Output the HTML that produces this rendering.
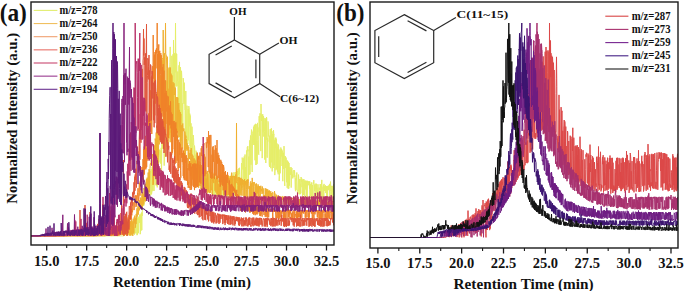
<!DOCTYPE html>
<html><head><meta charset="utf-8"><style>
html,body{margin:0;padding:0;background:#fff;width:685px;height:291px;overflow:hidden}
svg{display:block}
text{font-family:"Liberation Serif",serif;font-weight:bold;fill:#111}
.tk{font-size:14.5px}
.ax{font-size:14.6px}
.yl{font-size:13.7px}
.pl{font-size:22px}
.lg{font-size:10.5px}
.mo{font-size:11px}
</style></head><body>
<svg width="685" height="291" viewBox="0 0 685 291">
<defs><clipPath id="cl"><rect x="31" y="2" width="303" height="243"/></clipPath><clipPath id="cr"><rect x="370" y="2" width="308" height="246"/></clipPath></defs>
<g clip-path="url(#cl)"><polyline points="31.0,235.9 31.2,235.9 31.5,235.9 31.8,235.9 32.0,235.9 32.2,235.9 32.5,235.9 32.8,235.9 33.0,235.9 33.2,235.9 33.5,235.9 33.8,235.9 34.0,235.9 34.2,235.9 34.5,235.9 34.8,235.9 35.0,235.9 35.2,235.9 35.5,235.9 35.8,235.9 36.0,235.9 36.2,235.9 36.5,235.9 36.8,235.9 37.0,235.9 37.2,235.9 37.5,235.9 37.8,235.9 38.0,235.9 38.2,235.9 38.5,235.9 38.8,235.9 39.0,235.9 39.2,235.9 39.5,235.9 39.8,235.9 40.0,235.9 40.2,235.9 40.5,235.9 40.8,235.9 41.0,235.9 41.2,235.9 41.5,235.9 41.8,235.9 42.0,235.9 42.2,235.9 42.5,235.9 42.8,235.9 43.0,235.9 43.2,235.9 43.5,235.9 43.8,235.9 44.0,235.9 44.2,235.9 44.5,235.9 44.8,235.9 45.0,235.9 45.2,235.9 45.5,235.9 45.8,235.9 46.0,235.9 46.2,235.9 46.5,235.9 46.8,235.9 47.0,235.9 47.2,235.9 47.5,235.9 47.8,235.9 48.0,235.9 48.2,235.9 48.5,235.9 48.8,235.9 49.0,235.9 49.2,235.9 49.5,235.9 49.8,235.9 50.0,235.9 50.2,235.9 50.5,235.9 50.8,235.9 51.0,235.9 51.2,235.9 51.5,235.9 51.8,235.9 52.0,235.9 52.2,235.9 52.5,235.9 52.8,235.9 53.0,235.9 53.2,235.9 53.5,235.9 53.8,235.9 54.0,235.9 54.2,235.9 54.5,235.9 54.8,235.9 55.0,235.9 55.2,235.9 55.5,235.9 55.8,235.9 56.0,235.9 56.2,235.9 56.5,235.9 56.8,235.9 57.0,235.9 57.2,235.9 57.5,235.9 57.8,235.9 58.0,235.9 58.2,235.9 58.5,235.9 58.8,235.9 59.0,235.9 59.2,235.9 59.5,235.9 59.8,235.9 60.0,235.9 60.2,235.9 60.5,235.9 60.8,235.9 61.0,235.9 61.2,235.9 61.5,235.9 61.8,235.9 62.0,235.9 62.2,235.9 62.5,235.9 62.8,235.9 63.0,235.9 63.2,235.9 63.5,235.9 63.8,235.9 64.0,235.9 64.2,235.9 64.5,235.9 64.8,235.9 65.0,235.9 65.2,235.9 65.5,235.9 65.8,235.9 66.0,235.9 66.2,235.9 66.5,235.9 66.8,235.9 67.0,235.9 67.2,235.9 67.5,235.9 67.8,235.9 68.0,235.9 68.2,235.9 68.5,235.9 68.8,235.9 69.0,235.9 69.2,235.9 69.5,235.9 69.8,235.9 70.0,235.9 70.2,235.9 70.5,235.9 70.8,235.9 71.0,235.9 71.2,235.9 71.5,235.9 71.8,235.9 72.0,235.9 72.2,235.9 72.5,235.9 72.8,235.9 73.0,235.9 73.2,235.9 73.5,235.9 73.8,235.9 74.0,235.9 74.2,235.9 74.5,235.9 74.8,235.9 75.0,235.9 75.2,235.9 75.5,235.9 75.8,235.9 76.0,235.9 76.2,235.9 76.5,235.9 76.8,235.9 77.0,235.9 77.2,235.9 77.5,235.9 77.8,235.9 78.0,235.9 78.2,235.9 78.5,235.9 78.8,235.9 79.0,235.9 79.2,235.9 79.5,235.9 79.8,235.9 80.0,235.9 80.2,235.9 80.5,235.9 80.8,235.9 81.0,235.9 81.2,235.9 81.5,235.9 81.8,235.9 82.0,235.9 82.2,235.9 82.5,235.9 82.8,235.9 83.0,235.9 83.2,235.9 83.5,235.9 83.8,235.9 84.0,235.9 84.2,235.9 84.5,235.9 84.8,235.9 85.0,235.9 85.2,235.9 85.5,235.9 85.8,235.9 86.0,235.9 86.2,235.9 86.5,235.9 86.8,235.9 87.0,235.9 87.2,235.9 87.5,235.9 87.8,235.9 88.0,235.9 88.2,235.9 88.5,235.9 88.8,235.9 89.0,235.9 89.2,235.9 89.5,235.9 89.8,235.9 90.0,235.9 90.2,235.9 90.5,235.9 90.8,235.9 91.0,235.9 91.2,235.9 91.5,235.9 91.8,235.9 92.0,235.9 92.2,235.9 92.5,235.9 92.8,235.9 93.0,235.9 93.2,235.9 93.5,235.9 93.8,235.9 94.0,235.9 94.2,235.9 94.5,235.9 94.8,235.9 95.0,235.9 95.2,235.9 95.5,235.9 95.8,235.9 96.0,235.9 96.2,235.9 96.5,235.9 96.8,235.9 97.0,235.9 97.2,235.9 97.5,235.9 97.8,235.9 98.0,235.9 98.2,235.9 98.5,235.9 98.8,235.9 99.0,235.9 99.2,235.9 99.5,235.9 99.8,235.9 100.0,235.9 100.2,235.9 100.5,235.9 100.8,235.9 101.0,235.9 101.2,235.9 101.5,235.9 101.8,235.9 102.0,235.9 102.2,235.9 102.5,235.9 102.8,235.9 103.0,235.9 103.2,235.9 103.5,235.9 103.8,235.9 104.0,235.9 104.2,235.9 104.5,235.9 104.8,235.9 105.0,235.9 105.2,235.9 105.5,235.9 105.8,235.9 106.0,235.9 106.2,235.9 106.5,235.9 106.8,235.9 107.0,235.9 107.2,235.9 107.5,235.9 107.8,235.9 108.0,235.9 108.2,235.9 108.5,235.9 108.8,235.9 109.0,235.9 109.2,235.9 109.5,235.9 109.8,235.9 110.0,235.9 110.2,235.9 110.5,235.9 110.8,235.9 111.0,235.9 111.2,235.9 111.5,235.9 111.8,235.9 112.0,235.9 112.2,235.9 112.5,235.9 112.8,235.9 113.0,235.9 113.2,235.9 113.5,235.9 113.8,235.9 114.0,235.9 114.2,235.9 114.5,235.9 114.8,235.9 115.0,235.9 115.2,235.9 115.5,235.9 115.8,235.9 116.0,235.9 116.2,235.9 116.5,235.9 116.8,235.9 117.0,235.9 117.2,235.9 117.5,235.9 117.8,235.9 118.0,235.9 118.2,235.9 118.5,235.9 118.8,235.9 119.0,235.9 119.2,235.9 119.5,235.9 119.8,235.9 120.0,235.9 120.2,235.9 120.5,235.9 120.8,235.9 121.0,235.9 121.2,235.9 121.5,235.9 121.8,235.9 122.0,235.9 122.2,235.9 122.5,235.9 122.8,235.9 123.0,235.9 123.2,235.9 123.5,235.9 123.8,235.9 124.0,235.9 124.2,234.9 124.5,234.0 124.8,233.0 125.0,234.9 125.2,233.1 125.5,230.0 125.8,229.6 126.0,228.1 126.2,230.2 126.5,228.8 126.8,228.6 127.0,235.8 127.2,227.5 127.5,231.2 127.8,227.0 128.0,234.9 128.2,234.8 128.5,226.8 128.8,228.1 129.0,226.1 129.2,227.5 129.5,226.9 129.8,235.5 130.0,225.3 130.2,224.2 130.5,235.3 130.8,234.5 131.0,223.7 131.2,223.3 131.5,224.1 131.8,235.1 132.0,222.9 132.2,235.3 132.5,222.4 132.8,222.0 133.0,221.8 133.2,222.6 133.5,221.5 133.8,232.4 134.0,226.9 134.2,232.5 134.5,234.7 134.8,233.0 135.0,222.9 135.2,220.7 135.5,219.4 135.8,233.3 136.0,218.9 136.2,219.0 136.5,218.7 136.8,225.6 137.0,235.2 137.2,217.7 137.5,234.8 137.8,218.4 138.0,216.6 138.2,232.5 138.5,233.2 138.8,217.5 139.0,218.6 139.2,222.6 139.5,214.9 139.8,222.7 140.0,214.5 140.2,234.2 140.5,232.8 140.8,214.6 141.0,230.7 141.2,213.1 141.5,212.6 141.8,230.1 142.0,212.8 142.2,215.9 142.5,202.4 142.8,200.8 143.0,196.9 143.2,205.7 143.5,205.7 143.8,196.2 144.0,205.4 144.2,188.5 144.5,201.5 144.8,187.9 145.0,192.0 145.2,190.6 145.5,200.1 145.8,200.1 146.0,183.4 146.2,190.4 146.5,196.9 146.8,183.6 147.0,197.7 147.2,186.2 147.5,180.8 147.8,178.9 148.0,182.4 148.2,178.0 148.5,177.6 148.8,195.2 149.0,175.7 149.2,176.5 149.5,180.4 149.8,180.2 150.0,176.7 150.2,195.5 150.5,170.9 150.8,173.0 151.0,173.2 151.2,169.2 151.5,194.4 151.8,192.8 152.0,189.8 152.2,166.8 152.5,190.6 152.8,191.1 153.0,191.0 153.2,164.5 153.5,165.4 153.8,163.9 154.0,190.9 154.2,168.4 154.5,166.3 154.8,165.0 155.0,163.8 155.2,184.9 155.5,161.9 155.8,158.9 156.0,158.1 156.2,186.0 156.5,185.5 156.8,163.3 157.0,181.9 157.2,187.4 157.5,183.9 157.8,165.2 158.0,153.3 158.2,180.3 158.5,154.0 158.8,151.6 159.0,155.3 159.2,150.4 159.5,149.7 159.8,157.0 160.0,162.4 160.2,150.4 160.5,158.4 160.8,163.7 161.0,154.9 161.2,147.8 161.5,179.8 161.8,143.1 162.0,140.6 162.2,145.3 162.5,148.6 162.8,133.3 163.0,131.3 163.2,127.5 163.5,125.1 163.8,124.1 164.0,120.1 164.2,165.6 164.5,129.0 164.8,132.6 165.0,110.2 165.2,109.5 165.5,156.5 165.8,105.9 166.0,100.2 166.2,104.7 166.5,80.7 166.8,105.4 167.0,88.5 167.2,104.7 167.5,104.7 167.8,80.9 168.0,146.0 168.2,142.9 168.5,72.1 168.8,68.3 169.0,130.6 169.2,101.3 169.5,138.3 169.8,64.4 170.0,62.3 170.2,46.9 170.5,131.8 170.8,125.2 171.0,129.6 171.2,127.5 171.5,118.1 171.8,55.8 172.0,79.6 172.2,121.3 172.5,93.2 172.8,80.0 173.0,54.3 173.2,119.3 173.5,40.0 173.8,62.6 174.0,53.7 174.2,53.3 174.5,53.3 174.8,134.4 175.0,54.8 175.2,72.4 175.5,23.0 175.8,55.3 176.0,86.6 176.2,82.8 176.5,53.6 176.8,54.3 177.0,86.2 177.2,81.6 177.5,81.1 177.8,71.5 178.0,93.6 178.2,121.8 178.5,83.1 178.8,80.6 179.0,65.3 179.2,131.3 179.5,61.9 179.8,97.2 180.0,87.3 180.2,140.4 180.5,67.2 180.8,90.2 181.0,140.8 181.2,140.3 181.5,70.8 181.8,76.6 182.0,129.2 182.2,128.0 182.5,103.4 182.8,130.9 183.0,94.3 183.2,78.1 183.5,82.3 183.8,95.0 184.0,103.9 184.2,82.6 184.5,86.8 184.8,110.3 185.0,110.5 185.2,140.7 185.5,138.2 185.8,91.0 186.0,113.1 186.2,113.3 186.5,137.7 186.8,132.7 187.0,105.7 187.2,140.8 187.5,136.9 187.8,144.0 188.0,116.0 188.2,109.1 188.5,140.3 188.8,106.1 189.0,107.6 189.2,109.2 189.5,126.2 189.8,113.7 190.0,146.2 190.2,115.5 190.5,150.4 190.8,135.7 191.0,123.3 191.2,136.7 191.5,138.9 191.8,155.8 192.0,126.7 192.2,133.9 192.5,159.0 192.8,143.4 193.0,144.7 193.2,135.0 193.5,137.6 193.8,143.8 194.0,164.2 194.2,169.2 194.5,145.6 194.8,149.3 195.0,169.5 195.2,154.6 195.5,155.1 195.8,173.6 196.0,150.7 196.2,151.6 196.5,151.9 196.8,174.1 197.0,153.5 197.2,155.3 197.5,178.8 197.8,177.2 198.0,167.9 198.2,160.7 198.5,180.3 198.8,161.0 199.0,178.2 199.2,162.2 199.5,165.2 199.8,164.8 200.0,165.0 200.2,171.0 200.5,166.0 200.8,166.0 201.0,169.8 201.2,167.8 201.5,167.3 201.8,167.0 202.0,177.4 202.2,184.8 202.5,169.2 202.8,170.8 203.0,169.8 203.2,184.5 203.5,188.4 203.8,169.7 204.0,178.1 204.2,170.3 204.5,190.3 204.8,179.2 205.0,174.8 205.2,190.6 205.5,174.3 205.8,178.3 206.0,171.8 206.2,187.9 206.5,188.6 206.8,173.5 207.0,189.8 207.2,188.8 207.5,191.6 207.8,176.9 208.0,174.0 208.2,191.7 208.5,177.3 208.8,192.4 209.0,175.5 209.2,175.9 209.5,191.1 209.8,175.5 210.0,170.3 210.2,192.3 210.5,175.0 210.8,177.3 211.0,177.9 211.2,177.3 211.5,177.0 211.8,181.2 212.0,183.3 212.2,175.4 212.5,192.1 212.8,194.6 213.0,175.7 213.2,176.4 213.5,194.9 213.8,175.9 214.0,177.2 214.2,176.1 214.5,177.2 214.8,196.1 215.0,176.4 215.2,192.4 215.5,178.4 215.8,176.6 216.0,177.7 216.2,194.5 216.5,180.8 216.8,180.3 217.0,196.8 217.2,177.9 217.5,181.7 217.8,193.4 218.0,183.4 218.2,181.0 218.5,186.2 218.8,180.4 219.0,196.3 219.2,178.8 219.5,181.8 219.8,194.5 220.0,178.9 220.2,195.7 220.5,181.9 220.8,178.0 221.0,183.0 221.2,178.2 221.5,172.7 221.8,186.1 222.0,197.9 222.2,197.7 222.5,177.6 222.8,177.3 223.0,193.7 223.2,177.6 223.5,196.7 223.8,181.1 224.0,178.8 224.2,195.5 224.5,193.7 224.8,186.0 225.0,177.2 225.2,182.7 225.5,177.2 225.8,177.0 226.0,194.8 226.2,179.4 226.5,196.5 226.8,184.3 227.0,178.4 227.2,179.0 227.5,196.6 227.8,177.4 228.0,183.0 228.2,198.0 228.5,176.7 228.8,180.9 229.0,176.7 229.2,196.4 229.5,179.2 229.8,177.8 230.0,193.3 230.2,176.6 230.5,181.9 230.8,176.3 231.0,193.4 231.2,176.3 231.5,172.9 231.8,183.6 232.0,176.8 232.2,193.7 232.5,186.6 232.8,179.6 233.0,175.4 233.2,197.3 233.5,174.4 233.8,174.1 234.0,172.2 234.2,194.4 234.5,177.8 234.8,193.8 235.0,195.5 235.2,173.4 235.5,172.1 235.8,192.8 236.0,192.9 236.2,179.1 236.5,171.0 236.8,193.0 237.0,172.2 237.2,192.8 237.5,170.9 237.8,172.6 238.0,189.5 238.2,169.0 238.5,174.9 238.8,170.9 239.0,168.1 239.2,173.9 239.5,167.8 239.8,177.9 240.0,180.4 240.2,187.6 240.5,193.2 240.8,190.9 241.0,189.7 241.2,190.7 241.5,163.1 241.8,185.6 242.0,190.0 242.2,157.6 242.5,160.6 242.8,163.5 243.0,169.5 243.2,164.4 243.5,158.4 243.8,186.7 244.0,182.5 244.2,156.5 244.5,180.7 244.8,181.4 245.0,154.5 245.2,182.0 245.5,167.3 245.8,184.1 246.0,182.5 246.2,178.7 246.5,150.5 246.8,179.2 247.0,160.8 247.2,147.4 247.5,146.4 247.8,151.3 248.0,149.5 248.2,179.9 248.5,179.6 248.8,156.6 249.0,175.0 249.2,146.0 249.5,151.0 249.8,140.3 250.0,174.2 250.2,144.5 250.5,135.5 250.8,137.5 251.0,164.7 251.2,135.8 251.5,129.6 251.8,130.9 252.0,166.7 252.2,172.0 252.5,137.9 252.8,133.5 253.0,131.6 253.2,142.3 253.5,127.0 253.8,145.0 254.0,126.0 254.2,125.5 254.5,145.1 254.8,124.7 255.0,160.3 255.2,125.3 255.5,123.8 255.8,165.0 256.0,164.0 256.2,124.2 256.5,164.4 256.8,141.1 257.0,163.8 257.2,163.9 257.5,122.9 257.8,132.0 258.0,127.5 258.2,139.3 258.5,153.7 258.8,154.7 259.0,118.6 259.2,116.1 259.5,123.6 259.8,135.8 260.0,113.3 260.2,133.0 260.5,129.7 260.8,151.1 261.0,104.0 261.2,114.7 261.5,121.0 261.8,117.9 262.0,114.3 262.2,158.1 262.5,116.7 262.8,114.4 263.0,132.2 263.2,116.0 263.5,116.4 263.8,136.6 264.0,117.8 264.2,118.0 264.5,131.4 264.8,159.6 265.0,137.4 265.2,120.1 265.5,118.7 265.8,163.0 266.0,118.3 266.2,139.8 266.5,117.0 266.8,118.7 267.0,154.6 267.2,157.7 267.5,138.0 267.8,141.6 268.0,121.4 268.2,122.6 268.5,136.6 268.8,136.8 269.0,137.4 269.2,164.2 269.5,166.9 269.8,135.6 270.0,142.8 270.2,129.1 270.5,164.0 270.8,168.2 271.0,138.2 271.2,128.4 271.5,128.4 271.8,162.4 272.0,131.2 272.2,171.4 272.5,134.2 272.8,141.4 273.0,165.4 273.2,168.0 273.5,130.1 273.8,134.5 274.0,134.1 274.2,165.2 274.5,140.5 274.8,175.1 275.0,171.4 275.2,138.4 275.5,148.1 275.8,137.5 276.0,170.2 276.2,138.8 276.5,142.1 276.8,169.0 277.0,145.2 277.2,143.6 277.5,172.2 277.8,148.8 278.0,146.7 278.2,174.3 278.5,144.6 278.8,148.8 279.0,149.6 279.2,180.9 279.5,175.5 279.8,156.8 280.0,149.6 280.2,173.3 280.5,159.3 280.8,147.5 281.0,148.1 281.2,156.4 281.5,149.1 281.8,149.5 282.0,166.0 282.2,150.5 282.5,162.4 282.8,181.2 283.0,153.4 283.2,157.2 283.5,152.8 283.8,169.1 284.0,146.1 284.2,154.8 284.5,182.9 284.8,185.9 285.0,170.9 285.2,156.0 285.5,167.8 285.8,167.2 286.0,157.5 286.2,157.9 286.5,180.8 286.8,182.3 287.0,160.7 287.2,187.8 287.5,160.7 287.8,163.9 288.0,164.7 288.2,188.9 288.5,161.8 288.8,188.5 289.0,163.0 289.2,184.0 289.5,185.5 289.8,167.3 290.0,169.8 290.2,174.9 290.5,172.0 290.8,172.1 291.0,167.0 291.2,187.6 291.5,169.3 291.8,168.7 292.0,168.2 292.2,173.8 292.5,174.9 292.8,178.4 293.0,173.1 293.2,171.4 293.5,170.3 293.8,170.8 294.0,177.1 294.2,175.5 294.5,170.3 294.8,173.7 295.0,179.5 295.2,188.7 295.5,191.2 295.8,178.5 296.0,190.0 296.2,175.3 296.5,180.2 296.8,172.5 297.0,182.0 297.2,190.7 297.5,194.2 297.8,193.9 298.0,189.9 298.2,190.9 298.5,174.6 298.8,177.9 299.0,193.0 299.2,194.3 299.5,179.4 299.8,183.2 300.0,179.0 300.2,194.2 300.5,183.7 300.8,193.3 301.0,177.2 301.2,177.0 301.5,181.7 301.8,178.6 302.0,187.2 302.2,179.8 302.5,197.4 302.8,194.0 303.0,182.9 303.2,179.1 303.5,195.0 303.8,182.5 304.0,179.4 304.2,180.1 304.5,180.4 304.8,198.8 305.0,184.2 305.2,187.8 305.5,180.6 305.8,189.6 306.0,182.4 306.2,181.2 306.5,197.4 306.8,180.7 307.0,197.7 307.2,198.2 307.5,180.9 307.8,182.9 308.0,181.4 308.2,185.3 308.5,183.7 308.8,181.5 309.0,182.6 309.2,181.4 309.5,188.7 309.8,181.6 310.0,198.0 310.2,189.0 310.5,197.2 310.8,183.9 311.0,199.9 311.2,199.3 311.5,182.7 311.8,182.3 312.0,199.6 312.2,199.4 312.5,185.2 312.8,190.7 313.0,200.4 313.2,182.9 313.5,183.4 313.8,180.1 314.0,183.3 314.2,183.5 314.5,190.9 314.8,184.7 315.0,200.6 315.2,190.9 315.5,189.6 315.8,183.6 316.0,185.2 316.2,197.6 316.5,183.9 316.8,184.0 317.0,188.7 317.2,188.2 317.5,192.6 317.8,199.9 318.0,184.3 318.2,192.9 318.5,201.3 318.8,201.3 319.0,187.8 319.2,187.7 319.5,188.2 319.8,190.3 320.0,188.9 320.2,184.0 320.5,199.3 320.8,185.2 321.0,193.4 321.2,200.0 321.5,185.4 321.8,179.9 322.0,188.4 322.2,187.5 322.5,200.4 322.8,200.9 323.0,186.0 323.2,185.3 323.5,185.3 323.8,201.2 324.0,183.9 324.2,185.4 324.5,190.7 324.8,186.5 325.0,189.2 325.2,191.1 325.5,185.4 325.8,193.1 326.0,187.4 326.2,186.0 326.5,186.9 326.8,199.2 327.0,186.0 327.2,188.0 327.5,201.3 327.8,186.7 328.0,185.9 328.2,190.2 328.5,185.8 328.8,189.5 329.0,185.6 329.2,186.7 329.5,183.9 329.8,200.1 330.0,202.6 330.2,191.3 330.5,181.6 330.8,190.9 331.0,189.7 331.2,202.6 331.5,199.8 331.8,185.9 332.0,201.8 332.2,185.9 332.5,191.7 332.8,187.9 333.0,187.0 333.2,200.5 333.5,187.8 333.8,184.4 334.0,185.2" fill="none" stroke="#e6ee68" stroke-width="1.0" stroke-linejoin="miter"/><polyline points="31.0,235.9 31.2,235.9 31.5,235.9 31.8,235.9 32.0,235.9 32.2,235.9 32.5,235.9 32.8,235.9 33.0,235.9 33.2,235.9 33.5,235.9 33.8,235.9 34.0,235.9 34.2,235.9 34.5,235.9 34.8,235.9 35.0,235.9 35.2,235.9 35.5,235.9 35.8,235.9 36.0,235.9 36.2,235.9 36.5,235.9 36.8,235.9 37.0,235.9 37.2,235.9 37.5,235.9 37.8,235.9 38.0,235.9 38.2,235.9 38.5,235.9 38.8,235.9 39.0,235.9 39.2,235.9 39.5,235.9 39.8,235.9 40.0,235.9 40.2,235.9 40.5,235.9 40.8,235.9 41.0,235.9 41.2,235.9 41.5,235.9 41.8,235.9 42.0,235.9 42.2,235.9 42.5,235.9 42.8,235.9 43.0,235.9 43.2,235.9 43.5,235.9 43.8,235.9 44.0,235.9 44.2,235.9 44.5,235.9 44.8,235.9 45.0,235.9 45.2,235.9 45.5,235.9 45.8,235.9 46.0,235.9 46.2,235.9 46.5,235.9 46.8,235.9 47.0,235.9 47.2,235.9 47.5,235.9 47.8,235.9 48.0,235.9 48.2,235.9 48.5,235.9 48.8,235.9 49.0,235.9 49.2,235.9 49.5,235.9 49.8,235.9 50.0,235.9 50.2,235.9 50.5,235.9 50.8,235.9 51.0,235.9 51.2,235.9 51.5,235.9 51.8,235.9 52.0,235.9 52.2,235.9 52.5,235.9 52.8,235.9 53.0,235.9 53.2,235.9 53.5,235.9 53.8,235.9 54.0,235.9 54.2,235.9 54.5,235.9 54.8,235.9 55.0,235.9 55.2,235.9 55.5,235.9 55.8,235.9 56.0,235.9 56.2,235.9 56.5,235.9 56.8,235.9 57.0,235.9 57.2,235.9 57.5,235.9 57.8,235.9 58.0,235.9 58.2,235.9 58.5,235.9 58.8,235.9 59.0,235.9 59.2,235.9 59.5,235.9 59.8,235.9 60.0,235.9 60.2,235.9 60.5,235.9 60.8,235.9 61.0,235.9 61.2,235.9 61.5,235.9 61.8,235.9 62.0,235.9 62.2,235.9 62.5,235.9 62.8,235.9 63.0,235.9 63.2,235.9 63.5,235.9 63.8,235.9 64.0,235.9 64.2,235.9 64.5,235.9 64.8,235.9 65.0,235.9 65.2,235.9 65.5,235.9 65.8,235.9 66.0,235.9 66.2,235.9 66.5,235.9 66.8,235.9 67.0,235.9 67.2,235.9 67.5,235.9 67.8,235.9 68.0,235.9 68.2,235.9 68.5,235.9 68.8,235.9 69.0,235.9 69.2,235.9 69.5,235.9 69.8,235.9 70.0,235.9 70.2,235.9 70.5,235.9 70.8,235.9 71.0,235.9 71.2,235.9 71.5,235.9 71.8,235.9 72.0,235.9 72.2,235.9 72.5,235.9 72.8,235.9 73.0,235.9 73.2,235.9 73.5,235.9 73.8,235.9 74.0,235.9 74.2,235.9 74.5,235.9 74.8,235.9 75.0,235.9 75.2,235.9 75.5,235.9 75.8,235.9 76.0,235.9 76.2,235.9 76.5,235.9 76.8,235.9 77.0,235.9 77.2,235.9 77.5,235.9 77.8,235.9 78.0,235.9 78.2,235.9 78.5,235.9 78.8,235.9 79.0,235.9 79.2,235.9 79.5,235.9 79.8,235.9 80.0,235.9 80.2,235.9 80.5,235.9 80.8,235.9 81.0,235.9 81.2,235.9 81.5,235.9 81.8,235.9 82.0,235.9 82.2,235.9 82.5,235.9 82.8,235.9 83.0,235.9 83.2,235.9 83.5,235.9 83.8,235.9 84.0,235.9 84.2,235.9 84.5,235.9 84.8,235.9 85.0,235.9 85.2,235.9 85.5,235.9 85.8,235.9 86.0,235.9 86.2,235.9 86.5,235.9 86.8,235.9 87.0,235.9 87.2,235.9 87.5,235.9 87.8,235.9 88.0,235.9 88.2,235.9 88.5,235.9 88.8,235.9 89.0,235.9 89.2,235.9 89.5,235.9 89.8,235.9 90.0,235.9 90.2,235.9 90.5,235.9 90.8,235.9 91.0,235.9 91.2,235.9 91.5,235.9 91.8,235.9 92.0,235.9 92.2,235.9 92.5,235.9 92.8,235.9 93.0,235.9 93.2,235.9 93.5,235.9 93.8,235.9 94.0,235.9 94.2,235.9 94.5,235.9 94.8,235.9 95.0,235.9 95.2,235.9 95.5,235.9 95.8,235.9 96.0,235.9 96.2,235.9 96.5,235.9 96.8,235.9 97.0,235.9 97.2,235.9 97.5,235.9 97.8,235.9 98.0,235.9 98.2,235.9 98.5,235.9 98.8,235.9 99.0,235.9 99.2,235.9 99.5,235.9 99.8,235.9 100.0,235.9 100.2,235.9 100.5,235.9 100.8,235.9 101.0,235.9 101.2,235.9 101.5,235.9 101.8,235.9 102.0,235.9 102.2,235.9 102.5,235.9 102.8,235.9 103.0,235.9 103.2,235.9 103.5,235.9 103.8,235.9 104.0,235.9 104.2,235.9 104.5,235.9 104.8,235.9 105.0,235.9 105.2,235.9 105.5,235.9 105.8,235.6 106.0,235.9 106.2,235.5 106.5,235.3 106.8,235.3 107.0,235.6 107.2,235.1 107.5,235.4 107.8,234.9 108.0,234.8 108.2,235.9 108.5,234.6 108.8,234.7 109.0,234.3 109.2,234.3 109.5,234.3 109.8,234.1 110.0,234.0 110.2,235.8 110.5,234.1 110.8,234.2 111.0,234.4 111.2,233.5 111.5,234.1 111.8,235.7 112.0,235.6 112.2,233.2 112.5,233.1 112.8,234.0 113.0,233.3 113.2,233.1 113.5,233.5 113.8,235.1 114.0,233.6 114.2,233.0 114.5,233.3 114.8,233.8 115.0,235.7 115.2,232.7 115.5,235.7 115.8,232.2 116.0,233.0 116.2,231.6 116.5,234.9 116.8,231.1 117.0,232.8 117.2,235.4 117.5,230.5 117.8,235.6 118.0,235.0 118.2,231.5 118.5,229.9 118.8,235.3 119.0,235.0 119.2,229.9 119.5,229.4 119.8,231.8 120.0,234.4 120.2,228.9 120.5,229.3 120.8,234.3 121.0,230.1 121.2,234.6 121.5,229.8 121.8,228.5 122.0,229.3 122.2,229.8 122.5,230.0 122.8,229.3 123.0,227.3 123.2,234.3 123.5,235.4 123.8,230.9 124.0,235.6 124.2,235.9 124.5,230.8 124.8,226.7 125.0,227.0 125.2,225.8 125.5,226.0 125.8,225.4 126.0,225.6 126.2,225.1 126.5,235.8 126.8,233.9 127.0,234.4 127.2,224.9 127.5,233.8 127.8,233.9 128.0,223.7 128.2,234.1 128.5,228.4 128.8,227.2 129.0,226.7 129.2,235.5 129.5,222.0 129.8,227.2 130.0,226.6 130.2,221.4 130.5,227.2 130.8,235.6 131.0,220.8 131.2,225.8 131.5,220.2 131.8,234.3 132.0,220.7 132.2,221.5 132.5,225.6 132.8,235.9 133.0,232.7 133.2,218.7 133.5,226.2 133.8,233.5 134.0,231.8 134.2,217.3 134.5,223.3 134.8,215.6 135.0,221.9 135.2,227.8 135.5,227.3 135.8,217.8 136.0,224.0 136.2,213.9 136.5,220.1 136.8,211.6 137.0,208.3 137.2,216.6 137.5,214.4 137.8,209.3 138.0,206.2 138.2,214.7 138.5,212.8 138.8,206.7 139.0,206.9 139.2,201.4 139.5,210.3 139.8,200.3 140.0,204.4 140.2,204.4 140.5,200.3 140.8,197.5 141.0,209.1 141.2,198.7 141.5,208.0 141.8,208.4 142.0,193.6 142.2,207.7 142.5,192.4 142.8,192.0 143.0,205.2 143.2,194.1 143.5,194.2 143.8,203.7 144.0,188.0 144.2,189.8 144.5,189.3 144.8,200.8 145.0,190.3 145.2,184.3 145.5,201.4 145.8,184.2 146.0,185.8 146.2,180.4 146.5,179.0 146.8,196.2 147.0,177.9 147.2,177.6 147.5,180.9 147.8,196.2 148.0,179.5 148.2,172.5 148.5,190.7 148.8,191.5 149.0,169.2 149.2,171.1 149.5,192.3 149.8,170.3 150.0,168.2 150.2,164.6 150.5,163.1 150.8,164.8 151.0,163.4 151.2,159.8 151.5,160.0 151.8,157.2 152.0,156.1 152.2,155.1 152.5,154.2 152.8,158.6 153.0,185.0 153.2,160.3 153.5,184.1 153.8,155.1 154.0,145.2 154.2,146.3 154.5,145.9 154.8,158.5 155.0,176.8 155.2,138.6 155.5,141.4 155.8,172.0 156.0,139.2 156.2,132.5 156.5,164.4 156.8,127.9 157.0,127.7 157.2,169.1 157.5,139.4 157.8,117.6 158.0,166.7 158.2,157.3 158.5,155.3 158.8,123.4 159.0,109.3 159.2,144.4 159.5,136.8 159.8,138.8 160.0,79.6 160.2,75.0 160.5,78.3 160.8,136.1 161.0,76.3 161.2,88.3 161.5,83.1 161.8,138.9 162.0,60.2 162.2,71.6 162.5,65.0 162.8,58.0 163.0,59.3 163.2,30.0 163.5,64.5 163.8,56.3 164.0,89.3 164.2,85.2 164.5,53.3 164.8,120.0 165.0,118.7 165.2,54.9 165.5,23.0 165.8,54.0 166.0,54.4 166.2,54.8 166.5,57.8 166.8,68.1 167.0,123.9 167.2,56.6 167.5,57.0 167.8,134.2 168.0,88.7 168.2,98.3 168.5,126.9 168.8,135.2 169.0,133.6 169.2,67.4 169.5,129.3 169.8,80.5 170.0,80.8 170.2,142.2 170.5,67.6 170.8,132.6 171.0,73.6 171.2,74.3 171.5,138.2 171.8,75.3 172.0,75.7 172.2,129.7 172.5,85.8 172.8,104.6 173.0,82.1 173.2,127.9 173.5,101.3 173.8,136.9 174.0,83.3 174.2,94.7 174.5,95.0 174.8,91.3 175.0,87.9 175.2,87.5 175.5,88.2 175.8,131.7 176.0,98.2 176.2,97.1 176.5,140.6 176.8,132.3 177.0,116.9 177.2,97.1 177.5,132.0 177.8,97.7 178.0,137.6 178.2,136.2 178.5,104.7 178.8,103.1 179.0,104.5 179.2,137.1 179.5,109.9 179.8,116.9 180.0,127.4 180.2,112.0 180.5,146.3 180.8,113.9 181.0,150.0 181.2,133.1 181.5,125.4 181.8,127.1 182.0,134.1 182.2,148.6 182.5,124.8 182.8,123.5 183.0,127.6 183.2,129.8 183.5,131.2 183.8,128.5 184.0,128.5 184.2,155.5 184.5,155.2 184.8,131.5 185.0,132.6 185.2,133.5 185.5,162.2 185.8,135.6 186.0,137.2 186.2,149.3 186.5,139.1 186.8,143.9 187.0,150.9 187.2,143.5 187.5,149.4 187.8,149.7 188.0,145.2 188.2,169.8 188.5,151.3 188.8,146.8 189.0,156.8 189.2,155.9 189.5,159.1 189.8,153.0 190.0,156.1 190.2,149.9 190.5,160.5 190.8,173.1 191.0,175.8 191.2,148.1 191.5,156.7 191.8,173.8 192.0,165.6 192.2,154.5 192.5,179.5 192.8,162.3 193.0,155.7 193.2,165.2 193.5,159.4 193.8,182.4 194.0,158.2 194.2,160.9 194.5,182.7 194.8,159.5 195.0,160.1 195.2,183.4 195.5,160.9 195.8,186.0 196.0,163.3 196.2,166.4 196.5,182.3 196.8,184.4 197.0,181.4 197.2,166.3 197.5,163.4 197.8,162.8 198.0,170.3 198.2,164.1 198.5,187.7 198.8,187.8 199.0,167.0 199.2,185.7 199.5,183.3 199.8,165.0 200.0,170.6 200.2,185.9 200.5,176.9 200.8,165.8 201.0,189.4 201.2,184.8 201.5,165.2 201.8,171.5 202.0,189.7 202.2,167.6 202.5,176.2 202.8,167.8 203.0,168.0 203.2,168.7 203.5,173.5 203.8,162.5 204.0,192.6 204.2,169.3 204.5,193.0 204.8,162.0 205.0,170.0 205.2,170.1 205.5,188.3 205.8,192.3 206.0,178.4 206.2,188.6 206.5,189.7 206.8,191.7 207.0,174.8 207.2,193.5 207.5,171.1 207.8,171.2 208.0,171.0 208.2,173.0 208.5,191.1 208.8,191.8 209.0,190.6 209.2,193.1 209.5,192.4 209.8,193.0 210.0,181.8 210.2,169.8 210.5,192.6 210.8,172.2 211.0,179.3 211.2,172.1 211.5,190.6 211.8,191.2 212.0,193.6 212.2,194.8 212.5,191.9 212.8,172.8 213.0,182.2 213.2,177.3 213.5,180.9 213.8,183.1 214.0,174.0 214.2,174.3 214.5,176.3 214.8,173.3 215.0,190.7 215.2,181.7 215.5,179.5 215.8,191.8 216.0,192.5 216.2,178.6 216.5,182.0 216.8,178.1 217.0,194.6 217.2,175.7 217.5,179.6 217.8,196.4 218.0,195.8 218.2,184.1 218.5,193.4 218.8,196.4 219.0,194.5 219.2,183.1 219.5,196.9 219.8,174.9 220.0,176.7 220.2,184.0 220.5,195.4 220.8,175.4 221.0,196.6 221.2,177.7 221.5,175.9 221.8,175.2 222.0,175.6 222.2,182.6 222.5,178.4 222.8,176.5 223.0,175.3 223.2,176.5 223.5,194.7 223.8,192.9 224.0,180.0 224.2,175.9 224.5,176.9 224.8,194.8 225.0,176.1 225.2,193.6 225.5,194.0 225.8,183.3 226.0,185.7 226.2,195.0 226.5,194.8 226.8,180.0 227.0,177.2 227.2,195.5 227.5,185.4 227.8,175.5 228.0,184.4 228.2,177.0 228.5,175.7 228.8,175.9 229.0,176.0 229.2,177.7 229.5,197.8 229.8,180.0 230.0,178.0 230.2,183.6 230.5,177.6 230.8,175.9 231.0,176.5 231.2,195.9 231.5,181.7 231.8,172.6 232.0,197.8 232.2,176.0 232.5,193.1 232.8,193.7 233.0,176.5 233.2,177.2 233.5,176.2 233.8,175.9 234.0,176.2 234.2,193.0 234.5,176.0 234.8,176.7 235.0,177.3 235.2,195.8 235.5,174.6 235.8,176.7 236.0,179.2 236.2,183.1 236.5,123.0 236.8,177.7 237.0,178.3 237.2,177.5 237.5,181.4 237.8,185.4 238.0,196.3 238.2,198.1 238.5,195.5 238.8,177.0 239.0,199.1 239.2,196.1 239.5,177.6 239.8,188.5 240.0,195.3 240.2,179.9 240.5,178.3 240.8,185.3 241.0,177.8 241.2,195.6 241.5,179.9 241.8,187.7 242.0,178.9 242.2,184.6 242.5,179.5 242.8,182.3 243.0,195.8 243.2,186.1 243.5,182.6 243.8,180.0 244.0,186.6 244.2,198.7 244.5,179.2 244.8,185.1 245.0,197.0 245.2,189.1 245.5,181.0 245.8,184.6 246.0,181.7 246.2,199.0 246.5,189.4 246.8,180.0 247.0,186.2 247.2,179.3 247.5,179.6 247.8,200.9 248.0,180.0 248.2,179.5 248.5,181.4 248.8,183.1 249.0,188.9 249.2,186.1 249.5,188.4 249.8,199.7 250.0,187.0 250.2,198.5 250.5,185.0 250.8,181.3 251.0,184.4 251.2,199.5 251.5,183.4 251.8,200.3 252.0,184.4 252.2,177.9 252.5,181.4 252.8,187.4 253.0,198.6 253.2,183.3 253.5,202.1 253.8,182.1 254.0,183.3 254.2,182.3 254.5,182.4 254.8,186.2 255.0,203.4 255.2,199.7 255.5,190.6 255.8,184.1 256.0,199.6 256.2,183.3 256.5,183.8 256.8,201.7 257.0,186.2 257.2,186.5 257.5,193.4 257.8,190.7 258.0,184.3 258.2,200.5 258.5,185.7 258.8,190.9 259.0,204.3 259.2,193.3 259.5,186.2 259.8,189.0 260.0,188.9 260.2,203.6 260.5,186.1 260.8,185.8 261.0,185.9 261.2,191.3 261.5,188.9 261.8,189.9 262.0,194.0 262.2,186.5 262.5,186.7 262.8,192.0 263.0,193.3 263.2,188.4 263.5,203.3 263.8,204.7 264.0,195.0 264.2,204.3 264.5,195.1 264.8,204.0 265.0,204.5 265.2,188.3 265.5,201.6 265.8,191.2 266.0,188.6 266.2,196.9 266.5,189.0 266.8,194.0 267.0,189.1 267.2,189.2 267.5,205.4 267.8,197.5 268.0,189.7 268.2,203.5 268.5,191.3 268.8,197.0 269.0,193.2 269.2,191.1 269.5,190.5 269.8,202.1 270.0,204.7 270.2,202.4 270.5,193.0 270.8,191.2 271.0,195.5 271.2,205.0 271.5,196.4 271.8,193.0 272.0,203.3 272.2,193.0 272.5,192.3 272.8,192.3 273.0,192.3 273.2,202.8 273.5,205.2 273.8,198.9 274.0,203.4 274.2,205.4 274.5,191.1 274.8,193.6 275.0,193.4 275.2,193.9 275.5,203.6 275.8,196.9 276.0,206.1 276.2,194.6 276.5,195.3 276.8,205.6 277.0,205.6 277.2,198.1 277.5,205.8 277.8,200.3 278.0,200.3 278.2,195.1 278.5,204.2 278.8,206.1 279.0,204.4 279.2,196.1 279.5,205.2 279.8,205.4 280.0,200.7 280.2,196.9 280.5,196.5 280.8,198.6 281.0,200.3 281.2,198.3 281.5,200.3 281.8,204.3 282.0,196.4 282.2,196.3 282.5,199.9 282.8,196.7 283.0,198.0 283.2,197.3 283.5,197.6 283.8,197.0 284.0,196.6 284.2,205.8 284.5,196.7 284.8,204.3 285.0,196.8 285.2,197.1 285.5,197.2 285.8,204.6 286.0,200.6 286.2,198.4 286.5,198.0 286.8,200.1 287.0,201.1 287.2,199.9 287.5,199.8 287.8,198.0 288.0,203.5 288.2,197.6 288.5,197.6 288.8,203.5 289.0,198.7 289.2,197.5 289.5,204.8 289.8,197.8 290.0,198.7 290.2,197.5 290.5,203.4 290.8,204.1 291.0,198.0 291.2,199.5 291.5,198.1 291.8,200.2 292.0,198.0 292.2,199.0 292.5,198.0 292.8,198.0 293.0,199.1 293.2,199.3 293.5,200.5 293.8,198.1 294.0,205.4 294.2,200.2 294.5,198.2 294.8,205.3 295.0,204.8 295.2,198.3 295.5,205.3 295.8,205.8 296.0,205.8 296.2,202.2 296.5,204.1 296.8,198.7 297.0,198.8 297.2,199.2 297.5,205.2 297.8,199.8 298.0,205.3 298.2,200.5 298.5,198.9 298.8,204.8 299.0,200.5 299.2,199.3 299.5,199.4 299.8,204.6 300.0,199.0 300.2,199.3 300.5,204.6 300.8,199.0 301.0,200.8 301.2,200.5 301.5,204.7 301.8,199.2 302.0,205.0 302.2,199.2 302.5,201.1 302.8,205.8 303.0,205.0 303.2,199.9 303.5,205.9 303.8,199.2 304.0,199.7 304.2,206.0 304.5,199.7 304.8,201.0 305.0,199.3 305.2,206.5 305.5,200.8 305.8,199.4 306.0,204.9 306.2,206.1 306.5,200.5 306.8,200.7 307.0,199.6 307.2,200.2 307.5,206.4 307.8,199.5 308.0,199.5 308.2,203.0 308.5,199.5 308.8,201.7 309.0,199.2 309.2,199.8 309.5,205.0 309.8,199.9 310.0,206.7 310.2,200.1 310.5,199.7 310.8,200.1 311.0,205.3 311.2,199.7 311.5,199.8 311.8,199.7 312.0,199.7 312.2,202.2 312.5,200.7 312.8,203.2 313.0,201.6 313.2,206.8 313.5,199.9 313.8,201.2 314.0,200.2 314.2,205.8 314.5,200.2 314.8,200.0 315.0,206.0 315.2,205.4 315.5,199.9 315.8,206.5 316.0,206.0 316.2,202.2 316.5,206.7 316.8,201.0 317.0,205.6 317.2,200.0 317.5,200.0 317.8,202.0 318.0,201.0 318.2,206.8 318.5,200.4 318.8,205.9 319.0,207.3 319.2,200.1 319.5,201.0 319.8,206.9 320.0,200.2 320.2,197.9 320.5,203.4 320.8,201.2 321.0,201.2 321.2,200.5 321.5,200.5 321.8,198.9 322.0,203.1 322.2,201.4 322.5,201.5 322.8,201.3 323.0,200.7 323.2,200.4 323.5,200.8 323.8,200.7 324.0,201.6 324.2,206.7 324.5,206.9 324.8,200.5 325.0,199.2 325.2,201.2 325.5,207.5 325.8,206.5 326.0,206.4 326.2,201.7 326.5,201.0 326.8,206.9 327.0,203.1 327.2,203.7 327.5,202.2 327.8,207.7 328.0,201.8 328.2,206.2 328.5,202.9 328.8,203.7 329.0,201.2 329.2,207.4 329.5,201.7 329.8,206.5 330.0,200.8 330.2,206.6 330.5,201.1 330.8,203.3 331.0,201.2 331.2,201.3 331.5,206.5 331.8,201.7 332.0,207.1 332.2,200.9 332.5,206.3 332.8,207.1 333.0,200.9 333.2,201.3 333.5,201.6 333.8,201.1 334.0,207.2" fill="none" stroke="#f0b030" stroke-width="1.0" stroke-linejoin="miter"/><polyline points="31.0,235.9 31.2,235.9 31.5,235.9 31.8,235.9 32.0,235.9 32.2,235.9 32.5,235.9 32.8,235.9 33.0,235.9 33.2,235.9 33.5,235.9 33.8,235.9 34.0,235.9 34.2,235.9 34.5,235.9 34.8,235.9 35.0,235.9 35.2,235.9 35.5,235.9 35.8,235.9 36.0,235.9 36.2,235.9 36.5,235.9 36.8,235.9 37.0,235.9 37.2,235.9 37.5,235.9 37.8,235.9 38.0,235.9 38.2,235.9 38.5,235.9 38.8,235.9 39.0,235.9 39.2,235.9 39.5,235.9 39.8,235.9 40.0,235.9 40.2,235.9 40.5,235.9 40.8,235.9 41.0,235.9 41.2,235.9 41.5,235.9 41.8,235.9 42.0,235.9 42.2,235.9 42.5,235.9 42.8,235.9 43.0,235.9 43.2,235.9 43.5,235.9 43.8,235.9 44.0,235.9 44.2,235.9 44.5,235.9 44.8,235.9 45.0,235.9 45.2,235.9 45.5,235.9 45.8,235.9 46.0,235.9 46.2,235.9 46.5,235.9 46.8,235.9 47.0,235.9 47.2,235.9 47.5,235.9 47.8,235.9 48.0,235.9 48.2,235.9 48.5,235.9 48.8,235.9 49.0,235.9 49.2,235.9 49.5,235.9 49.8,235.9 50.0,235.9 50.2,235.9 50.5,235.9 50.8,235.9 51.0,235.9 51.2,235.9 51.5,235.9 51.8,235.9 52.0,235.9 52.2,235.9 52.5,235.9 52.8,235.9 53.0,235.9 53.2,235.9 53.5,235.9 53.8,235.9 54.0,235.9 54.2,235.9 54.5,235.9 54.8,235.9 55.0,235.9 55.2,235.9 55.5,235.9 55.8,235.9 56.0,235.9 56.2,235.9 56.5,235.9 56.8,235.9 57.0,235.9 57.2,235.9 57.5,235.9 57.8,235.9 58.0,235.9 58.2,235.9 58.5,235.9 58.8,235.9 59.0,235.9 59.2,235.9 59.5,235.9 59.8,235.9 60.0,235.9 60.2,235.9 60.5,235.9 60.8,235.9 61.0,235.9 61.2,235.9 61.5,235.9 61.8,235.9 62.0,235.9 62.2,235.9 62.5,235.9 62.8,235.9 63.0,235.9 63.2,235.9 63.5,235.9 63.8,235.9 64.0,235.9 64.2,235.9 64.5,235.9 64.8,235.9 65.0,235.9 65.2,235.9 65.5,235.9 65.8,235.9 66.0,235.9 66.2,235.9 66.5,235.9 66.8,235.9 67.0,235.9 67.2,235.9 67.5,235.9 67.8,235.9 68.0,235.9 68.2,235.9 68.5,235.9 68.8,235.9 69.0,235.9 69.2,235.9 69.5,235.9 69.8,235.9 70.0,235.9 70.2,235.9 70.5,235.9 70.8,235.9 71.0,235.9 71.2,235.9 71.5,235.9 71.8,235.9 72.0,235.9 72.2,235.9 72.5,235.9 72.8,235.9 73.0,235.9 73.2,235.9 73.5,235.9 73.8,235.9 74.0,235.9 74.2,235.9 74.5,235.9 74.8,235.9 75.0,235.9 75.2,235.9 75.5,235.9 75.8,235.9 76.0,235.9 76.2,235.9 76.5,235.9 76.8,235.9 77.0,235.9 77.2,235.9 77.5,235.9 77.8,235.9 78.0,235.9 78.2,235.9 78.5,235.9 78.8,235.9 79.0,235.9 79.2,235.9 79.5,235.9 79.8,235.9 80.0,235.9 80.2,235.9 80.5,235.9 80.8,235.9 81.0,235.9 81.2,235.9 81.5,235.9 81.8,235.9 82.0,235.9 82.2,235.9 82.5,235.9 82.8,235.9 83.0,235.9 83.2,235.9 83.5,235.9 83.8,235.9 84.0,235.9 84.2,235.9 84.5,235.9 84.8,235.9 85.0,235.9 85.2,235.9 85.5,235.9 85.8,235.9 86.0,235.9 86.2,235.9 86.5,235.9 86.8,235.9 87.0,235.9 87.2,235.9 87.5,235.9 87.8,235.9 88.0,235.9 88.2,235.9 88.5,235.9 88.8,235.9 89.0,235.9 89.2,235.9 89.5,235.9 89.8,235.9 90.0,235.9 90.2,235.9 90.5,235.9 90.8,235.9 91.0,235.9 91.2,235.9 91.5,235.9 91.8,235.9 92.0,235.9 92.2,235.9 92.5,235.9 92.8,235.9 93.0,235.9 93.2,235.9 93.5,235.9 93.8,235.9 94.0,235.9 94.2,235.9 94.5,235.9 94.8,235.9 95.0,235.9 95.2,235.9 95.5,235.9 95.8,235.6 96.0,235.5 96.2,235.9 96.5,235.9 96.8,235.9 97.0,235.2 97.2,235.2 97.5,235.2 97.8,235.8 98.0,234.9 98.2,234.8 98.5,234.8 98.8,234.4 99.0,234.4 99.2,234.5 99.5,234.2 99.8,234.2 100.0,235.9 100.2,234.1 100.5,234.4 100.8,234.2 101.0,235.6 101.2,233.9 101.5,233.3 101.8,235.6 102.0,235.7 102.2,233.8 102.5,234.4 102.8,232.9 103.0,233.1 103.2,233.2 103.5,233.5 103.8,233.7 104.0,235.7 104.2,235.7 104.5,232.2 104.8,233.0 105.0,232.0 105.2,231.9 105.5,233.1 105.8,233.6 106.0,231.9 106.2,235.0 106.5,234.8 106.8,231.4 107.0,235.4 107.2,231.1 107.5,231.4 107.8,235.0 108.0,235.9 108.2,232.6 108.5,230.6 108.8,230.8 109.0,230.4 109.2,230.3 109.5,234.8 109.8,230.1 110.0,235.0 110.2,231.2 110.5,229.8 110.8,230.0 111.0,235.9 111.2,231.2 111.5,229.5 111.8,229.2 112.0,229.2 112.2,235.6 112.5,229.2 112.8,228.8 113.0,234.7 113.2,228.6 113.5,228.8 113.8,234.1 114.0,235.8 114.2,228.2 114.5,234.2 114.8,234.7 115.0,234.3 115.2,235.2 115.5,227.8 115.8,227.5 116.0,227.0 116.2,227.6 116.5,234.0 116.8,226.7 117.0,235.9 117.2,235.9 117.5,226.3 117.8,226.2 118.0,235.4 118.2,226.7 118.5,225.9 118.8,228.9 119.0,235.5 119.2,235.4 119.5,229.3 119.8,225.4 120.0,225.0 120.2,228.6 120.5,229.7 120.8,235.1 121.0,225.0 121.2,224.4 121.5,226.3 121.8,227.7 122.0,233.1 122.2,226.4 122.5,235.0 122.8,223.1 123.0,222.9 123.2,222.5 123.5,222.2 123.8,233.0 124.0,221.4 124.2,233.4 124.5,235.2 124.8,221.3 125.0,234.7 125.2,234.7 125.5,232.8 125.8,222.4 126.0,233.7 126.2,234.3 126.5,222.1 126.8,220.7 127.0,221.4 127.2,232.6 127.5,221.1 127.8,223.1 128.0,217.5 128.2,221.8 128.5,220.0 128.8,215.3 129.0,216.7 129.2,229.6 129.5,227.5 129.8,213.4 130.0,212.6 130.2,215.8 130.5,211.0 130.8,220.1 131.0,211.5 131.2,219.7 131.5,209.1 131.8,215.4 132.0,206.0 132.2,212.4 132.5,211.9 132.8,207.6 133.0,205.6 133.2,202.3 133.5,203.5 133.8,203.7 134.0,210.1 134.2,209.0 134.5,199.6 134.8,198.4 135.0,197.3 135.2,196.1 135.5,195.5 135.8,197.6 136.0,207.1 136.2,195.3 136.5,203.2 136.8,205.7 137.0,202.0 137.2,202.0 137.5,192.4 137.8,191.9 138.0,188.2 138.2,192.3 138.5,201.1 138.8,201.3 139.0,197.7 139.2,183.5 139.5,182.7 139.8,185.2 140.0,195.7 140.2,180.8 140.5,182.2 140.8,178.8 141.0,180.4 141.2,179.4 141.5,177.6 141.8,169.8 142.0,167.0 142.2,171.3 142.5,170.8 142.8,179.8 143.0,159.1 143.2,182.1 143.5,159.6 143.8,149.0 144.0,158.7 144.2,146.5 144.5,174.5 144.8,140.3 145.0,152.0 145.2,168.4 145.5,135.9 145.8,169.4 146.0,167.1 146.2,147.5 146.5,167.4 146.8,166.6 147.0,128.1 147.2,135.5 147.5,136.8 147.8,160.6 148.0,159.8 148.2,126.3 148.5,113.5 148.8,147.3 149.0,151.5 149.2,151.2 149.5,119.4 149.8,146.5 150.0,93.8 150.2,90.2 150.5,100.8 150.8,131.7 151.0,98.5 151.2,76.4 151.5,77.6 151.8,134.0 152.0,89.1 152.2,73.1 152.5,66.3 152.8,67.8 153.0,77.3 153.2,35.0 153.5,78.5 153.8,72.4 154.0,113.3 154.2,120.3 154.5,54.7 154.8,115.4 155.0,52.0 155.2,103.7 155.5,54.0 155.8,50.2 156.0,68.4 156.2,48.9 156.5,48.3 156.8,53.3 157.0,51.5 157.2,23.0 157.5,115.5 157.8,53.9 158.0,106.8 158.2,102.7 158.5,50.3 158.8,44.4 159.0,72.8 159.2,116.3 159.5,53.0 159.8,50.8 160.0,74.4 160.2,71.7 160.5,64.2 160.8,53.1 161.0,119.7 161.2,55.2 161.5,110.8 161.8,111.5 162.0,81.9 162.2,110.9 162.5,67.3 162.8,75.7 163.0,116.6 163.2,64.2 163.5,129.3 163.8,127.4 164.0,70.7 164.2,118.7 164.5,131.7 164.8,93.1 165.0,125.5 165.2,80.3 165.5,132.4 165.8,137.6 166.0,92.5 166.2,90.9 166.5,92.5 166.8,111.5 167.0,95.7 167.2,137.2 167.5,107.5 167.8,147.4 168.0,141.5 168.2,96.5 168.5,138.0 168.8,105.5 169.0,106.5 169.2,105.7 169.5,125.2 169.8,107.7 170.0,114.4 170.2,124.6 170.5,101.4 170.8,114.2 171.0,128.4 171.2,112.5 171.5,120.9 171.8,154.6 172.0,114.1 172.2,114.2 172.5,152.6 172.8,148.6 173.0,148.9 173.2,121.1 173.5,136.7 173.8,135.7 174.0,124.0 174.2,120.9 174.5,161.0 174.8,123.3 175.0,123.7 175.2,127.6 175.5,163.5 175.8,122.3 176.0,163.0 176.2,128.8 176.5,128.9 176.8,133.0 177.0,131.1 177.2,160.7 177.5,135.7 177.8,166.8 178.0,168.9 178.2,171.0 178.5,163.7 178.8,139.7 179.0,165.0 179.2,167.9 179.5,142.4 179.8,154.9 180.0,144.3 180.2,143.9 180.5,170.7 180.8,177.8 181.0,151.3 181.2,148.5 181.5,148.9 181.8,157.8 182.0,147.5 182.2,162.1 182.5,153.1 182.8,156.6 183.0,165.5 183.2,176.0 183.5,150.6 183.8,178.1 184.0,160.3 184.2,179.7 184.5,153.3 184.8,176.9 185.0,180.4 185.2,158.7 185.5,162.9 185.8,155.8 186.0,180.4 186.2,155.1 186.5,180.4 186.8,180.8 187.0,157.9 187.2,167.7 187.5,185.0 187.8,168.3 188.0,168.1 188.2,187.9 188.5,182.4 188.8,183.3 189.0,163.8 189.2,170.7 189.5,161.1 189.8,188.0 190.0,186.4 190.2,190.0 190.5,166.0 190.8,163.2 191.0,185.8 191.2,166.6 191.5,189.6 191.8,185.8 192.0,173.5 192.2,168.2 192.5,164.2 192.8,164.5 193.0,185.7 193.2,164.4 193.5,186.8 193.8,171.2 194.0,163.4 194.2,186.1 194.5,190.1 194.8,165.8 195.0,163.4 195.2,188.0 195.5,164.7 195.8,170.8 196.0,164.0 196.2,187.5 196.5,184.0 196.8,168.3 197.0,182.7 197.2,152.6 197.5,187.1 197.8,157.8 198.0,186.2 198.2,157.6 198.5,156.4 198.8,159.5 199.0,155.7 199.2,162.0 199.5,182.3 199.8,180.7 200.0,152.5 200.2,161.8 200.5,163.3 200.8,183.6 201.0,176.6 201.2,148.3 201.5,155.9 201.8,147.3 202.0,146.0 202.2,156.1 202.5,155.3 202.8,173.0 203.0,174.0 203.2,144.0 203.5,146.0 203.8,144.7 204.0,143.2 204.2,159.7 204.5,154.4 204.8,176.2 205.0,156.7 205.2,157.7 205.5,172.0 205.8,170.5 206.0,174.4 206.2,142.3 206.5,148.1 206.8,146.2 207.0,137.0 207.2,137.4 207.5,143.2 207.8,139.0 208.0,148.7 208.2,167.1 208.5,131.0 208.8,144.5 209.0,171.9 209.2,136.9 209.5,144.3 209.8,135.0 210.0,173.3 210.2,170.7 210.5,177.8 210.8,134.9 211.0,143.0 211.2,175.8 211.5,175.4 211.8,178.7 212.0,154.7 212.2,173.2 212.5,147.4 212.8,178.2 213.0,148.8 213.2,146.1 213.5,161.7 213.8,157.0 214.0,149.8 214.2,153.1 214.5,179.1 214.8,160.8 215.0,153.2 215.2,145.3 215.5,147.7 215.8,175.7 216.0,148.1 216.2,148.6 216.5,158.0 216.8,179.2 217.0,140.0 217.2,161.2 217.5,163.6 217.8,153.9 218.0,152.8 218.2,178.1 218.5,155.9 218.8,155.1 219.0,155.3 219.2,182.3 219.5,158.4 219.8,162.6 220.0,166.2 220.2,186.6 220.5,185.0 220.8,159.8 221.0,182.2 221.2,161.5 221.5,162.5 221.8,162.0 222.0,184.7 222.2,167.5 222.5,164.0 222.8,185.8 223.0,165.2 223.2,190.3 223.5,165.0 223.8,167.1 224.0,167.7 224.2,175.6 224.5,189.9 224.8,172.0 225.0,190.4 225.2,191.5 225.5,171.1 225.8,192.4 226.0,174.7 226.2,195.5 226.5,176.6 226.8,175.0 227.0,175.8 227.2,182.9 227.5,172.3 227.8,178.0 228.0,178.0 228.2,178.4 228.5,178.9 228.8,179.7 229.0,194.9 229.2,182.1 229.5,180.5 229.8,195.5 230.0,195.8 230.2,198.2 230.5,191.3 230.8,184.6 231.0,199.8 231.2,184.1 231.5,184.0 231.8,187.4 232.0,184.7 232.2,200.6 232.5,201.5 232.8,186.0 233.0,190.2 233.2,187.0 233.5,190.8 233.8,187.8 234.0,189.2 234.2,189.2 234.5,188.8 234.8,191.8 235.0,189.7 235.2,192.6 235.5,191.8 235.8,196.0 236.0,192.4 236.2,204.2 236.5,192.7 236.8,189.8 237.0,193.0 237.2,193.5 237.5,193.9 237.8,198.3 238.0,194.9 238.2,206.0 238.5,197.9 238.8,196.2 239.0,198.2 239.2,200.3 239.5,199.3 239.8,201.6 240.0,198.2 240.2,201.2 240.5,210.9 240.8,210.9 241.0,210.7 241.2,210.8 241.5,211.4 241.8,198.9 242.0,210.6 242.2,199.0 242.5,199.9 242.8,199.7 243.0,209.1 243.2,209.2 243.5,201.3 243.8,210.6 244.0,200.7 244.2,200.1 244.5,211.5 244.8,204.1 245.0,205.4 245.2,203.4 245.5,212.5 245.8,204.0 246.0,201.1 246.2,200.6 246.5,210.4 246.8,200.7 247.0,200.8 247.2,210.8 247.5,206.2 247.8,206.7 248.0,203.5 248.2,201.6 248.5,201.4 248.8,211.0 249.0,201.6 249.2,204.7 249.5,212.5 249.8,201.9 250.0,204.8 250.2,203.2 250.5,212.4 250.8,205.7 251.0,202.6 251.2,204.4 251.5,211.6 251.8,207.4 252.0,205.4 252.2,197.3 252.5,203.0 252.8,213.5 253.0,204.1 253.2,213.8 253.5,208.8 253.8,214.8 254.0,204.3 254.2,213.5 254.5,204.7 254.8,204.5 255.0,200.2 255.2,215.2 255.5,207.7 255.8,208.4 256.0,199.5 256.2,209.9 256.5,214.0 256.8,205.0 257.0,214.6 257.2,207.1 257.5,207.8 257.8,213.6 258.0,213.3 258.2,205.4 258.5,206.8 258.8,205.8 259.0,207.0 259.2,208.9 259.5,205.7 259.8,215.8 260.0,209.5 260.2,209.1 260.5,216.1 260.8,204.9 261.0,206.8 261.2,207.8 261.5,214.6 261.8,214.7 262.0,216.5 262.2,216.6 262.5,206.7 262.8,207.4 263.0,210.9 263.2,208.3 263.5,209.3 263.8,209.8 264.0,215.0 264.2,207.1 264.5,207.2 264.8,206.8 265.0,207.6 265.2,216.8 265.5,209.0 265.8,210.1 266.0,210.2 266.2,216.9 266.5,208.3 266.8,208.0 267.0,212.3 267.2,216.1 267.5,211.0 267.8,217.7 268.0,208.1 268.2,215.5 268.5,216.7 268.8,217.1 269.0,208.4 269.2,209.5 269.5,210.5 269.8,211.5 270.0,209.6 270.2,210.4 270.5,209.3 270.8,211.9 271.0,208.9 271.2,209.1 271.5,209.3 271.8,210.5 272.0,209.5 272.2,209.3 272.5,212.6 272.8,218.3 273.0,209.6 273.2,207.9 273.5,211.8 273.8,211.1 274.0,211.7 274.2,210.0 274.5,211.7 274.8,210.3 275.0,210.4 275.2,211.4 275.5,210.7 275.8,217.7 276.0,218.5 276.2,216.9 276.5,217.8 276.8,210.0 277.0,209.7 277.2,212.3 277.5,210.0 277.8,218.2 278.0,211.9 278.2,210.4 278.5,218.6 278.8,210.1 279.0,212.1 279.2,218.8 279.5,211.5 279.8,213.5 280.0,217.3 280.2,212.0 280.5,210.4 280.8,211.6 281.0,217.6 281.2,213.0 281.5,210.8 281.8,213.8 282.0,213.5 282.2,210.5 282.5,211.0 282.8,207.2 283.0,210.1 283.2,213.7 283.5,218.6 283.8,210.1 284.0,210.1 284.2,212.7 284.5,217.6 284.8,210.3 285.0,218.2 285.2,217.5 285.5,217.6 285.8,210.3 286.0,210.3 286.2,210.1 286.5,210.3 286.8,212.0 287.0,218.5 287.2,211.4 287.5,211.8 287.8,205.1 288.0,210.6 288.2,210.9 288.5,217.0 288.8,209.5 289.0,218.0 289.2,218.8 289.5,210.3 289.8,210.2 290.0,214.4 290.2,210.2 290.5,212.6 290.8,211.3 291.0,214.6 291.2,218.7 291.5,213.4 291.8,217.7 292.0,217.9 292.2,219.1 292.5,217.8 292.8,211.5 293.0,219.1 293.2,210.9 293.5,210.2 293.8,210.2 294.0,210.4 294.2,218.5 294.5,218.7 294.8,211.1 295.0,213.3 295.2,214.5 295.5,214.0 295.8,217.0 296.0,217.4 296.2,218.1 296.5,218.4 296.8,210.9 297.0,217.8 297.2,211.7 297.5,218.4 297.8,212.3 298.0,210.9 298.2,210.5 298.5,217.4 298.8,213.8 299.0,213.2 299.2,217.1 299.5,210.4 299.8,210.3 300.0,212.0 300.2,218.5 300.5,214.4 300.8,210.3 301.0,214.4 301.2,214.1 301.5,210.2 301.8,217.8 302.0,212.5 302.2,211.3 302.5,210.3 302.8,213.1 303.0,212.7 303.2,211.1 303.5,210.7 303.8,213.7 304.0,210.5 304.2,211.7 304.5,211.5 304.8,210.3 305.0,205.5 305.2,217.6 305.5,210.7 305.8,217.9 306.0,210.4 306.2,212.2 306.5,210.3 306.8,211.5 307.0,217.3 307.2,212.6 307.5,210.5 307.8,210.3 308.0,211.5 308.2,210.3 308.5,213.9 308.8,218.7 309.0,213.0 309.2,217.5 309.5,210.8 309.8,210.6 310.0,210.3 310.2,211.7 310.5,211.1 310.8,211.3 311.0,207.8 311.2,213.3 311.5,210.8 311.8,213.6 312.0,210.3 312.2,219.1 312.5,219.1 312.8,210.3 313.0,211.3 313.2,210.4 313.5,214.5 313.8,218.1 314.0,219.2 314.2,212.1 314.5,213.1 314.8,211.8 315.0,214.4 315.2,210.3 315.5,211.5 315.8,210.3 316.0,210.7 316.2,211.7 316.5,212.0 316.8,210.4 317.0,211.9 317.2,217.4 317.5,217.3 317.8,210.3 318.0,211.1 318.2,213.2 318.5,210.7 318.8,218.8 319.0,218.9 319.2,217.5 319.5,219.0 319.8,210.5 320.0,217.3 320.2,211.7 320.5,213.3 320.8,219.2 321.0,210.4 321.2,219.2 321.5,211.0 321.8,218.9 322.0,219.1 322.2,210.9 322.5,210.4 322.8,217.2 323.0,217.8 323.2,213.4 323.5,208.5 323.8,210.7 324.0,212.4 324.2,211.7 324.5,211.3 324.8,210.5 325.0,219.1 325.2,214.1 325.5,217.2 325.8,214.3 326.0,210.5 326.2,218.8 326.5,218.0 326.8,213.1 327.0,210.5 327.2,212.6 327.5,210.5 327.8,218.8 328.0,210.5 328.2,217.7 328.5,214.5 328.8,210.8 329.0,211.5 329.2,217.5 329.5,218.9 329.8,212.0 330.0,210.7 330.2,210.5 330.5,211.7 330.8,213.7 331.0,219.0 331.2,218.9 331.5,218.0 331.8,210.6 332.0,213.6 332.2,207.6 332.5,210.7 332.8,210.5 333.0,219.1 333.2,212.9 333.5,210.7 333.8,218.2 334.0,210.8" fill="none" stroke="#f08228" stroke-width="1.0" stroke-linejoin="miter"/><polyline points="31.0,235.9 31.2,235.9 31.5,235.9 31.8,235.9 32.0,235.9 32.2,235.9 32.5,235.9 32.8,235.9 33.0,235.9 33.2,235.9 33.5,235.9 33.8,235.9 34.0,235.9 34.2,235.9 34.5,235.9 34.8,235.9 35.0,235.9 35.2,235.9 35.5,235.9 35.8,235.9 36.0,235.9 36.2,235.9 36.5,235.9 36.8,235.9 37.0,235.9 37.2,235.9 37.5,235.9 37.8,235.9 38.0,235.9 38.2,235.9 38.5,235.9 38.8,235.9 39.0,235.9 39.2,235.9 39.5,235.9 39.8,235.9 40.0,235.9 40.2,235.9 40.5,235.9 40.8,235.9 41.0,235.9 41.2,235.9 41.5,235.9 41.8,235.9 42.0,235.9 42.2,235.9 42.5,235.9 42.8,235.9 43.0,235.9 43.2,235.9 43.5,235.9 43.8,235.9 44.0,235.9 44.2,235.9 44.5,235.9 44.8,235.9 45.0,235.9 45.2,235.9 45.5,235.9 45.8,235.9 46.0,235.9 46.2,235.9 46.5,235.9 46.8,235.9 47.0,235.9 47.2,235.9 47.5,235.9 47.8,235.9 48.0,235.9 48.2,235.9 48.5,235.9 48.8,235.9 49.0,235.9 49.2,235.9 49.5,235.9 49.8,235.9 50.0,235.9 50.2,235.9 50.5,235.9 50.8,235.9 51.0,235.9 51.2,235.9 51.5,235.9 51.8,235.9 52.0,235.9 52.2,235.9 52.5,235.9 52.8,235.9 53.0,235.9 53.2,235.9 53.5,235.9 53.8,235.9 54.0,235.9 54.2,235.9 54.5,235.9 54.8,235.9 55.0,235.9 55.2,235.9 55.5,235.9 55.8,235.9 56.0,235.9 56.2,235.9 56.5,235.9 56.8,235.9 57.0,235.9 57.2,235.9 57.5,235.9 57.8,235.9 58.0,235.9 58.2,235.9 58.5,235.9 58.8,235.9 59.0,235.9 59.2,235.9 59.5,235.9 59.8,235.9 60.0,235.9 60.2,235.9 60.5,235.9 60.8,235.9 61.0,235.9 61.2,235.9 61.5,235.9 61.8,235.9 62.0,235.9 62.2,235.9 62.5,235.9 62.8,235.9 63.0,235.9 63.2,235.9 63.5,235.9 63.8,235.9 64.0,235.9 64.2,235.9 64.5,235.9 64.8,235.9 65.0,235.9 65.2,235.9 65.5,235.5 65.8,235.9 66.0,235.9 66.2,235.9 66.5,235.9 66.8,235.6 67.0,235.5 67.2,235.7 67.5,235.9 67.8,235.5 68.0,235.5 68.2,235.3 68.5,235.2 68.8,235.5 69.0,235.1 69.2,235.5 69.5,235.1 69.8,235.9 70.0,235.0 70.2,234.9 70.5,234.9 70.8,234.8 71.0,234.9 71.2,234.7 71.5,234.6 71.8,234.9 72.0,235.1 72.2,235.0 72.5,235.6 72.8,234.4 73.0,234.4 73.2,234.8 73.5,234.4 73.8,234.4 74.0,234.3 74.2,234.1 74.5,235.9 74.8,229.4 75.0,235.8 75.2,233.9 75.5,233.9 75.8,233.8 76.0,233.8 76.2,235.5 76.5,233.8 76.8,235.5 77.0,234.3 77.2,235.7 77.5,233.5 77.8,235.4 78.0,235.7 78.2,234.3 78.5,234.4 78.8,235.5 79.0,233.3 79.2,235.5 79.5,233.1 79.8,235.5 80.0,210.0 80.2,228.6 80.5,234.3 80.8,233.2 81.0,233.5 81.2,233.2 81.5,232.9 81.8,235.8 82.0,232.7 82.2,233.4 82.5,230.3 82.8,234.0 83.0,232.9 83.2,227.7 83.5,235.3 83.8,233.8 84.0,235.4 84.2,233.8 84.5,235.4 84.8,232.4 85.0,205.0 85.2,232.2 85.5,235.0 85.8,233.7 86.0,233.4 86.2,232.2 86.5,222.9 86.8,232.8 87.0,233.7 87.2,233.0 87.5,232.4 87.8,233.6 88.0,235.9 88.2,231.8 88.5,233.2 88.8,233.2 89.0,235.5 89.2,235.3 89.5,235.7 89.8,231.9 90.0,212.0 90.2,231.5 90.5,234.9 90.8,232.3 91.0,235.8 91.2,231.3 91.5,233.3 91.8,235.5 92.0,234.8 92.2,231.2 92.5,235.5 92.8,235.4 93.0,231.2 93.2,229.4 93.5,232.0 93.8,231.3 94.0,231.1 94.2,231.1 94.5,235.1 94.8,231.0 95.0,230.8 95.2,229.2 95.5,230.7 95.8,235.4 96.0,235.2 96.2,235.1 96.5,231.4 96.8,230.6 97.0,231.1 97.2,230.5 97.5,223.9 97.8,230.4 98.0,234.8 98.2,231.3 98.5,228.6 98.8,231.1 99.0,219.1 99.2,230.2 99.5,222.6 99.8,231.8 100.0,230.7 100.2,230.4 100.5,229.9 100.8,230.0 101.0,231.3 101.2,232.5 101.5,234.6 101.8,234.4 102.0,229.7 102.2,235.5 102.5,229.5 102.8,204.1 103.0,229.4 103.2,225.4 103.5,229.5 103.8,229.2 104.0,229.1 104.2,230.1 104.5,229.3 104.8,220.1 105.0,230.2 105.2,229.7 105.5,235.0 105.8,234.5 106.0,232.2 106.2,229.4 106.5,228.6 106.8,235.1 107.0,228.6 107.2,228.7 107.5,229.3 107.8,227.3 108.0,229.9 108.2,231.7 108.5,230.6 108.8,228.5 109.0,229.6 109.2,235.8 109.5,227.7 109.8,234.3 110.0,228.0 110.2,210.6 110.5,230.9 110.8,228.4 111.0,234.2 111.2,227.2 111.5,227.2 111.8,228.4 112.0,227.3 112.2,230.3 112.5,208.9 112.8,230.3 113.0,228.0 113.2,226.7 113.5,224.8 113.8,226.8 114.0,226.6 114.2,235.3 114.5,228.6 114.8,234.2 115.0,226.3 115.2,230.9 115.5,235.1 115.8,233.6 116.0,225.5 116.2,226.9 116.5,225.9 116.8,222.0 117.0,235.6 117.2,234.5 117.5,235.9 117.8,226.6 118.0,234.9 118.2,225.4 118.5,233.7 118.8,228.0 119.0,227.5 119.2,225.2 119.5,225.4 119.8,233.8 120.0,225.1 120.2,227.0 120.5,224.1 120.8,223.7 121.0,213.0 121.2,226.0 121.5,205.2 121.8,222.2 122.0,224.0 122.2,220.6 122.5,232.2 122.8,233.8 123.0,219.7 123.2,226.8 123.5,160.0 123.8,235.5 124.0,232.5 124.2,216.5 124.5,233.4 124.8,215.5 125.0,233.9 125.2,232.1 125.5,214.0 125.8,234.0 126.0,213.6 126.2,231.2 126.5,212.2 126.8,211.8 127.0,218.1 127.2,235.8 127.5,222.3 127.8,231.4 128.0,233.0 128.2,219.4 128.5,229.0 128.8,229.4 129.0,227.0 129.2,206.5 129.5,206.1 129.8,207.1 130.0,210.4 130.2,219.0 130.5,202.5 130.8,202.5 131.0,215.0 131.2,198.8 131.5,197.6 131.8,202.7 132.0,197.8 132.2,205.9 132.5,192.5 132.8,192.6 133.0,194.5 133.2,192.2 133.5,190.9 133.8,197.8 134.0,182.3 134.2,194.2 134.5,180.1 134.8,176.6 135.0,190.8 135.2,174.5 135.5,179.9 135.8,168.7 136.0,170.9 136.2,184.3 136.5,187.5 136.8,160.9 137.0,161.3 137.2,162.3 137.5,146.5 137.8,158.1 138.0,151.4 138.2,155.7 138.5,172.5 138.8,171.1 139.0,150.1 139.2,139.7 139.5,129.4 139.8,159.8 140.0,152.9 140.2,114.2 140.5,127.2 140.8,140.6 141.0,142.7 141.2,90.2 141.5,87.7 141.8,78.5 142.0,127.7 142.2,68.9 142.5,111.8 142.8,125.4 143.0,60.2 143.2,59.0 143.5,29.0 143.8,55.4 144.0,38.5 144.2,64.9 144.5,57.5 144.8,59.0 145.0,110.7 145.2,57.9 145.5,53.4 145.8,83.6 146.0,111.5 146.2,55.7 146.5,24.0 146.8,114.5 147.0,113.0 147.2,82.8 147.5,75.8 147.8,58.1 148.0,59.7 148.2,59.3 148.5,66.4 148.8,79.4 149.0,55.0 149.2,121.9 149.5,70.5 149.8,121.0 150.0,90.0 150.2,76.8 150.5,64.5 150.8,65.4 151.0,65.6 151.2,74.3 151.5,120.3 151.8,80.8 152.0,89.1 152.2,71.0 152.5,76.8 152.8,98.5 153.0,86.6 153.2,82.7 153.5,120.1 153.8,100.9 154.0,126.9 154.2,127.3 154.5,81.4 154.8,123.1 155.0,100.9 155.2,89.9 155.5,79.9 155.8,87.7 156.0,92.5 156.2,92.1 156.5,93.3 156.8,127.8 157.0,125.5 157.2,133.3 157.5,96.6 157.8,99.1 158.0,132.2 158.2,132.9 158.5,108.3 158.8,135.2 159.0,131.0 159.2,104.8 159.5,135.4 159.8,110.1 160.0,108.1 160.2,140.2 160.5,111.7 160.8,142.2 161.0,113.1 161.2,113.9 161.5,143.6 161.8,121.9 162.0,129.9 162.2,119.1 162.5,143.5 162.8,120.9 163.0,123.4 163.2,130.0 163.5,148.6 163.8,126.9 164.0,153.0 164.2,150.6 164.5,131.0 164.8,129.3 165.0,130.4 165.2,131.9 165.5,134.9 165.8,134.5 166.0,156.7 166.2,147.9 166.5,137.5 166.8,139.1 167.0,141.4 167.2,140.2 167.5,162.3 167.8,142.2 168.0,142.9 168.2,144.7 168.5,149.5 168.8,145.9 169.0,169.5 169.2,170.0 169.5,165.7 169.8,171.8 170.0,153.6 170.2,151.9 170.5,157.0 170.8,173.8 171.0,152.6 171.2,156.0 171.5,154.3 171.8,159.2 172.0,159.2 172.2,177.3 172.5,177.7 172.8,158.2 173.0,163.0 173.2,160.1 173.5,179.4 173.8,166.0 174.0,181.2 174.2,162.7 174.5,156.3 174.8,183.4 175.0,166.5 175.2,182.5 175.5,172.2 175.8,169.6 176.0,173.4 176.2,168.3 176.5,183.6 176.8,173.9 177.0,172.4 177.2,186.8 177.5,188.0 177.8,170.1 178.0,174.8 178.2,189.8 178.5,174.0 178.8,190.2 179.0,180.8 179.2,191.4 179.5,177.3 179.8,180.2 180.0,177.9 180.2,180.7 180.5,184.7 180.8,184.6 181.0,195.4 181.2,181.1 181.5,195.3 181.8,182.6 182.0,183.9 182.2,183.5 182.5,184.3 182.8,198.3 183.0,197.0 183.2,197.8 183.5,199.5 183.8,192.8 184.0,188.8 184.2,186.9 184.5,191.9 184.8,193.8 185.0,187.7 185.2,202.9 185.5,195.4 185.8,202.0 186.0,190.0 186.2,190.0 186.5,190.5 186.8,191.9 187.0,191.1 187.2,205.6 187.5,207.8 187.8,195.5 188.0,197.1 188.2,198.9 188.5,208.2 188.8,207.8 189.0,195.3 189.2,207.0 189.5,195.3 189.8,195.8 190.0,197.6 190.2,211.2 190.5,196.2 190.8,204.1 191.0,193.4 191.2,210.5 191.5,203.5 191.8,197.7 192.0,197.6 192.2,197.0 192.5,199.3 192.8,201.7 193.0,199.4 193.2,213.0 193.5,198.4 193.8,212.9 194.0,198.2 194.2,200.8 194.5,210.7 194.8,213.7 195.0,198.2 195.2,198.3 195.5,202.1 195.8,205.3 196.0,204.1 196.2,198.8 196.5,200.2 196.8,199.5 197.0,214.1 197.2,205.9 197.5,215.1 197.8,196.8 198.0,205.2 198.2,215.0 198.5,204.9 198.8,213.3 199.0,205.7 199.2,217.4 199.5,200.7 199.8,202.0 200.0,217.0 200.2,208.6 200.5,201.8 200.8,206.7 201.0,208.4 201.2,205.9 201.5,215.8 201.8,210.9 202.0,203.6 202.2,218.9 202.5,204.1 202.8,220.0 203.0,220.3 203.2,207.4 203.5,203.8 203.8,208.2 204.0,205.9 204.2,206.2 204.5,207.4 204.8,219.8 205.0,210.9 205.2,208.1 205.5,219.9 205.8,220.2 206.0,207.3 206.2,209.8 206.5,213.9 206.8,208.4 207.0,215.0 207.2,213.0 207.5,213.1 207.8,219.5 208.0,211.8 208.2,209.4 208.5,221.4 208.8,221.0 209.0,209.4 209.2,209.6 209.5,210.7 209.8,210.5 210.0,216.1 210.2,214.1 210.5,210.5 210.8,214.7 211.0,221.4 211.2,210.8 211.5,222.5 211.8,221.0 212.0,211.5 212.2,211.7 212.5,212.1 212.8,222.5 213.0,211.8 213.2,221.0 213.5,213.8 213.8,223.5 214.0,212.4 214.2,222.0 214.5,218.5 214.8,216.4 215.0,213.6 215.2,213.1 215.5,213.1 215.8,217.0 216.0,223.5 216.2,215.4 216.5,216.3 216.8,223.1 217.0,223.0 217.2,215.4 217.5,213.5 217.8,214.4 218.0,214.1 218.2,222.1 218.5,222.1 218.8,213.7 219.0,224.0 219.2,214.2 219.5,216.3 219.8,216.2 220.0,222.8 220.2,215.7 220.5,214.5 220.8,218.9 221.0,217.4 221.2,214.8 221.5,215.1 221.8,214.7 222.0,217.1 222.2,219.1 222.5,214.6 222.8,224.1 223.0,214.9 223.2,215.8 223.5,214.7 223.8,214.6 224.0,218.7 224.2,222.9 224.5,214.7 224.8,219.2 225.0,225.1 225.2,223.8 225.5,214.9 225.8,222.9 226.0,215.6 226.2,220.1 226.5,215.1 226.8,219.8 227.0,215.8 227.2,215.3 227.5,224.0 227.8,218.1 228.0,220.2 228.2,215.5 228.5,216.0 228.8,224.5 229.0,215.5 229.2,216.7 229.5,217.9 229.8,219.2 230.0,224.7 230.2,224.9 230.5,215.8 230.8,224.4 231.0,215.9 231.2,217.0 231.5,218.8 231.8,217.9 232.0,224.2 232.2,216.9 232.5,220.5 232.8,216.2 233.0,225.4 233.2,216.3 233.5,216.9 233.8,220.2 234.0,216.4 234.2,216.5 234.5,217.8 234.8,225.7 235.0,220.0 235.2,224.0 235.5,221.2 235.8,218.3 236.0,216.8 236.2,219.2 236.5,221.1 236.8,216.9 237.0,219.3 237.2,220.4 237.5,218.1 237.8,217.2 238.0,221.6 238.2,217.7 238.5,225.3 238.8,217.5 239.0,218.6 239.2,217.7 239.5,226.0 239.8,217.5 240.0,224.5 240.2,220.1 240.5,219.5 240.8,220.9 241.0,220.3 241.2,219.7 241.5,217.5 241.8,226.3 242.0,221.0 242.2,218.1 242.5,218.9 242.8,222.1 243.0,226.3 243.2,218.9 243.5,219.7 243.8,217.6 244.0,226.2 244.2,220.1 244.5,224.9 244.8,220.8 245.0,221.6 245.2,224.8 245.5,217.6 245.8,217.6 246.0,226.1 246.2,224.7 246.5,217.6 246.8,221.4 247.0,218.8 247.2,220.0 247.5,226.2 247.8,226.0 248.0,226.4 248.2,225.8 248.5,217.9 248.8,225.2 249.0,217.6 249.2,225.0 249.5,217.6 249.8,219.1 250.0,217.7 250.2,219.1 250.5,226.3 250.8,225.4 251.0,226.3 251.2,226.6 251.5,224.6 251.8,218.1 252.0,218.2 252.2,220.4 252.5,225.4 252.8,217.7 253.0,217.7 253.2,226.3 253.5,217.7 253.8,218.0 254.0,217.8 254.2,218.3 254.5,225.4 254.8,220.8 255.0,225.0 255.2,220.7 255.5,219.5 255.8,225.1 256.0,217.8 256.2,225.8 256.5,220.8 256.8,217.7 257.0,224.8 257.2,226.1 257.5,218.1 257.8,218.4 258.0,225.2 258.2,221.0 258.5,225.5 258.8,218.2 259.0,226.6 259.2,226.0 259.5,217.9 259.8,218.2 260.0,224.7 260.2,217.8 260.5,218.3 260.8,218.0 261.0,218.8 261.2,224.7 261.5,218.0 261.8,219.6 262.0,226.4 262.2,226.4 262.5,225.4 262.8,220.6 263.0,219.9 263.2,219.3 263.5,218.4 263.8,218.8 264.0,220.5 264.2,226.4 264.5,222.0 264.8,218.7 265.0,226.4 265.2,218.5 265.5,218.6 265.8,226.5 266.0,217.9 266.2,217.9 266.5,219.3 266.8,224.7 267.0,218.3 267.2,226.8 267.5,225.3 267.8,217.9 268.0,220.1 268.2,219.5 268.5,220.1 268.8,218.4 269.0,218.4 269.2,221.1 269.5,220.5 269.8,224.8 270.0,219.5 270.2,221.2 270.5,221.8 270.8,226.1 271.0,218.2 271.2,219.8 271.5,218.1 271.8,225.2 272.0,221.2 272.2,226.5 272.5,218.7 272.8,217.7 273.0,218.1 273.2,226.5 273.5,218.0 273.8,218.0 274.0,226.0 274.2,218.0 274.5,218.7 274.8,219.4 275.0,226.6 275.2,225.1 275.5,218.7 275.8,220.0 276.0,225.6 276.2,218.0 276.5,225.3 276.8,220.0 277.0,221.6 277.2,219.9 277.5,221.7 277.8,225.7 278.0,225.6 278.2,218.4 278.5,218.9 278.8,221.7 279.0,219.8 279.2,224.8 279.5,224.8 279.8,219.9 280.0,219.7 280.2,220.6 280.5,221.1 280.8,219.0 281.0,218.2 281.2,225.8 281.5,218.0 281.8,214.7 282.0,218.2 282.2,220.7 282.5,218.0 282.8,221.6 283.0,218.0 283.2,218.4 283.5,225.9 283.8,218.1 284.0,226.5 284.2,218.0 284.5,226.8 284.8,218.8 285.0,226.2 285.2,218.2 285.5,218.0 285.8,226.3 286.0,219.0 286.2,221.0 286.5,226.8 286.8,218.3 287.0,218.1 287.2,224.9 287.5,224.9 287.8,225.8 288.0,222.1 288.2,218.2 288.5,225.8 288.8,225.9 289.0,225.4 289.2,220.9 289.5,225.3 289.8,219.3 290.0,218.5 290.2,218.0 290.5,217.4 290.8,219.7 291.0,220.0 291.2,219.6 291.5,220.3 291.8,218.1 292.0,222.1 292.2,218.3 292.5,218.7 292.8,218.0 293.0,222.0 293.2,225.4 293.5,218.5 293.8,225.1 294.0,221.4 294.2,226.7 294.5,218.2 294.8,218.7 295.0,219.1 295.2,222.4 295.5,218.7 295.8,218.2 296.0,220.9 296.2,218.3 296.5,226.5 296.8,224.8 297.0,219.1 297.2,226.1 297.5,225.2 297.8,218.0 298.0,219.4 298.2,218.1 298.5,226.1 298.8,218.6 299.0,218.4 299.2,218.1 299.5,218.1 299.8,226.4 300.0,221.9 300.2,226.6 300.5,214.7 300.8,219.4 301.0,218.3 301.2,219.4 301.5,221.2 301.8,219.7 302.0,226.3 302.2,221.5 302.5,219.3 302.8,218.0 303.0,225.6 303.2,221.1 303.5,220.2 303.8,225.7 304.0,218.0 304.2,218.2 304.5,219.1 304.8,225.5 305.0,220.5 305.2,221.4 305.5,221.6 305.8,218.0 306.0,218.5 306.2,218.1 306.5,218.2 306.8,225.8 307.0,218.0 307.2,220.3 307.5,219.2 307.8,218.1 308.0,218.1 308.2,219.6 308.5,218.1 308.8,220.8 309.0,226.8 309.2,218.0 309.5,226.1 309.8,224.8 310.0,221.3 310.2,218.2 310.5,224.8 310.8,225.9 311.0,218.0 311.2,218.1 311.5,219.4 311.8,226.1 312.0,226.8 312.2,218.3 312.5,218.4 312.8,225.2 313.0,221.3 313.2,221.4 313.5,225.8 313.8,219.2 314.0,224.8 314.2,218.3 314.5,226.6 314.8,225.2 315.0,226.6 315.2,226.5 315.5,220.2 315.8,218.9 316.0,218.3 316.2,221.2 316.5,219.0 316.8,218.7 317.0,219.9 317.2,218.0 317.5,224.8 317.8,220.2 318.0,222.2 318.2,220.4 318.5,225.1 318.8,221.9 319.0,219.0 319.2,226.0 319.5,222.2 319.8,218.2 320.0,225.0 320.2,225.4 320.5,220.0 320.8,226.7 321.0,225.6 321.2,218.0 321.5,225.6 321.8,221.1 322.0,226.3 322.2,226.7 322.5,218.7 322.8,218.0 323.0,219.6 323.2,226.6 323.5,226.0 323.8,218.0 324.0,218.0 324.2,226.4 324.5,219.5 324.8,218.3 325.0,220.4 325.2,218.4 325.5,220.8 325.8,218.5 326.0,218.6 326.2,226.0 326.5,218.1 326.8,218.3 327.0,219.1 327.2,226.4 327.5,225.7 327.8,218.2 328.0,220.6 328.2,225.9 328.5,219.9 328.8,225.6 329.0,221.1 329.2,224.8 329.5,224.7 329.8,221.6 330.0,225.3 330.2,224.7 330.5,218.0 330.8,219.8 331.0,218.1 331.2,218.5 331.5,219.0 331.8,218.7 332.0,218.0 332.2,218.4 332.5,222.4 332.8,222.4 333.0,218.5 333.2,213.7 333.5,225.2 333.8,224.8 334.0,224.9" fill="none" stroke="#e0553a" stroke-width="1.0" stroke-linejoin="miter"/><polyline points="31.0,235.9 31.2,235.9 31.5,235.9 31.8,235.9 32.0,235.9 32.2,235.9 32.5,235.9 32.8,235.9 33.0,235.9 33.2,235.9 33.5,235.9 33.8,235.9 34.0,235.9 34.2,235.9 34.5,235.9 34.8,235.9 35.0,235.9 35.2,235.9 35.5,235.9 35.8,235.9 36.0,235.9 36.2,235.9 36.5,235.9 36.8,235.9 37.0,235.9 37.2,235.9 37.5,235.9 37.8,235.9 38.0,235.9 38.2,235.9 38.5,235.9 38.8,235.9 39.0,235.9 39.2,235.9 39.5,235.9 39.8,235.9 40.0,235.9 40.2,235.9 40.5,235.9 40.8,235.9 41.0,235.9 41.2,235.9 41.5,235.9 41.8,235.9 42.0,235.9 42.2,235.9 42.5,235.9 42.8,235.9 43.0,235.9 43.2,235.9 43.5,235.9 43.8,235.9 44.0,235.9 44.2,235.9 44.5,235.9 44.8,235.9 45.0,235.9 45.2,235.9 45.5,235.9 45.8,235.9 46.0,235.9 46.2,235.9 46.5,235.9 46.8,235.9 47.0,235.9 47.2,235.9 47.5,235.9 47.8,235.9 48.0,235.9 48.2,235.9 48.5,235.9 48.8,235.9 49.0,235.9 49.2,235.9 49.5,235.9 49.8,235.9 50.0,235.9 50.2,235.9 50.5,235.9 50.8,235.9 51.0,235.9 51.2,235.9 51.5,235.9 51.8,235.9 52.0,235.9 52.2,235.9 52.5,235.9 52.8,235.9 53.0,235.9 53.2,235.9 53.5,235.9 53.8,235.9 54.0,235.9 54.2,235.9 54.5,235.9 54.8,235.9 55.0,235.9 55.2,235.9 55.5,235.9 55.8,235.9 56.0,235.9 56.2,235.9 56.5,235.9 56.8,235.6 57.0,235.9 57.2,235.5 57.5,234.0 57.8,235.9 58.0,235.3 58.2,235.9 58.5,235.2 58.8,235.9 59.0,235.9 59.2,235.9 59.5,235.0 59.8,235.2 60.0,235.3 60.2,234.9 60.5,235.0 60.8,234.8 61.0,234.7 61.2,234.7 61.5,235.0 61.8,234.6 62.0,234.7 62.2,234.5 62.5,234.7 62.8,233.3 63.0,234.6 63.2,235.6 63.5,235.7 63.8,235.6 64.0,235.8 64.2,235.7 64.5,235.5 64.8,235.7 65.0,234.4 65.2,234.1 65.5,234.4 65.8,234.1 66.0,233.8 66.2,233.7 66.5,233.7 66.8,234.6 67.0,232.0 67.2,233.6 67.5,233.6 67.8,233.7 68.0,235.8 68.2,233.5 68.5,233.3 68.8,234.5 69.0,233.3 69.2,235.5 69.5,233.3 69.8,235.5 70.0,235.9 70.2,233.5 70.5,233.3 70.8,233.5 71.0,235.4 71.2,233.2 71.5,232.8 71.8,231.5 72.0,234.0 72.2,232.8 72.5,234.1 72.8,232.8 73.0,232.6 73.2,235.6 73.5,232.7 73.8,232.7 74.0,235.4 74.2,233.4 74.5,232.5 74.8,220.0 75.0,235.1 75.2,232.4 75.5,235.4 75.8,221.4 76.0,235.0 76.2,235.6 76.5,232.4 76.8,235.3 77.0,232.3 77.2,235.5 77.5,235.3 77.8,235.7 78.0,234.0 78.2,232.0 78.5,232.0 78.8,232.1 79.0,235.4 79.2,232.6 79.5,231.9 79.8,235.4 80.0,232.3 80.2,235.6 80.5,235.9 80.8,231.7 81.0,218.9 81.2,231.8 81.5,232.5 81.8,234.9 82.0,235.6 82.2,235.5 82.5,235.7 82.8,231.5 83.0,231.5 83.2,232.9 83.5,233.2 83.8,235.3 84.0,231.3 84.2,231.3 84.5,235.8 84.8,231.3 85.0,231.6 85.2,232.0 85.5,232.9 85.8,231.7 86.0,231.1 86.2,234.7 86.5,232.9 86.8,231.2 87.0,231.0 87.2,214.7 87.5,231.3 87.8,231.0 88.0,231.0 88.2,231.4 88.5,233.1 88.8,231.5 89.0,235.3 89.2,235.5 89.5,234.6 89.8,235.4 90.0,232.2 90.2,230.7 90.5,235.5 90.8,235.6 91.0,231.1 91.2,235.0 91.5,231.2 91.8,233.1 92.0,235.5 92.2,230.4 92.5,231.6 92.8,234.6 93.0,228.8 93.2,232.8 93.5,230.6 93.8,235.7 94.0,231.1 94.2,234.5 94.5,230.6 94.8,230.3 95.0,235.6 95.2,230.3 95.5,235.0 95.8,230.4 96.0,229.8 96.2,229.7 96.5,235.0 96.8,229.6 97.0,229.9 97.2,230.1 97.5,229.4 97.8,232.4 98.0,230.7 98.2,231.7 98.5,234.5 98.8,232.3 99.0,229.2 99.2,229.2 99.5,229.0 99.8,230.0 100.0,230.4 100.2,220.8 100.5,235.3 100.8,228.5 101.0,229.0 101.2,228.5 101.5,229.0 101.8,234.4 102.0,229.0 102.2,228.2 102.5,230.4 102.8,230.8 103.0,196.9 103.2,225.6 103.5,234.4 103.8,230.3 104.0,228.5 104.2,230.2 104.5,231.7 104.8,234.5 105.0,227.6 105.2,227.4 105.5,229.9 105.8,235.4 106.0,228.5 106.2,234.3 106.5,227.9 106.8,235.5 107.0,235.8 107.2,222.5 107.5,217.5 107.8,227.7 108.0,235.5 108.2,227.4 108.5,234.5 108.8,235.6 109.0,221.4 109.2,226.4 109.5,193.0 109.8,235.6 110.0,230.8 110.2,233.6 110.5,233.7 110.8,226.6 111.0,206.4 111.2,225.9 111.5,226.8 111.8,228.0 112.0,226.4 112.2,234.5 112.5,225.4 112.8,185.6 113.0,184.0 113.2,233.6 113.5,225.9 113.8,211.3 114.0,229.6 114.2,199.8 114.5,235.5 114.8,235.9 115.0,225.8 115.2,235.4 115.5,225.7 115.8,233.0 116.0,235.7 116.2,227.1 116.5,225.0 116.8,235.9 117.0,219.3 117.2,223.1 117.5,219.5 117.8,221.3 118.0,219.2 118.2,224.6 118.5,215.0 118.8,231.4 119.0,221.6 119.2,214.6 119.5,220.3 119.8,223.6 120.0,233.6 120.2,234.5 120.5,221.1 120.8,227.5 121.0,230.6 121.2,229.0 121.5,226.8 121.8,208.4 122.0,224.1 122.2,224.3 122.5,221.2 122.8,224.1 123.0,205.9 123.2,205.8 123.5,204.0 123.8,205.2 124.0,215.2 124.2,206.5 124.5,199.5 124.8,202.5 125.0,200.4 125.2,199.0 125.5,192.6 125.8,192.1 126.0,206.5 126.2,189.0 126.5,184.5 126.8,203.3 127.0,198.1 127.2,171.4 127.5,180.4 127.8,163.8 128.0,189.1 128.2,189.5 128.5,169.1 128.8,148.8 129.0,150.4 129.2,149.6 129.5,140.7 129.8,175.6 130.0,134.1 130.2,152.6 130.5,132.5 130.8,164.3 131.0,170.8 131.2,122.4 131.5,123.9 131.8,122.0 132.0,159.7 132.2,111.2 132.5,106.4 132.8,157.8 133.0,114.9 133.2,157.9 133.5,153.4 133.8,107.2 134.0,87.5 134.2,142.9 134.5,88.2 134.8,91.0 135.0,125.1 135.2,23.0 135.5,69.0 135.8,132.9 136.0,72.0 136.2,64.9 136.5,61.5 136.8,61.5 137.0,61.1 137.2,72.6 137.5,97.4 137.8,130.1 138.0,130.7 138.2,58.6 138.5,128.7 138.8,59.5 139.0,61.3 139.2,70.9 139.5,64.4 139.8,33.0 140.0,139.3 140.2,129.8 140.5,63.2 140.8,126.6 141.0,130.1 141.2,64.9 141.5,83.6 141.8,84.7 142.0,139.8 142.2,81.0 142.5,77.5 142.8,138.8 143.0,100.8 143.2,115.9 143.5,115.6 143.8,97.7 144.0,110.7 144.2,149.4 144.5,98.1 144.8,99.7 145.0,101.4 145.2,121.6 145.5,125.6 145.8,123.2 146.0,143.9 146.2,146.3 146.5,122.4 146.8,113.8 147.0,134.0 147.2,115.3 147.5,157.0 147.8,128.7 148.0,129.1 148.2,159.0 148.5,132.2 148.8,125.9 149.0,155.3 149.2,160.5 149.5,157.6 149.8,123.1 150.0,131.0 150.2,155.4 150.5,133.3 150.8,159.1 151.0,144.1 151.2,145.0 151.5,165.6 151.8,142.5 152.0,143.5 152.2,143.6 152.5,145.0 152.8,145.1 153.0,145.8 153.2,146.4 153.5,144.3 153.8,175.8 154.0,153.1 154.2,170.9 154.5,150.6 154.8,151.4 155.0,175.8 155.2,163.7 155.5,154.7 155.8,154.8 156.0,179.1 156.2,156.4 156.5,158.0 156.8,157.9 157.0,158.7 157.2,184.6 157.5,160.4 157.8,162.7 158.0,183.9 158.2,164.3 158.5,185.0 158.8,184.0 159.0,166.2 159.2,168.6 159.5,175.8 159.8,171.3 160.0,168.3 160.2,189.9 160.5,173.0 160.8,174.7 161.0,170.0 161.2,175.0 161.5,186.5 161.8,171.5 162.0,176.3 162.2,187.8 162.5,172.7 162.8,170.9 163.0,175.2 163.2,192.5 163.5,172.4 163.8,189.7 164.0,176.2 164.2,175.8 164.5,174.8 164.8,176.1 165.0,195.3 165.2,175.3 165.5,179.1 165.8,179.6 166.0,194.9 166.2,194.2 166.5,184.1 166.8,178.9 167.0,183.2 167.2,194.1 167.5,175.4 167.8,182.8 168.0,180.7 168.2,178.0 168.5,195.4 168.8,178.2 169.0,181.5 169.2,179.2 169.5,179.4 169.8,179.0 170.0,187.0 170.2,196.0 170.5,179.7 170.8,181.4 171.0,181.7 171.2,195.2 171.5,179.7 171.8,180.8 172.0,181.2 172.2,181.6 172.5,194.7 172.8,182.9 173.0,183.4 173.2,198.0 173.5,182.5 173.8,183.3 174.0,183.0 174.2,186.5 174.5,198.4 174.8,198.5 175.0,185.4 175.2,199.7 175.5,195.9 175.8,189.6 176.0,191.2 176.2,199.5 176.5,184.7 176.8,199.3 177.0,200.5 177.2,198.3 177.5,185.8 177.8,189.9 178.0,197.7 178.2,186.3 178.5,186.7 178.8,186.6 179.0,193.1 179.2,200.6 179.5,187.0 179.8,188.6 180.0,187.6 180.2,201.2 180.5,200.5 180.8,187.9 181.0,190.9 181.2,188.3 181.5,189.7 181.8,191.2 182.0,185.4 182.2,199.2 182.5,190.2 182.8,189.2 183.0,201.7 183.2,189.9 183.5,190.2 183.8,190.2 184.0,200.2 184.2,191.6 184.5,202.6 184.8,202.1 185.0,194.2 185.2,203.2 185.5,197.1 185.8,193.4 186.0,202.9 186.2,191.5 186.5,193.7 186.8,192.7 187.0,192.0 187.2,197.9 187.5,192.6 187.8,194.6 188.0,202.3 188.2,194.0 188.5,203.6 188.8,198.8 189.0,203.5 189.2,202.8 189.5,205.2 189.8,199.0 190.0,203.5 190.2,194.1 190.5,205.8 190.8,197.3 191.0,195.4 191.2,194.6 191.5,194.5 191.8,194.5 192.0,195.7 192.2,194.7 192.5,204.2 192.8,204.6 193.0,203.5 193.2,195.0 193.5,196.5 193.8,195.5 194.0,205.0 194.2,204.9 194.5,195.5 194.8,200.4 195.0,200.0 195.2,200.0 195.5,204.6 195.8,200.0 196.0,197.0 196.2,195.6 196.5,195.7 196.8,195.8 197.0,195.8 197.2,196.3 197.5,205.8 197.8,205.1 198.0,205.3 198.2,206.2 198.5,206.3 198.8,196.8 199.0,193.8 199.2,194.0 199.5,194.7 199.8,189.4 200.0,194.8 200.2,191.6 200.5,191.5 200.8,190.0 201.0,199.7 201.2,199.5 201.5,199.6 201.8,188.6 202.0,192.0 202.2,200.4 202.5,188.9 202.8,197.8 203.0,185.2 203.2,137.0 203.5,186.2 203.8,189.7 204.0,197.6 204.2,187.8 204.5,199.3 204.8,199.9 205.0,189.5 205.2,191.8 205.5,192.5 205.8,192.0 206.0,189.0 206.2,201.8 206.5,192.9 206.8,194.1 207.0,194.2 207.2,194.0 207.5,203.4 207.8,203.1 208.0,194.1 208.2,205.4 208.5,204.0 208.8,194.5 209.0,194.3 209.2,195.5 209.5,196.8 209.8,203.8 210.0,195.6 210.2,204.0 210.5,194.4 210.8,197.7 211.0,204.9 211.2,204.8 211.5,204.9 211.8,195.4 212.0,195.7 212.2,195.9 212.5,194.6 212.8,194.6 213.0,198.7 213.2,197.8 213.5,205.1 213.8,197.1 214.0,204.2 214.2,194.8 214.5,199.8 214.8,195.2 215.0,194.9 215.2,198.8 215.5,194.9 215.8,195.0 216.0,195.8 216.2,196.1 216.5,196.0 216.8,195.6 217.0,204.2 217.2,197.3 217.5,204.8 217.8,206.0 218.0,195.2 218.2,195.2 218.5,195.3 218.8,196.9 219.0,194.8 219.2,205.1 219.5,195.8 219.8,195.6 220.0,204.3 220.2,196.5 220.5,195.7 220.8,204.5 221.0,199.2 221.2,195.5 221.5,198.0 221.8,195.6 222.0,195.9 222.2,199.3 222.5,198.7 222.8,195.7 223.0,198.2 223.2,205.7 223.5,196.8 223.8,205.5 224.0,205.7 224.2,195.9 224.5,205.4 224.8,197.9 225.0,197.3 225.2,190.5 225.5,196.4 225.8,197.2 226.0,198.1 226.2,200.3 226.5,205.4 226.8,196.2 227.0,196.2 227.2,205.2 227.5,199.2 227.8,197.7 228.0,206.5 228.2,198.5 228.5,207.1 228.8,196.5 229.0,196.5 229.2,197.6 229.5,200.3 229.8,199.9 230.0,199.5 230.2,206.7 230.5,197.8 230.8,207.1 231.0,197.7 231.2,196.5 231.5,201.5 231.8,207.2 232.0,198.9 232.2,196.5 232.5,197.4 232.8,200.3 233.0,205.5 233.2,192.9 233.5,196.5 233.8,205.4 234.0,201.3 234.2,197.7 234.5,196.6 234.8,199.4 235.0,205.9 235.2,197.6 235.5,197.6 235.8,197.2 236.0,205.8 236.2,196.8 236.5,197.1 236.8,196.6 237.0,196.5 237.2,198.9 237.5,206.8 237.8,201.4 238.0,205.6 238.2,206.4 238.5,196.5 238.8,205.1 239.0,205.4 239.2,196.7 239.5,205.8 239.8,200.1 240.0,205.2 240.2,207.4 240.5,197.3 240.8,196.7 241.0,200.4 241.2,196.9 241.5,199.3 241.8,205.2 242.0,206.9 242.2,197.1 242.5,199.8 242.8,205.7 243.0,199.2 243.2,199.2 243.5,206.6 243.8,197.7 244.0,196.5 244.2,207.4 244.5,196.6 244.8,206.2 245.0,196.9 245.2,196.5 245.5,196.5 245.8,205.3 246.0,196.9 246.2,205.0 246.5,200.5 246.8,205.0 247.0,200.4 247.2,198.9 247.5,199.3 247.8,196.5 248.0,197.5 248.2,205.2 248.5,205.6 248.8,198.7 249.0,197.8 249.2,206.4 249.5,196.7 249.8,196.9 250.0,207.2 250.2,199.8 250.5,201.2 250.8,196.6 251.0,197.9 251.2,196.5 251.5,206.9 251.8,196.9 252.0,199.4 252.2,196.8 252.5,206.7 252.8,196.5 253.0,206.2 253.2,207.0 253.5,196.5 253.8,197.8 254.0,199.9 254.2,191.9 254.5,196.5 254.8,196.5 255.0,193.2 255.2,206.9 255.5,200.1 255.8,196.5 256.0,196.9 256.2,197.0 256.5,196.5 256.8,205.4 257.0,196.5 257.2,200.0 257.5,199.3 257.8,206.1 258.0,196.6 258.2,205.0 258.5,207.5 258.8,197.1 259.0,200.8 259.2,205.7 259.5,205.9 259.8,196.5 260.0,196.5 260.2,197.4 260.5,198.5 260.8,199.9 261.0,197.4 261.2,207.4 261.5,199.1 261.8,196.5 262.0,197.7 262.2,196.7 262.5,201.0 262.8,197.3 263.0,207.0 263.2,197.6 263.5,197.2 263.8,196.5 264.0,198.8 264.2,196.5 264.5,204.9 264.8,197.0 265.0,197.2 265.2,196.6 265.5,198.8 265.8,206.6 266.0,196.6 266.2,196.7 266.5,206.8 266.8,206.0 267.0,207.0 267.2,198.5 267.5,201.2 267.8,198.5 268.0,200.5 268.2,196.5 268.5,204.9 268.8,196.5 269.0,206.7 269.2,204.8 269.5,197.0 269.8,200.8 270.0,198.4 270.2,197.1 270.5,207.0 270.8,205.9 271.0,201.0 271.2,198.0 271.5,196.9 271.8,198.5 272.0,200.5 272.2,207.5 272.5,196.5 272.8,196.5 273.0,205.8 273.2,196.6 273.5,197.4 273.8,199.2 274.0,206.8 274.2,207.3 274.5,205.0 274.8,198.1 275.0,196.7 275.2,205.6 275.5,201.6 275.8,198.5 276.0,206.2 276.2,205.4 276.5,200.4 276.8,205.0 277.0,206.9 277.2,201.9 277.5,197.6 277.8,196.7 278.0,197.6 278.2,196.8 278.5,207.1 278.8,196.5 279.0,196.6 279.2,196.9 279.5,200.2 279.8,196.5 280.0,206.2 280.2,206.9 280.5,197.6 280.8,200.3 281.0,197.0 281.2,207.4 281.5,198.6 281.8,206.0 282.0,205.0 282.2,207.3 282.5,205.8 282.8,206.3 283.0,206.2 283.2,200.2 283.5,197.8 283.8,201.5 284.0,197.6 284.2,206.8 284.5,205.1 284.8,205.4 285.0,196.5 285.2,200.0 285.5,196.6 285.8,205.8 286.0,207.3 286.2,196.6 286.5,201.3 286.8,206.2 287.0,196.7 287.2,199.0 287.5,198.1 287.8,199.4 288.0,196.5 288.2,205.7 288.5,205.2 288.8,196.6 289.0,205.5 289.2,196.6 289.5,199.4 289.8,196.5 290.0,196.5 290.2,196.6 290.5,199.8 290.8,205.2 291.0,201.2 291.2,197.3 291.5,200.5 291.8,206.1 292.0,205.8 292.2,204.8 292.5,200.5 292.8,200.1 293.0,206.2 293.2,198.7 293.5,196.5 293.8,206.1 294.0,198.3 294.2,197.4 294.5,207.3 294.8,198.8 295.0,196.5 295.2,199.4 295.5,205.3 295.8,195.5 296.0,197.0 296.2,196.6 296.5,205.0 296.8,204.8 297.0,206.7 297.2,200.0 297.5,192.6 297.8,207.2 298.0,196.8 298.2,198.8 298.5,205.9 298.8,205.5 299.0,206.7 299.2,204.9 299.5,207.2 299.8,206.9 300.0,205.4 300.2,205.0 300.5,196.8 300.8,198.3 301.0,196.5 301.2,201.5 301.5,206.0 301.8,197.7 302.0,206.1 302.2,205.5 302.5,197.0 302.8,196.5 303.0,201.7 303.2,207.5 303.5,196.5 303.8,201.4 304.0,207.0 304.2,200.6 304.5,197.5 304.8,199.6 305.0,196.5 305.2,196.5 305.5,196.5 305.8,197.9 306.0,207.2 306.2,206.4 306.5,196.9 306.8,199.4 307.0,198.4 307.2,197.9 307.5,205.3 307.8,198.1 308.0,196.5 308.2,200.8 308.5,206.2 308.8,207.2 309.0,197.6 309.2,198.9 309.5,196.5 309.8,207.4 310.0,205.2 310.2,206.9 310.5,199.8 310.8,205.4 311.0,206.2 311.2,196.9 311.5,198.9 311.8,196.6 312.0,205.2 312.2,196.7 312.5,198.6 312.8,206.9 313.0,201.2 313.2,205.9 313.5,196.5 313.8,204.9 314.0,197.6 314.2,196.5 314.5,206.1 314.8,197.0 315.0,196.5 315.2,193.0 315.5,196.5 315.8,205.8 316.0,197.8 316.2,198.6 316.5,196.5 316.8,196.5 317.0,197.3 317.2,196.5 317.5,205.4 317.8,192.5 318.0,199.1 318.2,197.2 318.5,197.3 318.8,197.4 319.0,197.7 319.2,197.2 319.5,201.7 319.8,191.4 320.0,198.7 320.2,196.5 320.5,196.7 320.8,196.9 321.0,206.2 321.2,197.4 321.5,196.6 321.8,205.5 322.0,205.8 322.2,205.8 322.5,199.8 322.8,205.3 323.0,198.0 323.2,196.5 323.5,197.2 323.8,204.9 324.0,197.9 324.2,206.2 324.5,196.8 324.8,196.5 325.0,207.4 325.2,196.6 325.5,196.6 325.8,205.5 326.0,196.6 326.2,207.1 326.5,196.5 326.8,200.3 327.0,199.6 327.2,196.5 327.5,197.3 327.8,196.6 328.0,205.4 328.2,204.8 328.5,200.7 328.8,196.9 329.0,197.1 329.2,196.9 329.5,201.5 329.8,196.5 330.0,205.2 330.2,197.1 330.5,200.7 330.8,198.5 331.0,197.8 331.2,195.1 331.5,207.2 331.8,196.5 332.0,205.0 332.2,207.4 332.5,207.5 332.8,207.0 333.0,201.2 333.2,201.8 333.5,196.6 333.8,199.7 334.0,196.5" fill="none" stroke="#b83068" stroke-width="1.0" stroke-linejoin="miter"/><polyline points="31.0,235.9 31.2,235.9 31.5,235.9 31.8,235.9 32.0,235.9 32.2,235.9 32.5,235.9 32.8,235.9 33.0,235.9 33.2,235.9 33.5,235.9 33.8,235.9 34.0,235.9 34.2,235.9 34.5,235.9 34.8,235.9 35.0,235.9 35.2,235.9 35.5,235.9 35.8,235.9 36.0,235.9 36.2,235.9 36.5,235.9 36.8,235.9 37.0,235.9 37.2,235.9 37.5,235.9 37.8,235.9 38.0,235.9 38.2,235.9 38.5,235.9 38.8,235.9 39.0,235.9 39.2,235.9 39.5,235.9 39.8,235.9 40.0,235.9 40.2,235.9 40.5,235.8 40.8,235.9 41.0,235.9 41.2,235.7 41.5,235.9 41.8,235.4 42.0,235.7 42.2,235.5 42.5,234.8 42.8,235.9 43.0,235.3 43.2,235.1 43.5,235.8 43.8,235.4 44.0,234.9 44.2,234.9 44.5,235.9 44.8,235.7 45.0,234.6 45.2,235.9 45.5,235.8 45.8,234.6 46.0,228.5 46.2,234.3 46.5,234.3 46.8,234.2 47.0,234.3 47.2,234.3 47.5,235.6 47.8,232.8 48.0,234.8 48.2,234.1 48.5,233.7 48.8,234.1 49.0,233.6 49.2,234.7 49.5,233.4 49.8,233.6 50.0,235.8 50.2,234.3 50.5,235.7 50.8,233.1 51.0,233.1 51.2,233.4 51.5,233.9 51.8,235.5 52.0,227.8 52.2,233.8 52.5,232.7 52.8,233.4 53.0,231.8 53.2,232.5 53.5,235.2 53.8,233.6 54.0,232.4 54.2,235.0 54.5,232.2 54.8,235.7 55.0,235.0 55.2,232.0 55.5,233.2 55.8,235.5 56.0,232.5 56.2,231.9 56.5,235.3 56.8,235.2 57.0,235.0 57.2,231.8 57.5,235.7 57.8,232.9 58.0,232.3 58.2,235.5 58.5,231.7 58.8,231.6 59.0,235.6 59.2,232.9 59.5,235.9 59.8,232.5 60.0,235.8 60.2,232.8 60.5,232.5 60.8,231.4 61.0,231.3 61.2,233.4 61.5,235.9 61.8,232.9 62.0,231.6 62.2,231.4 62.5,231.2 62.8,214.8 63.0,235.3 63.2,231.0 63.5,235.3 63.8,231.1 64.0,231.1 64.2,231.4 64.5,232.5 64.8,235.7 65.0,230.8 65.2,232.2 65.5,231.9 65.8,230.7 66.0,231.5 66.2,235.6 66.5,231.6 66.8,230.6 67.0,231.4 67.2,231.9 67.5,223.4 67.8,232.6 68.0,234.9 68.2,231.0 68.5,227.4 68.8,230.4 69.0,234.6 69.2,234.5 69.5,234.5 69.8,230.8 70.0,235.5 70.2,235.5 70.5,231.9 70.8,230.1 71.0,230.1 71.2,230.8 71.5,231.8 71.8,230.1 72.0,232.2 72.2,229.9 72.5,229.9 72.8,235.6 73.0,230.7 73.2,231.2 73.5,230.0 73.8,229.8 74.0,234.5 74.2,230.5 74.5,214.5 74.8,230.3 75.0,232.0 75.2,234.6 75.5,229.9 75.8,234.6 76.0,235.1 76.2,234.4 76.5,235.3 76.8,230.2 77.0,229.4 77.2,235.3 77.5,235.6 77.8,226.7 78.0,234.3 78.2,229.2 78.5,234.9 78.8,230.3 79.0,231.5 79.2,235.7 79.5,230.6 79.8,232.1 80.0,234.5 80.2,231.4 80.5,232.0 80.8,228.9 81.0,229.3 81.2,228.8 81.5,229.9 81.8,234.3 82.0,229.7 82.2,225.8 82.5,228.5 82.8,235.7 83.0,230.7 83.2,235.5 83.5,234.5 83.8,230.7 84.0,228.2 84.2,228.2 84.5,228.1 84.8,231.1 85.0,228.8 85.2,228.8 85.5,235.5 85.8,228.6 86.0,228.3 86.2,231.0 86.5,228.5 86.8,234.4 87.0,234.1 87.2,235.3 87.5,221.6 87.8,230.3 88.0,227.6 88.2,230.6 88.5,227.3 88.8,230.2 89.0,229.1 89.2,216.8 89.5,227.1 89.8,230.6 90.0,234.7 90.2,234.9 90.5,235.6 90.8,234.8 91.0,213.6 91.2,230.6 91.5,226.7 91.8,233.8 92.0,229.3 92.2,228.8 92.5,226.7 92.8,227.3 93.0,233.7 93.2,228.8 93.5,227.9 93.8,234.0 94.0,217.2 94.2,226.3 94.5,235.6 94.8,235.3 95.0,228.9 95.2,226.0 95.5,235.4 95.8,226.0 96.0,225.8 96.2,229.0 96.5,233.7 96.8,234.4 97.0,225.8 97.2,225.7 97.5,226.4 97.8,230.2 98.0,230.5 98.2,226.7 98.5,227.1 98.8,233.5 99.0,234.2 99.2,225.2 99.5,227.3 99.8,225.4 100.0,133.0 100.2,225.0 100.5,228.0 100.8,234.9 101.0,217.4 101.2,234.4 101.5,235.5 101.8,222.0 102.0,223.1 102.2,235.0 102.5,221.1 102.8,225.5 103.0,234.0 103.2,219.2 103.5,214.3 103.8,231.5 104.0,219.3 104.2,218.6 104.5,217.2 104.8,223.3 105.0,223.6 105.2,215.4 105.5,231.6 105.8,232.6 106.0,234.5 106.2,230.4 106.5,212.9 106.8,212.2 107.0,210.8 107.2,221.1 107.5,190.0 107.8,209.5 108.0,232.1 108.2,235.8 108.5,214.6 108.8,206.3 109.0,211.9 109.2,235.8 109.5,204.8 109.8,230.0 110.0,228.6 110.2,185.9 110.5,201.4 110.8,201.4 111.0,204.1 111.2,208.7 111.5,224.4 111.8,206.9 112.0,196.5 112.2,208.1 112.5,221.6 112.8,226.0 113.0,194.4 113.2,196.8 113.5,224.2 113.8,191.2 114.0,190.4 114.2,190.3 114.5,214.3 114.8,215.3 115.0,217.3 115.2,187.2 115.5,181.0 115.8,182.3 116.0,183.8 116.2,176.6 116.5,204.6 116.8,181.0 117.0,177.3 117.2,199.9 117.5,206.8 117.8,178.9 118.0,197.6 118.2,163.0 118.5,157.1 118.8,153.3 119.0,167.5 119.2,150.3 119.5,154.1 119.8,147.5 120.0,136.4 120.2,132.0 120.5,128.3 120.8,125.2 121.0,130.8 121.2,173.6 121.5,183.0 121.8,102.5 122.0,98.9 122.2,152.9 122.5,124.6 122.8,115.6 123.0,96.0 123.2,153.3 123.5,75.4 123.8,105.3 124.0,23.0 124.2,146.0 124.5,162.2 124.8,73.7 125.0,84.4 125.2,73.1 125.5,104.7 125.8,78.6 126.0,68.7 126.2,108.9 126.5,142.8 126.8,143.2 127.0,155.3 127.2,76.6 127.5,77.3 127.8,152.0 128.0,143.9 128.2,95.0 128.5,78.0 128.8,103.9 129.0,104.7 129.2,78.2 129.5,47.0 129.8,160.5 130.0,80.6 130.2,83.7 130.5,83.3 130.8,94.5 131.0,97.8 131.2,90.2 131.5,89.1 131.8,125.7 132.0,157.5 132.2,120.1 132.5,97.6 132.8,169.8 133.0,103.0 133.2,114.3 133.5,118.7 133.8,172.5 134.0,117.6 134.2,167.8 134.5,126.8 134.8,172.9 135.0,126.1 135.2,147.7 135.5,137.6 135.8,134.1 136.0,126.5 136.2,156.0 136.5,140.0 136.8,155.9 137.0,147.1 137.2,164.2 137.5,160.6 137.8,156.6 138.0,184.1 138.2,154.0 138.5,163.4 138.8,155.9 139.0,170.4 139.2,164.1 139.5,160.6 139.8,170.9 140.0,175.8 140.2,166.0 140.5,172.2 140.8,186.5 141.0,170.0 141.2,190.3 141.5,172.2 141.8,192.7 142.0,193.3 142.2,174.9 142.5,176.3 142.8,169.9 143.0,176.6 143.2,177.3 143.5,184.4 143.8,181.9 144.0,179.8 144.2,182.1 144.5,181.7 144.8,182.6 145.0,188.0 145.2,197.0 145.5,186.8 145.8,189.3 146.0,186.8 146.2,188.6 146.5,187.2 146.8,200.9 147.0,188.3 147.2,198.9 147.5,189.7 147.8,190.7 148.0,192.3 148.2,194.4 148.5,201.7 148.8,198.4 149.0,195.7 149.2,194.2 149.5,194.7 149.8,195.8 150.0,196.1 150.2,203.8 150.5,205.7 150.8,196.9 151.0,197.7 151.2,197.5 151.5,197.9 151.8,197.3 152.0,197.4 152.2,204.4 152.5,200.4 152.8,198.0 153.0,198.2 153.2,206.4 153.5,205.4 153.8,198.6 154.0,202.5 154.2,199.2 154.5,205.7 154.8,200.2 155.0,201.6 155.2,207.5 155.5,200.8 155.8,201.9 156.0,207.9 156.2,201.5 156.5,201.8 156.8,200.8 157.0,201.6 157.2,207.4 157.5,201.8 157.8,202.4 158.0,203.2 158.2,203.7 158.5,203.4 158.8,202.2 159.0,202.3 159.2,208.2 159.5,204.1 159.8,203.3 160.0,203.5 160.2,204.8 160.5,205.4 160.8,203.9 161.0,206.8 161.2,210.4 161.5,202.9 161.8,203.9 162.0,209.9 162.2,209.4 162.5,210.7 162.8,204.4 163.0,205.0 163.2,204.9 163.5,207.4 163.8,205.0 164.0,206.3 164.2,205.3 164.5,210.9 164.8,206.7 165.0,211.5 165.2,205.7 165.5,207.7 165.8,210.9 166.0,211.0 166.2,207.2 166.5,207.9 166.8,209.1 167.0,211.4 167.2,206.7 167.5,207.7 167.8,212.4 168.0,213.0 168.2,207.4 168.5,210.4 168.8,207.4 169.0,207.6 169.2,212.5 169.5,213.5 169.8,207.9 170.0,208.0 170.2,209.3 170.5,213.1 170.8,208.4 171.0,209.9 171.2,208.3 171.5,208.8 171.8,208.4 172.0,214.3 172.2,210.2 172.5,209.3 172.8,214.4 173.0,214.0 173.2,214.0 173.5,213.2 173.8,213.7 174.0,209.3 174.2,209.1 174.5,214.6 174.8,209.6 175.0,214.5 175.2,213.6 175.5,209.4 175.8,213.9 176.0,209.3 176.2,215.0 176.5,210.3 176.8,209.5 177.0,209.6 177.2,209.8 177.5,211.9 177.8,211.5 178.0,214.2 178.2,210.5 178.5,211.0 178.8,214.5 179.0,214.4 179.2,211.6 179.5,212.7 179.8,214.7 180.0,215.2 180.2,212.0 180.5,215.0 180.8,212.8 181.0,210.5 181.2,215.8 181.5,210.4 181.8,210.8 182.0,215.8 182.2,211.8 182.5,210.7 182.8,212.3 183.0,215.1 183.2,211.3 183.5,215.9 183.8,211.0 184.0,210.4 184.2,210.9 184.5,210.3 184.8,214.6 185.0,211.1 185.2,211.1 185.5,210.3 185.8,210.3 186.0,210.3 186.2,210.2 186.5,210.3 186.8,211.4 187.0,210.7 187.2,215.6 187.5,210.2 187.8,210.8 188.0,210.4 188.2,210.7 188.5,215.6 188.8,210.4 189.0,210.4 189.2,212.4 189.5,210.3 189.8,210.0 190.0,210.1 190.2,212.2 190.5,215.0 190.8,209.8 191.0,214.1 191.2,209.0 191.5,208.8 191.8,208.7 192.0,209.9 192.2,214.1 192.5,208.5 192.8,212.6 193.0,207.5 193.2,212.9 193.5,208.7 193.8,212.5 194.0,206.7 194.2,207.1 194.5,211.4 194.8,206.2 195.0,206.2 195.2,208.4 195.5,211.6 195.8,205.3 196.0,210.5 196.2,204.8 196.5,211.0 196.8,204.2 197.0,207.2 197.2,205.4 197.5,206.4 197.8,209.9 198.0,203.5 198.2,209.1 198.5,208.4 198.8,208.1 199.0,202.0 199.2,207.8 199.5,201.5 199.8,207.5 200.0,207.7 200.2,201.8 200.5,201.1 200.8,204.6 201.0,201.3 201.2,201.6 201.5,201.5 201.8,204.1 202.0,208.0 202.2,208.6 202.5,202.6 202.8,202.3 203.0,205.0 203.2,202.5 203.5,208.3 203.8,203.1 204.0,209.2 204.2,204.6 204.5,203.2 204.8,203.5 205.0,203.5 205.2,204.3 205.5,210.3 205.8,210.7 206.0,209.6 206.2,204.9 206.5,205.6 206.8,204.0 207.0,210.7 207.2,209.4 207.5,211.1 207.8,204.3 208.0,206.0 208.2,207.2 208.5,210.4 208.8,204.6 209.0,205.4 209.2,205.1 209.5,204.9 209.8,205.1 210.0,211.1 210.2,211.2 210.5,211.2 210.8,206.5 211.0,207.4 211.2,211.4 211.5,205.3 211.8,207.7 212.0,211.1 212.2,208.4 212.5,205.5 212.8,205.3 213.0,205.8 213.2,205.0 213.5,205.0 213.8,205.1 214.0,207.7 214.2,205.0 214.5,206.5 214.8,207.4 215.0,205.0 215.2,205.3 215.5,210.6 215.8,210.9 216.0,205.8 216.2,206.4 216.5,210.5 216.8,206.2 217.0,205.1 217.2,206.2 217.5,206.6 217.8,205.6 218.0,207.5 218.2,210.9 218.5,210.3 218.8,211.3 219.0,205.1 219.2,210.2 219.5,210.5 219.8,206.9 220.0,207.8 220.2,201.1 220.5,205.1 220.8,205.6 221.0,205.4 221.2,211.1 221.5,211.7 221.8,210.8 222.0,211.5 222.2,205.0 222.5,207.4 222.8,210.5 223.0,206.0 223.2,210.1 223.5,207.0 223.8,205.0 224.0,210.5 224.2,206.3 224.5,211.0 224.8,210.1 225.0,205.8 225.2,211.3 225.5,205.2 225.8,211.2 226.0,205.6 226.2,205.0 226.5,205.0 226.8,205.0 227.0,205.1 227.2,211.6 227.5,205.1 227.8,208.3 228.0,206.3 228.2,205.2 228.5,205.0 228.8,207.8 229.0,205.8 229.2,206.9 229.5,208.3 229.8,205.1 230.0,210.3 230.2,205.0 230.5,211.6 230.8,205.1 231.0,205.2 231.2,211.2 231.5,205.4 231.8,208.3 232.0,206.5 232.2,210.3 232.5,205.0 232.8,207.3 233.0,205.2 233.2,205.7 233.5,206.4 233.8,210.2 234.0,205.2 234.2,210.9 234.5,205.6 234.8,210.9 235.0,205.0 235.2,210.3 235.5,210.6 235.8,207.1 236.0,211.2 236.2,205.7 236.5,207.5 236.8,205.0 237.0,205.0 237.2,206.2 237.5,205.6 237.8,207.4 238.0,205.2 238.2,210.3 238.5,210.9 238.8,211.2 239.0,211.3 239.2,205.4 239.5,205.4 239.8,206.5 240.0,206.1 240.2,207.9 240.5,206.0 240.8,206.0 241.0,205.3 241.2,210.7 241.5,207.3 241.8,211.2 242.0,205.5 242.2,211.8 242.5,205.0 242.8,205.0 243.0,210.5 243.2,210.4 243.5,206.0 243.8,205.7 244.0,207.0 244.2,204.5 244.5,211.5 244.8,205.6 245.0,211.1 245.2,210.9 245.5,206.8 245.8,205.9 246.0,211.5 246.2,205.8 246.5,205.1 246.8,207.1 247.0,205.8 247.2,206.1 247.5,205.0 247.8,211.7 248.0,205.6 248.2,205.1 248.5,205.5 248.8,205.1 249.0,206.0 249.2,207.1 249.5,205.9 249.8,205.8 250.0,206.7 250.2,205.1 250.5,211.2 250.8,210.9 251.0,205.0 251.2,205.2 251.5,207.3 251.8,211.5 252.0,205.1 252.2,210.4 252.5,205.2 252.8,210.4 253.0,206.6 253.2,211.5 253.5,205.0 253.8,205.1 254.0,207.5 254.2,210.9 254.5,205.9 254.8,205.0 255.0,205.6 255.2,207.2 255.5,205.6 255.8,210.7 256.0,205.9 256.2,205.0 256.5,206.4 256.8,206.1 257.0,205.7 257.2,205.4 257.5,205.6 257.8,205.0 258.0,205.0 258.2,211.5 258.5,205.1 258.8,206.8 259.0,211.8 259.2,210.9 259.5,206.1 259.8,206.0 260.0,205.1 260.2,205.7 260.5,208.1 260.8,210.9 261.0,205.0 261.2,206.3 261.5,205.0 261.8,211.3 262.0,206.3 262.2,211.1 262.5,210.9 262.8,205.2 263.0,205.7 263.2,206.5 263.5,211.5 263.8,206.1 264.0,205.6 264.2,205.9 264.5,205.0 264.8,210.7 265.0,202.1 265.2,205.1 265.5,205.0 265.8,205.3 266.0,210.6 266.2,211.8 266.5,205.0 266.8,207.1 267.0,205.0 267.2,208.3 267.5,205.5 267.8,206.3 268.0,205.0 268.2,207.1 268.5,210.6 268.8,210.6 269.0,211.4 269.2,205.0 269.5,207.9 269.8,207.4 270.0,205.0 270.2,205.2 270.5,205.0 270.8,205.4 271.0,211.7 271.2,211.5 271.5,205.1 271.8,205.2 272.0,206.4 272.2,206.1 272.5,211.6 272.8,205.0 273.0,205.3 273.2,206.0 273.5,205.4 273.8,205.0 274.0,207.3 274.2,210.2 274.5,207.3 274.8,211.3 275.0,205.2 275.2,205.0 275.5,206.1 275.8,207.3 276.0,206.2 276.2,211.3 276.5,205.0 276.8,210.4 277.0,206.8 277.2,211.2 277.5,205.0 277.8,211.7 278.0,206.4 278.2,211.0 278.5,206.8 278.8,208.3 279.0,211.0 279.2,206.5 279.5,211.7 279.8,206.7 280.0,205.1 280.2,205.3 280.5,205.1 280.8,205.0 281.0,205.8 281.2,205.1 281.5,207.4 281.8,206.3 282.0,205.1 282.2,205.0 282.5,207.6 282.8,211.7 283.0,206.1 283.2,210.8 283.5,205.5 283.8,207.4 284.0,208.4 284.2,206.0 284.5,205.2 284.8,207.5 285.0,210.4 285.2,211.6 285.5,208.2 285.8,205.5 286.0,210.5 286.2,210.8 286.5,210.2 286.8,205.3 287.0,205.0 287.2,205.4 287.5,205.0 287.8,205.1 288.0,210.4 288.2,210.6 288.5,205.9 288.8,205.6 289.0,205.6 289.2,205.3 289.5,205.0 289.8,206.4 290.0,206.3 290.2,208.0 290.5,205.9 290.8,210.9 291.0,206.3 291.2,205.1 291.5,211.0 291.8,205.8 292.0,210.3 292.2,205.0 292.5,206.2 292.8,208.1 293.0,205.7 293.2,203.2 293.5,205.2 293.8,207.7 294.0,205.7 294.2,210.8 294.5,210.2 294.8,206.6 295.0,205.8 295.2,207.0 295.5,210.5 295.8,205.0 296.0,206.2 296.2,210.4 296.5,205.3 296.8,205.0 297.0,205.2 297.2,205.1 297.5,205.9 297.8,211.5 298.0,207.2 298.2,206.8 298.5,206.0 298.8,207.8 299.0,211.6 299.2,205.6 299.5,205.8 299.8,211.3 300.0,211.1 300.2,205.2 300.5,205.3 300.8,205.5 301.0,205.6 301.2,205.5 301.5,205.2 301.8,206.5 302.0,205.0 302.2,211.4 302.5,208.0 302.8,206.6 303.0,204.0 303.2,205.1 303.5,205.0 303.8,207.9 304.0,206.0 304.2,211.3 304.5,211.5 304.8,205.0 305.0,210.7 305.2,207.6 305.5,205.1 305.8,205.1 306.0,207.2 306.2,206.2 306.5,206.1 306.8,205.0 307.0,206.1 307.2,208.0 307.5,206.1 307.8,206.3 308.0,205.2 308.2,205.0 308.5,206.2 308.8,211.6 309.0,206.2 309.2,205.2 309.5,205.4 309.8,205.0 310.0,205.2 310.2,205.3 310.5,211.8 310.8,205.0 311.0,205.0 311.2,210.6 311.5,210.2 311.8,207.1 312.0,206.1 312.2,206.4 312.5,207.1 312.8,211.6 313.0,206.0 313.2,205.7 313.5,211.6 313.8,211.1 314.0,205.1 314.2,210.5 314.5,210.4 314.8,205.5 315.0,211.6 315.2,205.1 315.5,205.8 315.8,211.0 316.0,205.1 316.2,210.8 316.5,205.0 316.8,204.9 317.0,205.2 317.2,205.4 317.5,205.0 317.8,206.0 318.0,205.0 318.2,205.2 318.5,205.8 318.8,205.1 319.0,205.0 319.2,211.0 319.5,205.0 319.8,206.5 320.0,205.0 320.2,207.6 320.5,205.3 320.8,205.0 321.0,205.0 321.2,211.3 321.5,206.1 321.8,205.1 322.0,205.1 322.2,207.7 322.5,207.3 322.8,206.9 323.0,206.4 323.2,207.8 323.5,206.9 323.8,210.1 324.0,206.2 324.2,205.4 324.5,211.1 324.8,208.3 325.0,206.3 325.2,205.8 325.5,211.8 325.8,205.0 326.0,205.1 326.2,205.6 326.5,205.0 326.8,206.4 327.0,205.3 327.2,206.8 327.5,205.0 327.8,210.7 328.0,206.3 328.2,211.4 328.5,205.1 328.8,210.3 329.0,205.1 329.2,207.7 329.5,205.2 329.8,205.0 330.0,210.5 330.2,205.0 330.5,207.3 330.8,205.6 331.0,206.0 331.2,205.4 331.5,205.6 331.8,206.2 332.0,211.7 332.2,205.1 332.5,211.4 332.8,205.0 333.0,206.1 333.2,205.9 333.5,210.6 333.8,211.4 334.0,205.9" fill="none" stroke="#86207a" stroke-width="1.0" stroke-linejoin="miter"/><polyline points="31.0,235.9 31.2,235.9 31.5,235.9 31.8,235.9 32.0,235.9 32.2,235.9 32.5,235.9 32.8,235.9 33.0,235.9 33.2,235.9 33.5,235.9 33.8,235.9 34.0,235.9 34.2,235.9 34.5,235.9 34.8,235.9 35.0,235.9 35.2,235.9 35.5,235.9 35.8,235.9 36.0,235.9 36.2,235.9 36.5,235.9 36.8,235.9 37.0,235.9 37.2,235.9 37.5,235.9 37.8,235.9 38.0,235.9 38.2,235.6 38.5,235.9 38.8,235.9 39.0,235.9 39.2,235.9 39.5,235.4 39.8,235.9 40.0,235.9 40.2,235.9 40.5,234.9 40.8,235.9 41.0,235.9 41.2,234.6 41.5,235.6 41.8,234.7 42.0,234.4 42.2,234.3 42.5,235.9 42.8,234.3 43.0,234.3 43.2,234.0 43.5,235.9 43.8,234.0 44.0,235.9 44.2,234.2 44.5,235.9 44.8,235.8 45.0,233.5 45.2,235.6 45.5,234.5 45.8,233.8 46.0,234.4 46.2,233.9 46.5,233.7 46.8,235.6 47.0,233.3 47.2,235.6 47.5,233.2 47.8,235.7 48.0,226.9 48.2,235.6 48.5,233.2 48.8,235.3 49.0,233.4 49.2,233.8 49.5,235.4 49.8,233.4 50.0,225.7 50.2,232.9 50.5,232.9 50.8,235.4 51.0,235.1 51.2,232.7 51.5,232.6 51.8,235.4 52.0,233.7 52.2,233.0 52.5,233.5 52.8,230.6 53.0,233.8 53.2,235.7 53.5,235.5 53.8,232.3 54.0,223.4 54.2,233.1 54.5,235.2 54.8,233.0 55.0,235.3 55.2,235.6 55.5,235.3 55.8,235.8 56.0,233.0 56.2,232.0 56.5,232.0 56.8,232.8 57.0,233.6 57.2,235.2 57.5,233.5 57.8,231.8 58.0,235.5 58.2,233.2 58.5,232.4 58.8,231.9 59.0,234.9 59.2,231.7 59.5,235.8 59.8,232.4 60.0,232.0 60.2,235.1 60.5,231.5 60.8,231.5 61.0,235.4 61.2,223.0 61.5,231.4 61.8,231.4 62.0,231.7 62.2,235.5 62.5,235.1 62.8,235.5 63.0,235.2 63.2,235.4 63.5,231.5 63.8,231.1 64.0,235.3 64.2,235.6 64.5,231.8 64.8,231.1 65.0,232.5 65.2,231.0 65.5,231.2 65.8,231.0 66.0,232.6 66.2,231.6 66.5,231.6 66.8,231.0 67.0,230.8 67.2,232.5 67.5,235.7 67.8,231.9 68.0,233.3 68.2,231.3 68.5,234.6 68.8,222.2 69.0,223.6 69.2,231.1 69.5,230.9 69.8,231.2 70.0,235.5 70.2,232.1 70.5,234.9 70.8,235.7 71.0,235.5 71.2,231.8 71.5,231.0 71.8,235.0 72.0,230.8 72.2,230.3 72.5,230.4 72.8,231.2 73.0,235.6 73.2,230.5 73.5,230.4 73.8,230.2 74.0,230.1 74.2,235.3 74.5,235.9 74.8,230.2 75.0,230.4 75.2,232.5 75.5,230.9 75.8,234.9 76.0,231.4 76.2,232.6 76.5,229.9 76.8,230.1 77.0,232.5 77.2,235.6 77.5,235.8 77.8,235.2 78.0,235.5 78.2,234.7 78.5,234.6 78.8,230.2 79.0,234.6 79.2,229.6 79.5,235.6 79.8,229.8 80.0,234.7 80.2,234.7 80.5,230.1 80.8,229.9 81.0,231.8 81.2,229.4 81.5,229.4 81.8,235.3 82.0,230.2 82.2,235.6 82.5,229.8 82.8,230.2 83.0,230.3 83.2,234.5 83.5,234.7 83.8,234.7 84.0,208.4 84.2,232.1 84.5,229.6 84.8,225.3 85.0,229.0 85.2,208.7 85.5,235.8 85.8,229.4 86.0,229.4 86.2,235.0 86.5,229.4 86.8,228.8 87.0,227.2 87.2,235.0 87.5,228.8 87.8,230.4 88.0,229.3 88.2,230.2 88.5,235.3 88.8,228.9 89.0,229.3 89.2,231.5 89.5,234.1 89.8,234.3 90.0,228.5 90.2,214.5 90.5,228.7 90.8,206.4 91.0,235.7 91.2,226.9 91.5,229.4 91.8,228.4 92.0,234.9 92.2,228.4 92.5,234.5 92.8,231.7 93.0,228.8 93.2,235.6 93.5,235.8 93.8,231.9 94.0,235.2 94.2,211.4 94.5,235.7 94.8,224.5 95.0,235.0 95.2,230.7 95.5,231.4 95.8,235.4 96.0,234.2 96.2,228.2 96.5,234.7 96.8,234.8 97.0,234.3 97.2,233.5 97.5,226.0 97.8,235.7 98.0,234.6 98.2,227.6 98.5,225.2 98.8,224.5 99.0,215.3 99.2,226.7 99.5,233.8 99.8,203.6 100.0,133.0 100.2,188.6 100.5,225.3 100.8,221.0 101.0,220.2 101.2,234.1 101.5,218.0 101.8,218.9 102.0,216.3 102.2,233.4 102.5,232.2 102.8,217.1 103.0,213.6 103.2,205.1 103.5,234.7 103.8,233.6 104.0,207.0 104.2,214.6 104.5,208.2 104.8,216.5 105.0,204.6 105.2,209.8 105.5,196.2 105.8,197.7 106.0,200.3 106.2,227.0 106.5,182.5 106.8,183.0 107.0,172.0 107.2,184.7 107.5,223.6 107.8,188.3 108.0,221.8 108.2,158.9 108.5,179.0 108.8,142.0 109.0,155.0 109.2,118.5 109.5,103.8 109.8,95.5 110.0,87.3 110.2,87.2 110.5,189.1 110.8,114.0 111.0,134.9 111.2,203.6 111.5,64.1 111.8,60.0 112.0,120.1 112.2,187.4 112.5,204.5 112.8,48.2 113.0,23.0 113.2,197.9 113.5,67.3 113.8,32.0 114.0,92.3 114.2,189.6 114.5,34.3 114.8,204.4 115.0,62.1 115.2,170.7 115.5,39.4 115.8,187.2 116.0,194.8 116.2,183.3 116.5,56.1 116.8,93.0 117.0,172.0 117.2,61.4 117.5,64.2 117.8,88.7 118.0,199.2 118.2,98.8 118.5,180.4 118.8,183.3 119.0,183.1 119.2,90.9 119.5,188.4 119.8,201.9 120.0,120.1 120.2,113.7 120.5,204.6 120.8,143.4 121.0,194.4 121.2,166.2 121.5,205.1 121.8,149.5 122.0,152.0 122.2,155.1 122.5,163.5 122.8,171.9 123.0,162.1 123.2,193.2 123.5,196.3 123.8,195.3 124.0,173.7 124.2,181.0 124.5,195.9 124.8,186.5 125.0,196.0 125.2,180.8 125.5,182.6 125.8,186.1 126.0,197.8 126.2,195.9 126.5,189.2 126.8,197.0 127.0,197.3 127.2,191.8 127.5,192.9 127.8,193.9 128.0,195.0 128.2,195.6 128.5,195.6 128.8,196.3 129.0,196.3 129.2,197.5 129.5,199.2 129.8,199.3 130.0,196.5 130.2,199.5 130.5,197.6 130.8,197.0 131.0,199.6 131.2,197.7 131.5,200.1 131.8,197.9 132.0,200.1 132.2,197.9 132.5,198.5 132.8,199.4 133.0,200.4 133.2,198.6 133.5,198.8 133.8,199.2 134.0,199.3 134.2,199.4 134.5,200.1 134.8,198.7 135.0,200.1 135.2,202.2 135.5,200.5 135.8,202.4 136.0,201.5 136.2,201.7 136.5,203.2 136.8,201.8 137.0,203.1 137.2,201.5 137.5,202.2 137.8,201.9 138.0,202.5 138.2,202.5 138.5,202.9 138.8,205.5 139.0,203.5 139.2,204.0 139.5,204.2 139.8,206.8 140.0,204.9 140.2,205.3 140.5,206.2 140.8,208.3 141.0,206.2 141.2,208.6 141.5,209.2 141.8,207.2 142.0,209.7 142.2,208.0 142.5,208.0 142.8,208.0 143.0,208.5 143.2,208.7 143.5,208.5 143.8,208.7 144.0,208.9 144.2,209.9 144.5,209.2 144.8,209.4 145.0,209.5 145.2,210.2 145.5,210.6 145.8,210.0 146.0,211.0 146.2,210.8 146.5,210.5 146.8,212.9 147.0,210.9 147.2,211.7 147.5,211.2 147.8,211.5 148.0,211.7 148.2,212.6 148.5,214.3 148.8,212.3 149.0,212.2 149.2,212.5 149.5,212.6 149.8,213.9 150.0,213.3 150.2,213.1 150.5,213.3 150.8,215.7 151.0,215.4 151.2,216.0 151.5,214.2 151.8,214.0 152.0,216.1 152.2,214.2 152.5,216.2 152.8,214.5 153.0,214.5 153.2,214.6 153.5,216.7 153.8,217.2 154.0,215.0 154.2,215.3 154.5,216.4 154.8,217.8 155.0,216.5 155.2,217.8 155.5,216.1 155.8,217.9 156.0,216.4 156.2,216.3 156.5,216.3 156.8,216.4 157.0,216.5 157.2,216.7 157.5,219.1 157.8,217.2 158.0,219.3 158.2,219.1 158.5,217.3 158.8,218.4 159.0,219.7 159.2,217.9 159.5,217.9 159.8,218.6 160.0,220.2 160.2,218.1 160.5,220.1 160.8,218.4 161.0,220.7 161.2,218.9 161.5,221.0 161.8,220.1 162.0,219.5 162.2,219.1 162.5,221.6 162.8,219.6 163.0,221.6 163.2,222.0 163.5,221.7 163.8,222.1 164.0,221.2 164.2,220.3 164.5,220.3 164.8,222.8 165.0,222.8 165.2,222.5 165.5,220.9 165.8,220.8 166.0,221.4 166.2,221.2 166.5,221.8 166.8,221.2 167.0,222.2 167.2,223.3 167.5,224.0 167.8,221.8 168.0,221.7 168.2,224.3 168.5,221.9 168.8,222.9 169.0,224.0 169.2,224.3 169.5,224.6 169.8,224.4 170.0,222.5 170.2,224.8 170.5,224.5 170.8,224.5 171.0,222.7 171.2,224.9 171.5,222.8 171.8,224.6 172.0,225.0 172.2,223.3 172.5,224.7 172.8,223.0 173.0,222.9 173.2,222.8 173.5,223.1 173.8,224.8 174.0,223.1 174.2,224.1 174.5,223.0 174.8,225.3 175.0,223.5 175.2,224.0 175.5,224.1 175.8,225.0 176.0,224.1 176.2,223.3 176.5,225.1 176.8,225.6 177.0,225.1 177.2,223.5 177.5,223.3 177.8,223.6 178.0,223.3 178.2,223.4 178.5,223.5 178.8,224.5 179.0,223.8 179.2,224.0 179.5,225.8 179.8,223.1 180.0,225.4 180.2,223.5 180.5,224.7 180.8,223.7 181.0,223.7 181.2,223.9 181.5,225.5 181.8,226.0 182.0,225.8 182.2,225.6 182.5,226.1 182.8,223.5 183.0,224.0 183.2,225.9 183.5,224.0 183.8,224.1 184.0,224.6 184.2,223.9 184.5,225.8 184.8,224.6 185.0,226.2 185.2,226.4 185.5,224.6 185.8,224.1 186.0,226.2 186.2,226.1 186.5,224.4 186.8,226.1 187.0,225.4 187.2,226.5 187.5,224.5 187.8,226.2 188.0,224.5 188.2,226.6 188.5,224.4 188.8,224.7 189.0,226.7 189.2,226.4 189.5,224.5 189.8,225.7 190.0,226.4 190.2,224.6 190.5,224.8 190.8,224.7 191.0,226.9 191.2,225.2 191.5,225.1 191.8,225.8 192.0,227.1 192.2,225.7 192.5,225.5 192.8,224.8 193.0,226.7 193.2,225.2 193.5,224.9 193.8,226.9 194.0,225.7 194.2,227.0 194.5,225.2 194.8,225.1 195.0,226.0 195.2,227.0 195.5,227.1 195.8,227.0 196.0,227.4 196.2,227.1 196.5,227.1 196.8,227.5 197.0,225.8 197.2,227.5 197.5,225.5 197.8,225.3 198.0,227.6 198.2,226.3 198.5,225.4 198.8,227.6 199.0,227.5 199.2,226.5 199.5,225.5 199.8,225.5 200.0,227.7 200.2,226.5 200.5,225.7 200.8,226.1 201.0,227.6 201.2,225.8 201.5,227.9 201.8,225.9 202.0,228.2 202.2,227.7 202.5,225.8 202.8,226.2 203.0,225.9 203.2,226.0 203.5,228.1 203.8,227.9 204.0,226.0 204.2,228.2 204.5,228.1 204.8,226.1 205.0,226.3 205.2,226.6 205.5,226.3 205.8,228.4 206.0,227.0 206.2,226.6 206.5,227.4 206.8,226.4 207.0,226.5 207.2,228.9 207.5,226.7 207.8,226.5 208.0,228.6 208.2,227.2 208.5,227.0 208.8,228.7 209.0,226.7 209.2,226.9 209.5,226.8 209.8,226.8 210.0,229.2 210.2,227.0 210.5,226.9 210.8,227.8 211.0,226.9 211.2,227.9 211.5,227.4 211.8,229.0 212.0,229.4 212.2,229.2 212.5,227.2 212.8,227.2 213.0,229.2 213.2,229.2 213.5,229.5 213.8,227.9 214.0,227.4 214.2,229.8 214.5,229.5 214.8,227.5 215.0,227.5 215.2,228.4 215.5,227.6 215.8,229.5 216.0,229.6 216.2,227.6 216.5,228.8 216.8,229.5 217.0,228.4 217.2,229.5 217.5,227.6 217.8,229.8 218.0,228.3 218.2,229.9 218.5,227.6 218.8,227.6 219.0,227.6 219.2,229.8 219.5,230.0 219.8,229.8 220.0,229.6 220.2,229.7 220.5,229.5 220.8,227.6 221.0,229.7 221.2,228.7 221.5,229.8 221.8,229.6 222.0,229.9 222.2,228.8 222.5,229.5 222.8,228.1 223.0,227.7 223.2,227.8 223.5,227.7 223.8,228.4 224.0,230.1 224.2,227.9 224.5,230.0 224.8,230.0 225.0,228.2 225.2,227.7 225.5,227.7 225.8,229.8 226.0,228.7 226.2,228.4 226.5,230.0 226.8,228.5 227.0,228.4 227.2,230.1 227.5,228.4 227.8,230.1 228.0,229.9 228.2,229.6 228.5,228.9 228.8,229.9 229.0,227.7 229.2,228.4 229.5,229.9 229.8,227.7 230.0,228.1 230.2,227.9 230.5,228.1 230.8,228.7 231.0,228.3 231.2,230.2 231.5,228.1 231.8,228.1 232.0,227.8 232.2,227.8 232.5,227.9 232.8,229.8 233.0,227.8 233.2,228.3 233.5,228.9 233.8,229.9 234.0,228.2 234.2,228.5 234.5,230.2 234.8,228.3 235.0,227.8 235.2,228.7 235.5,227.9 235.8,227.9 236.0,229.7 236.2,230.2 236.5,228.5 236.8,227.9 237.0,229.0 237.2,228.3 237.5,229.9 237.8,230.4 238.0,229.9 238.2,229.8 238.5,228.3 238.8,230.2 239.0,230.3 239.2,228.0 239.5,230.2 239.8,229.9 240.0,228.0 240.2,228.9 240.5,230.0 240.8,229.1 241.0,230.4 241.2,228.1 241.5,228.6 241.8,230.3 242.0,229.9 242.2,228.7 242.5,228.7 242.8,230.4 243.0,228.9 243.2,230.4 243.5,228.0 243.8,230.0 244.0,230.2 244.2,230.1 244.5,228.2 244.8,230.1 245.0,229.0 245.2,229.0 245.5,228.1 245.8,230.3 246.0,228.5 246.2,228.0 246.5,228.2 246.8,230.1 247.0,230.1 247.2,230.3 247.5,230.3 247.8,228.2 248.0,230.2 248.2,230.2 248.5,230.0 248.8,230.5 249.0,230.0 249.2,228.1 249.5,228.8 249.8,230.1 250.0,228.1 250.2,230.2 250.5,230.4 250.8,229.2 251.0,228.2 251.2,228.3 251.5,230.3 251.8,230.6 252.0,230.1 252.2,230.1 252.5,230.6 252.8,230.2 253.0,229.1 253.2,230.6 253.5,230.3 253.8,228.2 254.0,230.4 254.2,230.3 254.5,230.1 254.8,228.7 255.0,228.2 255.2,228.2 255.5,228.3 255.8,230.2 256.0,230.2 256.2,228.2 256.5,228.8 256.8,228.3 257.0,228.8 257.2,228.9 257.5,230.5 257.8,228.8 258.0,230.4 258.2,230.3 258.5,228.6 258.8,228.3 259.0,228.3 259.2,228.8 259.5,230.2 259.8,230.3 260.0,228.3 260.2,228.4 260.5,230.7 260.8,228.4 261.0,229.4 261.2,230.5 261.5,229.3 261.8,230.6 262.0,228.9 262.2,230.4 262.5,228.3 262.8,228.6 263.0,228.3 263.2,229.0 263.5,230.6 263.8,230.5 264.0,228.4 264.2,228.8 264.5,230.6 264.8,230.5 265.0,229.2 265.2,228.5 265.5,230.4 265.8,228.4 266.0,228.4 266.2,228.9 266.5,229.3 266.8,229.0 267.0,230.5 267.2,230.4 267.5,229.0 267.8,228.7 268.0,228.5 268.2,229.2 268.5,228.5 268.8,230.8 269.0,229.1 269.2,230.6 269.5,229.2 269.8,230.8 270.0,229.6 270.2,228.7 270.5,228.5 270.8,230.5 271.0,229.6 271.2,228.8 271.5,230.9 271.8,230.9 272.0,230.6 272.2,229.2 272.5,229.4 272.8,228.6 273.0,230.4 273.2,228.7 273.5,230.4 273.8,228.5 274.0,228.7 274.2,228.7 274.5,229.4 274.8,228.5 275.0,230.5 275.2,228.6 275.5,230.7 275.8,229.0 276.0,230.5 276.2,229.6 276.5,229.7 276.8,230.6 277.0,228.5 277.2,229.0 277.5,230.9 277.8,230.7 278.0,230.9 278.2,230.9 278.5,229.3 278.8,230.9 279.0,228.6 279.2,228.6 279.5,229.0 279.8,228.9 280.0,229.2 280.2,230.9 280.5,228.6 280.8,230.5 281.0,229.5 281.2,229.7 281.5,229.3 281.8,228.7 282.0,231.0 282.2,229.6 282.5,230.6 282.8,230.6 283.0,230.9 283.2,229.1 283.5,229.2 283.8,230.5 284.0,230.8 284.2,231.0 284.5,230.8 284.8,230.7 285.0,229.7 285.2,229.5 285.5,229.2 285.8,231.0 286.0,228.7 286.2,231.0 286.5,229.8 286.8,228.8 287.0,229.1 287.2,230.7 287.5,228.8 287.8,230.9 288.0,228.8 288.2,229.5 288.5,229.7 288.8,228.7 289.0,229.2 289.2,230.6 289.5,230.7 289.8,228.8 290.0,230.8 290.2,231.1 290.5,229.4 290.8,230.9 291.0,230.7 291.2,231.1 291.5,230.7 291.8,229.2 292.0,228.9 292.2,231.2 292.5,231.2 292.8,229.1 293.0,228.8 293.2,229.5 293.5,231.2 293.8,228.8 294.0,229.2 294.2,229.6 294.5,228.9 294.8,228.9 295.0,228.9 295.2,230.7 295.5,229.5 295.8,228.9 296.0,229.1 296.2,230.9 296.5,228.9 296.8,229.1 297.0,228.9 297.2,228.9 297.5,230.1 297.8,231.2 298.0,229.0 298.2,229.3 298.5,229.0 298.8,228.9 299.0,229.8 299.2,229.0 299.5,231.4 299.8,229.9 300.0,231.4 300.2,229.9 300.5,229.1 300.8,229.5 301.0,229.8 301.2,231.0 301.5,230.1 301.8,229.0 302.0,231.2 302.2,229.0 302.5,231.3 302.8,229.0 303.0,231.4 303.2,231.0 303.5,231.3 303.8,229.0 304.0,229.1 304.2,229.0 304.5,231.4 304.8,229.0 305.0,231.1 305.2,231.4 305.5,230.1 305.8,231.3 306.0,229.1 306.2,229.3 306.5,231.2 306.8,229.2 307.0,231.1 307.2,229.5 307.5,231.4 307.8,231.5 308.0,229.1 308.2,230.1 308.5,231.6 308.8,229.2 309.0,231.2 309.2,229.2 309.5,229.2 309.8,229.4 310.0,231.3 310.2,229.1 310.5,229.8 310.8,229.2 311.0,229.2 311.2,231.1 311.5,229.2 311.8,229.7 312.0,229.1 312.2,229.2 312.5,229.3 312.8,231.6 313.0,230.0 313.2,231.2 313.5,231.4 313.8,231.2 314.0,229.9 314.2,229.2 314.5,230.0 314.8,231.1 315.0,231.3 315.2,231.1 315.5,229.9 315.8,229.3 316.0,229.2 316.2,229.2 316.5,229.6 316.8,231.6 317.0,231.2 317.2,229.6 317.5,229.4 317.8,230.4 318.0,231.6 318.2,230.4 318.5,229.7 318.8,229.8 319.0,229.8 319.2,229.3 319.5,231.6 319.8,229.3 320.0,230.3 320.2,230.5 320.5,229.6 320.8,229.3 321.0,229.3 321.2,229.5 321.5,229.4 321.8,231.8 322.0,231.6 322.2,229.7 322.5,231.2 322.8,229.3 323.0,229.4 323.2,229.4 323.5,231.6 323.8,229.7 324.0,231.2 324.2,230.2 324.5,229.5 324.8,231.3 325.0,231.2 325.2,230.2 325.5,230.3 325.8,231.6 326.0,229.4 326.2,231.6 326.5,230.5 326.8,229.8 327.0,229.8 327.2,229.5 327.5,231.4 327.8,229.4 328.0,229.7 328.2,229.9 328.5,231.3 328.8,230.2 329.0,229.5 329.2,229.5 329.5,231.3 329.8,229.7 330.0,231.4 330.2,229.4 330.5,231.8 330.8,231.4 331.0,231.5 331.2,229.6 331.5,231.7 331.8,230.7 332.0,229.8 332.2,230.2 332.5,231.4 332.8,231.7 333.0,229.7 333.2,229.5 333.5,230.0 333.8,231.6 334.0,230.6" fill="none" stroke="#5a1878" stroke-width="1.0" stroke-linejoin="miter"/></g>
<g clip-path="url(#cr)"><polyline points="370.0,237.5 370.2,237.5 370.5,237.5 370.8,237.5 371.0,237.5 371.2,237.5 371.5,237.5 371.8,237.5 372.0,237.5 372.2,237.5 372.5,237.5 372.8,237.5 373.0,237.5 373.2,237.5 373.5,237.5 373.8,237.5 374.0,237.5 374.2,237.5 374.5,237.5 374.8,237.5 375.0,237.5 375.2,237.5 375.5,237.5 375.8,237.5 376.0,237.5 376.2,237.5 376.5,237.5 376.8,237.5 377.0,237.5 377.2,237.5 377.5,237.5 377.8,237.5 378.0,237.5 378.2,237.5 378.5,237.5 378.8,237.5 379.0,237.5 379.2,237.5 379.5,237.5 379.8,237.5 380.0,237.5 380.2,237.5 380.5,237.5 380.8,237.5 381.0,237.5 381.2,237.5 381.5,237.5 381.8,237.5 382.0,237.5 382.2,237.5 382.5,237.5 382.8,237.5 383.0,237.5 383.2,237.5 383.5,237.5 383.8,237.5 384.0,237.5 384.2,237.5 384.5,237.5 384.8,237.5 385.0,237.5 385.2,237.5 385.5,237.5 385.8,237.5 386.0,237.5 386.2,237.5 386.5,237.5 386.8,237.5 387.0,237.5 387.2,237.5 387.5,237.5 387.8,237.5 388.0,237.5 388.2,237.5 388.5,237.5 388.8,237.5 389.0,237.5 389.2,237.5 389.5,237.5 389.8,237.5 390.0,237.5 390.2,237.5 390.5,237.5 390.8,237.5 391.0,237.5 391.2,237.5 391.5,237.5 391.8,237.5 392.0,237.5 392.2,237.5 392.5,237.5 392.8,237.5 393.0,237.5 393.2,237.5 393.5,237.5 393.8,237.5 394.0,237.5 394.2,237.5 394.5,237.5 394.8,237.5 395.0,237.5 395.2,237.5 395.5,237.5 395.8,237.5 396.0,237.5 396.2,237.5 396.5,237.5 396.8,237.5 397.0,237.5 397.2,237.5 397.5,237.5 397.8,237.5 398.0,237.5 398.2,237.5 398.5,237.5 398.8,237.5 399.0,237.5 399.2,237.5 399.5,237.5 399.8,237.5 400.0,237.5 400.2,237.5 400.5,237.5 400.8,237.5 401.0,237.5 401.2,237.5 401.5,237.5 401.8,237.5 402.0,237.5 402.2,237.5 402.5,237.5 402.8,237.5 403.0,237.5 403.2,237.5 403.5,237.5 403.8,237.5 404.0,237.5 404.2,237.5 404.5,237.5 404.8,237.5 405.0,237.5 405.2,237.5 405.5,237.5 405.8,237.5 406.0,237.5 406.2,237.5 406.5,237.5 406.8,237.5 407.0,237.5 407.2,237.5 407.5,237.5 407.8,237.5 408.0,237.5 408.2,237.5 408.5,237.5 408.8,237.5 409.0,237.5 409.2,237.5 409.5,237.5 409.8,237.5 410.0,237.5 410.2,237.5 410.5,237.5 410.8,237.5 411.0,237.5 411.2,237.5 411.5,237.5 411.8,237.5 412.0,237.5 412.2,237.5 412.5,237.5 412.8,237.5 413.0,237.5 413.2,237.5 413.5,237.5 413.8,237.5 414.0,237.5 414.2,237.5 414.5,237.5 414.8,237.5 415.0,237.5 415.2,237.5 415.5,237.5 415.8,237.5 416.0,237.5 416.2,237.5 416.5,237.5 416.8,237.5 417.0,237.5 417.2,237.5 417.5,237.5 417.8,237.5 418.0,237.5 418.2,237.5 418.5,237.5 418.8,237.5 419.0,237.5 419.2,237.5 419.5,237.5 419.8,237.5 420.0,237.5 420.2,237.5 420.5,237.5 420.8,237.5 421.0,237.5 421.2,237.5 421.5,237.5 421.8,237.5 422.0,237.5 422.2,237.5 422.5,237.5 422.8,237.5 423.0,237.5 423.2,237.5 423.5,237.5 423.8,237.5 424.0,237.5 424.2,237.5 424.5,237.5 424.8,237.5 425.0,237.5 425.2,237.5 425.5,237.5 425.8,237.5 426.0,237.5 426.2,237.5 426.5,237.5 426.8,237.5 427.0,237.5 427.2,237.5 427.5,237.5 427.8,237.5 428.0,237.5 428.2,237.5 428.5,237.5 428.8,237.5 429.0,237.5 429.2,237.5 429.5,237.5 429.8,237.5 430.0,237.5 430.2,237.5 430.5,237.5 430.8,237.5 431.0,237.5 431.2,237.5 431.5,237.5 431.8,237.5 432.0,237.5 432.2,237.5 432.5,237.5 432.8,237.5 433.0,237.5 433.2,237.5 433.5,237.5 433.8,237.5 434.0,237.5 434.2,237.5 434.5,237.5 434.8,237.5 435.0,237.5 435.2,237.5 435.5,237.5 435.8,237.5 436.0,237.5 436.2,237.5 436.5,237.5 436.8,237.5 437.0,237.5 437.2,237.5 437.5,237.5 437.8,237.5 438.0,237.5 438.2,237.5 438.5,237.5 438.8,237.5 439.0,237.5 439.2,237.5 439.5,237.5 439.8,237.5 440.0,237.5 440.2,237.5 440.5,237.5 440.8,237.5 441.0,237.5 441.2,237.5 441.5,237.5 441.8,237.5 442.0,237.5 442.2,237.5 442.5,237.5 442.8,237.5 443.0,237.5 443.2,237.5 443.5,237.5 443.8,237.5 444.0,237.5 444.2,237.5 444.5,237.5 444.8,237.5 445.0,237.5 445.2,237.5 445.5,237.5 445.8,237.5 446.0,237.5 446.2,235.9 446.5,234.8 446.8,233.1 447.0,231.2 447.2,236.5 447.5,236.4 447.8,230.9 448.0,230.4 448.2,232.3 448.5,232.8 448.8,230.1 449.0,236.8 449.2,237.2 449.5,229.6 449.8,233.1 450.0,235.6 450.2,236.8 450.5,229.9 450.8,229.1 451.0,229.9 451.2,225.4 451.5,229.2 451.8,235.6 452.0,229.6 452.2,235.3 452.5,231.3 452.8,230.5 453.0,231.0 453.2,236.4 453.5,227.2 453.8,228.8 454.0,226.9 454.2,231.5 454.5,227.5 454.8,226.7 455.0,226.3 455.2,229.9 455.5,229.7 455.8,225.9 456.0,228.8 456.2,225.6 456.5,227.9 456.8,235.0 457.0,237.1 457.2,236.9 457.5,228.4 457.8,228.2 458.0,228.8 458.2,225.1 458.5,224.5 458.8,234.8 459.0,226.8 459.2,237.4 459.5,224.6 459.8,225.5 460.0,225.7 460.2,225.1 460.5,226.2 460.8,223.3 461.0,222.9 461.2,235.1 461.5,226.6 461.8,237.5 462.0,222.5 462.2,234.3 462.5,223.8 462.8,227.4 463.0,221.5 463.2,223.8 463.5,226.9 463.8,228.5 464.0,237.3 464.2,222.0 464.5,235.8 464.8,227.6 465.0,220.4 465.2,226.5 465.5,219.9 465.8,219.7 466.0,219.5 466.2,219.4 466.5,219.3 466.8,219.3 467.0,219.3 467.2,227.4 467.5,234.8 467.8,235.9 468.0,210.6 468.2,222.0 468.5,220.7 468.8,219.1 469.0,218.8 469.2,232.6 469.5,219.0 469.8,221.6 470.0,217.0 470.2,216.8 470.5,216.8 470.8,219.2 471.0,218.9 471.2,223.6 471.5,223.8 471.8,222.0 472.0,216.1 472.2,215.2 472.5,223.3 472.8,224.3 473.0,214.6 473.2,214.4 473.5,231.7 473.8,214.9 474.0,218.8 474.2,215.3 474.5,217.7 474.8,231.6 475.0,213.2 475.2,213.5 475.5,232.3 475.8,215.1 476.0,208.4 476.2,214.9 476.5,232.8 476.8,217.4 477.0,220.6 477.2,215.2 477.5,215.2 477.8,214.2 478.0,211.0 478.2,217.3 478.5,210.4 478.8,209.1 479.0,210.7 479.2,212.4 479.5,217.9 479.8,210.3 480.0,213.0 480.2,210.5 480.5,210.3 480.8,221.6 481.0,212.8 481.2,236.5 481.5,217.7 481.8,209.6 482.0,205.4 482.2,206.3 482.5,220.2 482.8,211.2 483.0,200.0 483.2,207.9 483.5,230.6 483.8,215.0 484.0,207.4 484.2,205.3 484.5,205.1 484.8,205.9 485.0,203.1 485.2,203.0 485.5,208.5 485.8,233.4 486.0,237.4 486.2,201.5 486.5,202.0 486.8,230.0 487.0,228.2 487.2,230.0 487.5,200.9 487.8,199.6 488.0,209.3 488.2,214.7 488.5,198.7 488.8,201.4 489.0,207.8 489.2,210.0 489.5,230.0 489.8,230.1 490.0,222.4 490.2,228.7 490.5,220.7 490.8,210.5 491.0,224.4 491.2,219.0 491.5,198.3 491.8,220.4 492.0,214.4 492.2,214.1 492.5,193.1 492.8,199.1 493.0,195.3 493.2,193.0 493.5,208.5 493.8,191.2 494.0,211.2 494.2,191.1 494.5,193.7 494.8,191.5 495.0,203.6 495.2,205.8 495.5,202.0 495.8,203.7 496.0,192.7 496.2,193.0 496.5,194.9 496.8,194.4 497.0,187.9 497.2,199.9 497.5,188.3 497.8,200.3 498.0,202.3 498.2,200.7 498.5,189.5 498.8,188.4 499.0,183.9 499.2,199.9 499.5,185.0 499.8,181.8 500.0,181.9 500.2,184.8 500.5,196.2 500.8,181.0 501.0,200.2 501.2,180.0 501.5,195.3 501.8,179.1 502.0,196.9 502.2,182.1 502.5,184.5 502.8,179.9 503.0,177.2 503.2,183.0 503.5,194.8 503.8,192.7 504.0,184.3 504.2,178.5 504.5,177.8 504.8,192.4 505.0,193.9 505.2,194.3 505.5,193.8 505.8,193.9 506.0,175.0 506.2,191.5 506.5,180.9 506.8,193.4 507.0,191.5 507.2,190.8 507.5,170.6 507.8,161.7 508.0,189.4 508.2,169.7 508.5,189.9 508.8,173.9 509.0,186.9 509.2,167.3 509.5,190.8 509.8,188.6 510.0,168.2 510.2,170.4 510.5,165.3 510.8,168.8 511.0,164.7 511.2,175.7 511.5,166.6 511.8,188.0 512.0,171.1 512.2,185.9 512.5,182.2 512.8,184.1 513.0,181.4 513.2,181.9 513.5,184.1 513.8,160.0 514.0,160.8 514.2,150.1 514.5,172.1 514.8,158.4 515.0,158.6 515.2,158.7 515.5,156.7 515.8,179.2 516.0,182.0 516.2,157.9 516.5,146.4 516.8,153.7 517.0,178.4 517.2,179.9 517.5,156.0 517.8,138.5 518.0,178.3 518.2,175.7 518.5,176.4 518.8,173.2 519.0,147.7 519.2,174.2 519.5,175.6 519.8,146.3 520.0,145.2 520.2,170.9 520.5,169.4 520.8,169.8 521.0,175.0 521.2,170.5 521.5,168.2 521.8,171.1 522.0,166.9 522.2,172.3 522.5,148.1 522.8,168.1 523.0,165.6 523.2,168.5 523.5,169.4 523.8,164.9 524.0,169.9 524.2,129.7 524.5,143.4 524.8,162.5 525.0,165.3 525.2,163.6 525.5,162.1 525.8,161.7 526.0,142.4 526.2,162.8 526.5,161.4 526.8,144.6 527.0,132.3 527.2,163.2 527.5,140.7 527.8,159.7 528.0,162.4 528.2,139.3 528.5,133.0 528.8,135.2 529.0,126.5 529.2,121.5 529.5,130.0 529.8,119.0 530.0,152.8 530.2,98.2 530.5,147.7 530.8,150.6 531.0,147.8 531.2,151.6 531.5,126.6 531.8,130.8 532.0,108.2 532.2,141.9 532.5,148.6 532.8,149.3 533.0,102.4 533.2,119.7 533.5,100.6 533.8,120.0 534.0,137.6 534.2,102.0 534.5,134.8 534.8,137.5 535.0,138.8 535.2,134.9 535.5,133.3 535.8,138.8 536.0,132.2 536.2,84.7 536.5,125.6 536.8,131.1 537.0,135.3 537.2,137.3 537.5,79.1 537.8,89.9 538.0,128.2 538.2,75.8 538.5,83.7 538.8,129.1 539.0,68.8 539.2,101.0 539.5,130.5 539.8,70.7 540.0,128.1 540.2,79.1 540.5,64.7 540.8,122.9 541.0,62.0 541.2,130.7 541.5,121.8 541.8,119.2 542.0,119.9 542.2,61.7 542.5,129.6 542.8,63.1 543.0,123.0 543.2,56.4 543.5,116.3 543.8,130.2 544.0,115.5 544.2,133.5 544.5,122.2 544.8,130.0 545.0,55.5 545.2,51.7 545.5,70.2 545.8,118.4 546.0,47.0 546.2,128.9 546.5,56.4 546.8,50.9 547.0,52.0 547.2,116.7 547.5,125.5 547.8,72.4 548.0,50.3 548.2,59.3 548.5,117.4 548.8,131.7 549.0,51.7 549.2,132.3 549.5,23.0 549.8,129.4 550.0,120.2 550.2,117.4 550.5,40.5 550.8,77.1 551.0,53.2 551.2,126.0 551.5,133.2 551.8,55.8 552.0,134.8 552.2,135.6 552.5,57.0 552.8,62.6 553.0,130.0 553.2,69.3 553.5,62.7 553.8,82.5 554.0,132.1 554.2,70.0 554.5,129.4 554.8,129.1 555.0,134.1 555.2,144.3 555.5,131.2 555.8,131.7 556.0,93.4 556.2,78.7 556.5,56.9 556.8,86.3 557.0,136.5 557.2,139.7 557.5,138.8 557.8,150.1 558.0,136.0 558.2,152.1 558.5,150.4 558.8,145.7 559.0,94.9 559.2,152.5 559.5,109.7 559.8,142.9 560.0,152.6 560.2,151.5 560.5,157.1 560.8,151.4 561.0,107.3 561.2,107.1 561.5,158.4 561.8,113.2 562.0,110.8 562.2,131.6 562.5,154.6 562.8,130.8 563.0,164.8 563.2,161.9 563.5,159.8 563.8,126.3 564.0,125.2 564.2,120.0 564.5,166.2 564.8,121.4 565.0,124.7 565.2,166.5 565.5,141.1 565.8,126.6 566.0,170.1 566.2,146.0 566.5,170.9 566.8,165.3 567.0,165.7 567.2,167.3 567.5,131.0 567.8,132.9 568.0,169.2 568.2,169.7 568.5,175.0 568.8,141.0 569.0,167.6 569.2,172.6 569.5,168.8 569.8,174.5 570.0,174.0 570.2,135.7 570.5,175.3 570.8,148.7 571.0,136.7 571.2,147.0 571.5,175.1 571.8,172.1 572.0,176.7 572.2,138.9 572.5,151.0 572.8,127.8 573.0,179.4 573.2,179.3 573.5,173.1 573.8,137.7 574.0,155.3 574.2,171.7 574.5,179.8 574.8,174.3 575.0,146.2 575.2,179.3 575.5,181.7 575.8,145.6 576.0,146.7 576.2,176.3 576.5,177.6 576.8,146.6 577.0,181.9 577.2,145.1 577.5,179.3 577.8,155.3 578.0,181.3 578.2,175.8 578.5,147.1 578.8,183.4 579.0,149.2 579.2,158.7 579.5,180.2 579.8,181.5 580.0,136.7 580.2,150.5 580.5,180.4 580.8,176.6 581.0,186.0 581.2,163.8 581.5,149.4 581.8,182.5 582.0,180.0 582.2,159.9 582.5,183.3 582.8,186.0 583.0,150.2 583.2,183.5 583.5,187.3 583.8,185.7 584.0,184.4 584.2,183.3 584.5,187.5 584.8,159.3 585.0,181.2 585.2,185.7 585.5,188.2 585.8,169.6 586.0,154.4 586.2,156.8 586.5,152.8 586.8,153.1 587.0,153.8 587.2,183.4 587.5,183.3 587.8,166.9 588.0,153.9 588.2,153.6 588.5,186.8 588.8,155.3 589.0,181.7 589.2,163.2 589.5,169.7 589.8,186.8 590.0,144.6 590.2,163.7 590.5,171.9 590.8,155.0 591.0,183.6 591.2,190.6 591.5,183.1 591.8,167.3 592.0,159.6 592.2,190.1 592.5,156.3 592.8,157.0 593.0,185.6 593.2,157.9 593.5,183.1 593.8,188.9 594.0,189.1 594.2,186.0 594.5,162.2 594.8,187.4 595.0,191.1 595.2,190.7 595.5,169.3 595.8,185.5 596.0,183.5 596.2,187.3 596.5,157.3 596.8,159.7 597.0,156.6 597.2,158.8 597.5,162.9 597.8,191.3 598.0,190.0 598.2,189.3 598.5,146.5 598.8,185.4 599.0,157.1 599.2,184.9 599.5,189.6 599.8,184.1 600.0,184.9 600.2,164.2 600.5,151.8 600.8,167.0 601.0,191.4 601.2,184.7 601.5,189.7 601.8,185.4 602.0,187.9 602.2,162.8 602.5,157.3 602.8,164.2 603.0,156.7 603.2,155.2 603.5,192.5 603.8,161.3 604.0,184.9 604.2,172.4 604.5,185.4 604.8,157.4 605.0,190.9 605.2,185.4 605.5,185.1 605.8,172.8 606.0,160.7 606.2,189.8 606.5,187.6 606.8,164.1 607.0,190.4 607.2,190.6 607.5,157.7 607.8,174.4 608.0,186.1 608.2,189.6 608.5,162.4 608.8,188.0 609.0,172.8 609.2,158.0 609.5,158.4 609.8,169.2 610.0,155.5 610.2,189.0 610.5,158.2 610.8,193.7 611.0,166.3 611.2,173.8 611.5,188.7 611.8,157.9 612.0,189.5 612.2,172.0 612.5,157.9 612.8,193.0 613.0,162.7 613.2,188.8 613.5,191.2 613.8,185.5 614.0,190.1 614.2,186.7 614.5,191.0 614.8,188.8 615.0,169.1 615.2,191.2 615.5,173.4 615.8,192.4 616.0,160.8 616.2,189.6 616.5,157.9 616.8,175.1 617.0,158.0 617.2,189.7 617.5,157.7 617.8,188.1 618.0,169.0 618.2,164.5 618.5,185.8 618.8,184.9 619.0,157.9 619.2,164.0 619.5,171.0 619.8,187.7 620.0,158.5 620.2,187.8 620.5,188.8 620.8,172.0 621.0,191.1 621.2,162.9 621.5,190.4 621.8,184.5 622.0,158.3 622.2,189.2 622.5,187.4 622.8,157.7 623.0,157.8 623.2,187.5 623.5,158.5 623.8,185.2 624.0,188.5 624.2,184.8 624.5,190.9 624.8,162.2 625.0,186.6 625.2,192.7 625.5,158.6 625.8,167.1 626.0,158.0 626.2,185.1 626.5,151.0 626.8,190.1 627.0,186.1 627.2,169.7 627.5,154.9 627.8,184.5 628.0,187.1 628.2,186.4 628.5,186.0 628.8,160.4 629.0,193.0 629.2,192.7 629.5,189.1 629.8,162.9 630.0,189.3 630.2,153.0 630.5,154.6 630.8,159.9 631.0,189.6 631.2,171.3 631.5,184.6 631.8,188.4 632.0,161.1 632.2,186.2 632.5,189.4 632.8,190.5 633.0,186.4 633.2,174.3 633.5,157.1 633.8,184.6 634.0,192.3 634.2,170.8 634.5,157.1 634.8,157.9 635.0,163.9 635.2,184.1 635.5,169.7 635.8,163.3 636.0,189.1 636.2,191.5 636.5,184.2 636.8,161.5 637.0,158.4 637.2,188.0 637.5,186.5 637.8,161.1 638.0,186.7 638.2,185.5 638.5,150.3 638.8,191.5 639.0,192.0 639.2,161.2 639.5,191.7 639.8,187.3 640.0,163.6 640.2,187.9 640.5,191.1 640.8,191.5 641.0,187.7 641.2,185.7 641.5,161.0 641.8,155.8 642.0,166.5 642.2,165.1 642.5,161.6 642.8,186.1 643.0,172.9 643.2,164.1 643.5,191.5 643.8,190.3 644.0,189.4 644.2,155.9 644.5,154.4 644.8,185.5 645.0,152.0 645.2,155.5 645.5,155.3 645.8,157.9 646.0,188.9 646.2,190.8 646.5,157.7 646.8,155.2 647.0,161.6 647.2,189.0 647.5,154.7 647.8,189.7 648.0,144.1 648.2,154.4 648.5,182.6 648.8,184.9 649.0,156.2 649.2,156.7 649.5,187.3 649.8,154.3 650.0,171.2 650.2,169.3 650.5,190.8 650.8,184.7 651.0,182.5 651.2,186.2 651.5,154.9 651.8,153.8 652.0,185.8 652.2,182.3 652.5,187.8 652.8,154.3 653.0,169.1 653.2,188.7 653.5,154.3 653.8,156.3 654.0,158.3 654.2,188.6 654.5,158.3 654.8,153.1 655.0,156.9 655.2,183.2 655.5,184.6 655.8,188.6 656.0,181.8 656.2,189.3 656.5,170.2 656.8,154.9 657.0,152.6 657.2,154.8 657.5,184.0 657.8,189.8 658.0,186.1 658.2,162.1 658.5,159.4 658.8,157.0 659.0,152.2 659.2,158.7 659.5,153.9 659.8,152.9 660.0,156.6 660.2,152.6 660.5,170.8 660.8,157.5 661.0,187.5 661.2,186.6 661.5,152.5 661.8,182.4 662.0,182.8 662.2,187.1 662.5,159.4 662.8,190.5 663.0,153.0 663.2,183.4 663.5,159.8 663.8,155.2 664.0,153.2 664.2,183.2 664.5,153.4 664.8,154.5 665.0,153.7 665.2,189.7 665.5,186.0 665.8,153.8 666.0,160.6 666.2,189.6 666.5,165.8 666.8,154.3 667.0,185.0 667.2,157.3 667.5,187.8 667.8,190.1 668.0,184.5 668.2,191.3 668.5,157.3 668.8,159.2 669.0,187.2 669.2,190.9 669.5,182.8 669.8,158.6 670.0,162.2 670.2,185.3 670.5,187.7 670.8,184.6 671.0,187.4 671.2,170.4 671.5,172.4 671.8,184.8 672.0,190.0 672.2,186.7 672.5,187.3 672.8,154.2 673.0,189.4 673.2,156.4 673.5,169.1 673.8,185.2 674.0,159.3 674.2,191.8 674.5,158.4 674.8,188.3 675.0,157.6 675.2,170.9 675.5,160.5 675.8,189.9 676.0,157.6 676.2,191.2 676.5,167.4 676.8,190.6 677.0,187.1 677.2,158.8 677.5,153.8 677.8,159.4 678.0,188.5" fill="none" stroke="#dc4848" stroke-width="1.0" stroke-linejoin="miter"/><polyline points="370.0,237.5 370.2,237.5 370.5,237.5 370.8,237.5 371.0,237.5 371.2,237.5 371.5,237.5 371.8,237.5 372.0,237.5 372.2,237.5 372.5,237.5 372.8,237.5 373.0,237.5 373.2,237.5 373.5,237.5 373.8,237.5 374.0,237.5 374.2,237.5 374.5,237.5 374.8,237.5 375.0,237.5 375.2,237.5 375.5,237.5 375.8,237.5 376.0,237.5 376.2,237.5 376.5,237.5 376.8,237.5 377.0,237.5 377.2,237.5 377.5,237.5 377.8,237.5 378.0,237.5 378.2,237.5 378.5,237.5 378.8,237.5 379.0,237.5 379.2,237.5 379.5,237.5 379.8,237.5 380.0,237.5 380.2,237.5 380.5,237.5 380.8,237.5 381.0,237.5 381.2,237.5 381.5,237.5 381.8,237.5 382.0,237.5 382.2,237.5 382.5,237.5 382.8,237.5 383.0,237.5 383.2,237.5 383.5,237.5 383.8,237.5 384.0,237.5 384.2,237.5 384.5,237.5 384.8,237.5 385.0,237.5 385.2,237.5 385.5,237.5 385.8,237.5 386.0,237.5 386.2,237.5 386.5,237.5 386.8,237.5 387.0,237.5 387.2,237.5 387.5,237.5 387.8,237.5 388.0,237.5 388.2,237.5 388.5,237.5 388.8,237.5 389.0,237.5 389.2,237.5 389.5,237.5 389.8,237.5 390.0,237.5 390.2,237.5 390.5,237.5 390.8,237.5 391.0,237.5 391.2,237.5 391.5,237.5 391.8,237.5 392.0,237.5 392.2,237.5 392.5,237.5 392.8,237.5 393.0,237.5 393.2,237.5 393.5,237.5 393.8,237.5 394.0,237.5 394.2,237.5 394.5,237.5 394.8,237.5 395.0,237.5 395.2,237.5 395.5,237.5 395.8,237.5 396.0,237.5 396.2,237.5 396.5,237.5 396.8,237.5 397.0,237.5 397.2,237.5 397.5,237.5 397.8,237.5 398.0,237.5 398.2,237.5 398.5,237.5 398.8,237.5 399.0,237.5 399.2,237.5 399.5,237.5 399.8,237.5 400.0,237.5 400.2,237.5 400.5,237.5 400.8,237.5 401.0,237.5 401.2,237.5 401.5,237.5 401.8,237.5 402.0,237.5 402.2,237.5 402.5,237.5 402.8,237.5 403.0,237.5 403.2,237.5 403.5,237.5 403.8,237.5 404.0,237.5 404.2,237.5 404.5,237.5 404.8,237.5 405.0,237.5 405.2,237.5 405.5,237.5 405.8,237.5 406.0,237.5 406.2,237.5 406.5,237.5 406.8,237.5 407.0,237.5 407.2,237.5 407.5,237.5 407.8,237.5 408.0,237.5 408.2,237.5 408.5,237.5 408.8,237.5 409.0,237.5 409.2,237.5 409.5,237.5 409.8,237.5 410.0,237.5 410.2,237.5 410.5,237.5 410.8,237.5 411.0,237.5 411.2,237.5 411.5,237.5 411.8,237.5 412.0,237.5 412.2,237.5 412.5,237.5 412.8,237.5 413.0,237.5 413.2,237.5 413.5,237.5 413.8,237.5 414.0,237.5 414.2,237.5 414.5,237.5 414.8,237.5 415.0,237.5 415.2,237.5 415.5,237.5 415.8,237.5 416.0,237.5 416.2,237.5 416.5,237.5 416.8,237.5 417.0,237.5 417.2,237.5 417.5,237.5 417.8,237.5 418.0,237.5 418.2,237.5 418.5,237.5 418.8,237.5 419.0,237.5 419.2,237.5 419.5,237.5 419.8,237.5 420.0,237.5 420.2,237.5 420.5,237.5 420.8,237.5 421.0,237.5 421.2,237.5 421.5,237.5 421.8,237.5 422.0,237.5 422.2,237.5 422.5,237.5 422.8,237.5 423.0,237.5 423.2,237.5 423.5,237.5 423.8,237.5 424.0,237.5 424.2,237.5 424.5,237.5 424.8,237.5 425.0,237.5 425.2,237.5 425.5,237.5 425.8,237.5 426.0,237.5 426.2,237.5 426.5,237.5 426.8,237.5 427.0,237.5 427.2,237.5 427.5,237.5 427.8,237.5 428.0,237.5 428.2,237.5 428.5,237.5 428.8,237.5 429.0,237.5 429.2,237.5 429.5,237.5 429.8,237.5 430.0,237.5 430.2,237.5 430.5,237.5 430.8,237.5 431.0,237.5 431.2,237.5 431.5,237.5 431.8,237.5 432.0,237.5 432.2,237.5 432.5,237.5 432.8,237.5 433.0,237.5 433.2,237.5 433.5,237.5 433.8,237.5 434.0,237.5 434.2,237.5 434.5,237.5 434.8,237.5 435.0,237.5 435.2,237.5 435.5,237.5 435.8,237.5 436.0,237.5 436.2,237.5 436.5,237.5 436.8,237.5 437.0,237.5 437.2,237.5 437.5,237.5 437.8,237.5 438.0,237.5 438.2,237.5 438.5,237.5 438.8,237.5 439.0,237.5 439.2,237.5 439.5,237.5 439.8,237.5 440.0,237.5 440.2,237.5 440.5,237.5 440.8,237.5 441.0,237.5 441.2,237.5 441.5,237.5 441.8,237.5 442.0,237.5 442.2,237.5 442.5,237.5 442.8,237.5 443.0,237.5 443.2,237.5 443.5,237.5 443.8,237.5 444.0,237.5 444.2,236.8 444.5,234.3 444.8,233.8 445.0,234.0 445.2,231.9 445.5,231.1 445.8,230.7 446.0,230.9 446.2,236.4 446.5,231.2 446.8,231.4 447.0,231.2 447.2,233.0 447.5,230.1 447.8,235.7 448.0,231.1 448.2,229.8 448.5,229.7 448.8,229.5 449.0,229.4 449.2,229.3 449.5,232.0 449.8,229.1 450.0,235.5 450.2,229.3 450.5,228.8 450.8,230.2 451.0,229.3 451.2,232.9 451.5,237.1 451.8,230.9 452.0,229.0 452.2,232.5 452.5,229.0 452.8,227.9 453.0,231.8 453.2,228.5 453.5,226.8 453.8,230.1 454.0,236.3 454.2,227.4 454.5,229.0 454.8,228.1 455.0,227.0 455.2,227.6 455.5,231.4 455.8,227.1 456.0,226.9 456.2,229.8 456.5,235.6 456.8,227.0 457.0,231.5 457.2,229.0 457.5,226.4 457.8,234.8 458.0,226.3 458.2,234.9 458.5,225.6 458.8,225.8 459.0,226.3 459.2,235.3 459.5,226.7 459.8,225.4 460.0,225.3 460.2,224.9 460.5,224.8 460.8,226.2 461.0,224.5 461.2,236.6 461.5,224.3 461.8,227.9 462.0,230.1 462.2,222.3 462.5,224.9 462.8,228.3 463.0,229.1 463.2,223.4 463.5,235.9 463.8,223.7 464.0,224.7 464.2,226.5 464.5,226.1 464.8,226.8 465.0,223.0 465.2,222.8 465.5,222.3 465.8,222.1 466.0,235.9 466.2,223.0 466.5,234.6 466.8,225.1 467.0,228.8 467.2,225.9 467.5,221.3 467.8,221.2 468.0,226.6 468.2,223.2 468.5,220.8 468.8,227.6 469.0,223.8 469.2,220.0 469.5,225.0 469.8,233.6 470.0,228.1 470.2,224.9 470.5,222.6 470.8,220.0 471.0,237.2 471.2,225.5 471.5,222.6 471.8,219.6 472.0,237.4 472.2,218.7 472.5,219.5 472.8,218.4 473.0,218.2 473.2,220.7 473.5,222.1 473.8,220.7 474.0,235.2 474.2,224.2 474.5,217.6 474.8,217.2 475.0,217.0 475.2,218.0 475.5,233.5 475.8,233.4 476.0,216.4 476.2,224.3 476.5,216.1 476.8,223.4 477.0,214.6 477.2,236.5 477.5,215.6 477.8,213.6 478.0,216.6 478.2,231.9 478.5,225.6 478.8,220.2 479.0,217.5 479.2,224.8 479.5,215.8 479.8,219.4 480.0,214.0 480.2,235.4 480.5,219.5 480.8,217.6 481.0,218.5 481.2,219.5 481.5,222.3 481.8,212.7 482.0,233.3 482.2,212.6 482.5,211.8 482.8,222.5 483.0,211.8 483.2,212.4 483.5,237.3 483.8,221.1 484.0,210.7 484.2,209.8 484.5,220.0 484.8,216.3 485.0,209.5 485.2,210.7 485.5,209.7 485.8,210.8 486.0,215.3 486.2,229.4 486.5,215.5 486.8,209.5 487.0,207.7 487.2,207.5 487.5,216.7 487.8,226.4 488.0,224.6 488.2,215.2 488.5,206.4 488.8,206.3 489.0,207.2 489.2,211.0 489.5,208.9 489.8,207.7 490.0,219.0 490.2,200.6 490.5,208.4 490.8,204.5 491.0,215.0 491.2,213.6 491.5,214.5 491.8,205.8 492.0,212.3 492.2,204.8 492.5,211.1 492.8,197.4 493.0,210.3 493.2,210.4 493.5,201.8 493.8,201.3 494.0,203.7 494.2,200.8 494.5,203.0 494.8,205.2 495.0,210.4 495.2,210.5 495.5,209.0 495.8,199.3 496.0,201.5 496.2,198.8 496.5,199.6 496.8,194.4 497.0,209.0 497.2,207.5 497.5,208.2 497.8,208.1 498.0,206.7 498.2,207.2 498.5,200.1 498.8,200.7 499.0,196.3 499.2,206.7 499.5,195.7 499.8,192.1 500.0,205.3 500.2,194.8 500.5,205.4 500.8,206.4 501.0,203.9 501.2,204.1 501.5,205.3 501.8,203.3 502.0,192.0 502.2,204.2 502.5,203.2 502.8,191.0 503.0,203.9 503.2,201.3 503.5,190.2 503.8,190.6 504.0,203.1 504.2,190.8 504.5,199.5 504.8,202.2 505.0,189.1 505.2,191.9 505.5,201.1 505.8,199.6 506.0,188.0 506.2,201.2 506.5,189.5 506.8,200.3 507.0,190.5 507.2,199.1 507.5,184.1 507.8,184.6 508.0,184.5 508.2,199.0 508.5,185.2 508.8,195.3 509.0,182.5 509.2,182.1 509.5,189.0 509.8,196.6 510.0,193.6 510.2,183.5 510.5,182.7 510.8,181.1 511.0,193.4 511.2,190.1 511.5,189.8 511.8,181.9 512.0,173.3 512.2,173.9 512.5,172.0 512.8,174.0 513.0,170.1 513.2,185.4 513.5,185.4 513.8,167.9 514.0,185.7 514.2,170.6 514.5,184.7 514.8,164.7 515.0,173.7 515.2,184.3 515.5,161.9 515.8,180.8 516.0,181.1 516.2,158.9 516.5,157.6 516.8,156.3 517.0,177.5 517.2,173.5 517.5,172.0 517.8,151.3 518.0,170.5 518.2,171.4 518.5,145.1 518.8,167.1 519.0,152.9 519.2,166.8 519.5,166.4 519.8,165.0 520.0,168.2 520.2,153.5 520.5,165.5 520.8,138.0 521.0,163.4 521.2,134.9 521.5,162.6 521.8,137.6 522.0,138.7 522.2,155.3 522.5,139.9 522.8,153.7 523.0,136.1 523.2,157.1 523.5,153.1 523.8,149.6 524.0,139.8 524.2,123.1 524.5,122.0 524.8,118.6 525.0,115.3 525.2,98.6 525.5,109.2 525.8,144.3 526.0,144.9 526.2,81.1 526.5,90.5 526.8,138.5 527.0,134.1 527.2,94.8 527.5,128.7 527.8,132.9 528.0,129.9 528.2,93.1 528.5,126.6 528.8,104.2 529.0,130.4 529.2,127.3 529.5,65.2 529.8,63.4 530.0,126.0 530.2,92.3 530.5,60.1 530.8,122.1 531.0,123.2 531.2,121.7 531.5,75.1 531.8,57.7 532.0,131.8 532.2,57.8 532.5,116.0 532.8,59.0 533.0,67.5 533.2,118.9 533.5,40.5 533.8,42.3 534.0,40.9 534.2,51.7 534.5,122.6 534.8,112.6 535.0,52.2 535.2,51.3 535.5,45.6 535.8,106.1 536.0,34.4 536.2,41.5 536.5,109.4 536.8,30.8 537.0,23.0 537.2,121.7 537.5,31.8 537.8,102.0 538.0,41.4 538.2,34.3 538.5,44.5 538.8,117.9 539.0,39.0 539.2,57.4 539.5,127.0 539.8,122.4 540.0,53.4 540.2,62.2 540.5,116.0 540.8,43.8 541.0,75.8 541.2,112.1 541.5,43.7 541.8,49.5 542.0,50.0 542.2,53.4 542.5,122.1 542.8,68.2 543.0,118.5 543.2,134.2 543.5,126.3 543.8,127.9 544.0,131.3 544.2,65.4 544.5,132.5 544.8,82.9 545.0,92.3 545.2,140.9 545.5,136.8 545.8,78.1 546.0,87.0 546.2,141.0 546.5,136.9 546.8,105.3 547.0,143.4 547.2,89.9 547.5,95.1 547.8,144.8 548.0,148.5 548.2,79.6 548.5,95.1 548.8,105.2 549.0,151.6 549.2,125.4 549.5,108.1 549.8,147.4 550.0,150.6 550.2,130.3 550.5,115.5 550.8,148.5 551.0,126.9 551.2,131.3 551.5,150.4 551.8,127.1 552.0,151.4 552.2,121.6 552.5,122.4 552.8,135.7 553.0,136.9 553.2,125.0 553.5,151.3 553.8,156.2 554.0,127.6 554.2,131.3 554.5,154.6 554.8,121.2 555.0,131.3 555.2,138.4 555.5,163.9 555.8,158.8 556.0,134.5 556.2,160.4 556.5,164.6 556.8,166.3 557.0,162.1 557.2,166.8 557.5,162.0 557.8,148.4 558.0,165.8 558.2,169.4 558.5,166.9 558.8,168.3 559.0,142.3 559.2,165.8 559.5,136.2 559.8,166.8 560.0,155.0 560.2,147.1 560.5,167.6 560.8,146.1 561.0,147.5 561.2,168.5 561.5,155.5 561.8,172.1 562.0,149.1 562.2,172.5 562.5,173.0 562.8,174.7 563.0,151.4 563.2,174.9 563.5,175.4 563.8,173.5 564.0,178.1 564.2,154.9 564.5,174.2 564.8,154.9 565.0,158.1 565.2,165.8 565.5,178.8 565.8,176.5 566.0,154.0 566.2,178.9 566.5,177.8 566.8,165.2 567.0,181.2 567.2,178.6 567.5,162.2 567.8,171.2 568.0,178.7 568.2,172.2 568.5,164.4 568.8,162.0 569.0,168.9 569.2,163.0 569.5,163.6 569.8,174.2 570.0,184.3 570.2,168.9 570.5,185.6 570.8,187.3 571.0,168.2 571.2,183.5 571.5,167.2 571.8,184.7 572.0,183.9 572.2,188.2 572.5,170.9 572.8,169.6 573.0,188.4 573.2,189.9 573.5,170.5 573.8,173.7 574.0,172.4 574.2,173.7 574.5,187.4 574.8,191.0 575.0,180.0 575.2,187.5 575.5,173.7 575.8,175.6 576.0,173.3 576.2,176.1 576.5,174.1 576.8,191.1 577.0,182.3 577.2,178.1 577.5,193.5 577.8,175.2 578.0,191.4 578.2,191.9 578.5,178.8 578.8,193.7 579.0,184.4 579.2,191.2 579.5,194.3 579.8,192.9 580.0,193.9 580.2,192.8 580.5,195.1 580.8,194.5 581.0,196.0 581.2,178.9 581.5,195.4 581.8,181.6 582.0,193.8 582.2,180.7 582.5,194.0 582.8,195.4 583.0,185.4 583.2,181.1 583.5,182.2 583.8,197.7 584.0,182.0 584.2,188.6 584.5,197.8 584.8,184.4 585.0,183.5 585.2,185.7 585.5,198.0 585.8,198.8 586.0,198.2 586.2,184.2 586.5,198.3 586.8,197.1 587.0,200.0 587.2,184.8 587.5,189.7 587.8,185.0 588.0,199.3 588.2,200.6 588.5,189.4 588.8,200.7 589.0,185.7 589.2,198.5 589.5,186.3 589.8,201.4 590.0,187.4 590.2,200.2 590.5,187.2 590.8,186.9 591.0,199.1 591.2,199.7 591.5,202.3 591.8,201.8 592.0,199.8 592.2,185.7 592.5,200.7 592.8,202.9 593.0,199.8 593.2,192.0 593.5,200.4 593.8,189.4 594.0,191.6 594.2,191.5 594.5,192.5 594.8,200.4 595.0,192.5 595.2,201.0 595.5,192.4 595.8,191.5 596.0,191.8 596.2,193.5 596.5,188.8 596.8,204.1 597.0,204.4 597.2,191.3 597.5,191.4 597.8,204.6 598.0,192.1 598.2,203.7 598.5,197.0 598.8,193.2 599.0,203.6 599.2,192.5 599.5,204.1 599.8,196.4 600.0,204.0 600.2,194.3 600.5,204.6 600.8,194.3 601.0,204.0 601.2,193.2 601.5,194.9 601.8,193.4 602.0,193.5 602.2,205.3 602.5,205.1 602.8,193.4 603.0,195.2 603.2,193.5 603.5,194.1 603.8,193.6 604.0,206.8 604.2,203.8 604.5,206.1 604.8,194.7 605.0,205.8 605.2,200.2 605.5,194.3 605.8,193.9 606.0,199.8 606.2,205.0 606.5,194.1 606.8,194.9 607.0,206.3 607.2,196.4 607.5,193.8 607.8,196.7 608.0,197.7 608.2,191.0 608.5,204.3 608.8,195.0 609.0,206.1 609.2,204.7 609.5,204.8 609.8,205.1 610.0,194.5 610.2,196.2 610.5,206.9 610.8,205.5 611.0,204.9 611.2,196.2 611.5,206.4 611.8,206.3 612.0,206.7 612.2,197.6 612.5,205.2 612.8,204.5 613.0,206.1 613.2,206.9 613.5,195.6 613.8,206.7 614.0,206.0 614.2,199.2 614.5,206.1 614.8,204.9 615.0,195.7 615.2,194.4 615.5,189.7 615.8,195.3 616.0,198.5 616.2,207.2 616.5,207.0 616.8,208.0 617.0,195.3 617.2,208.1 617.5,208.1 617.8,197.3 618.0,207.8 618.2,207.8 618.5,199.4 618.8,195.5 619.0,207.0 619.2,206.8 619.5,195.6 619.8,205.8 620.0,196.7 620.2,196.1 620.5,199.0 620.8,207.1 621.0,199.9 621.2,198.3 621.5,207.1 621.8,198.0 622.0,206.1 622.2,205.7 622.5,207.1 622.8,199.2 623.0,205.7 623.2,207.7 623.5,208.3 623.8,199.3 624.0,207.3 624.2,197.3 624.5,208.4 624.8,207.0 625.0,202.5 625.2,198.6 625.5,191.2 625.8,209.0 626.0,208.5 626.2,197.2 626.5,198.5 626.8,206.9 627.0,209.3 627.2,207.2 627.5,203.0 627.8,206.5 628.0,207.6 628.2,207.8 628.5,202.3 628.8,198.7 629.0,197.9 629.2,202.0 629.5,199.3 629.8,207.2 630.0,201.1 630.2,197.0 630.5,206.7 630.8,197.0 631.0,206.7 631.2,208.3 631.5,208.2 631.8,207.7 632.0,197.0 632.2,209.0 632.5,199.6 632.8,206.8 633.0,200.2 633.2,208.8 633.5,207.4 633.8,199.8 634.0,199.0 634.2,207.6 634.5,201.6 634.8,199.6 635.0,209.3 635.2,207.8 635.5,207.1 635.8,193.6 636.0,197.4 636.2,197.3 636.5,199.7 636.8,208.9 637.0,197.3 637.2,209.3 637.5,200.3 637.8,208.4 638.0,209.2 638.2,202.3 638.5,208.9 638.8,197.0 639.0,208.8 639.2,197.1 639.5,197.7 639.8,209.2 640.0,202.8 640.2,209.7 640.5,197.1 640.8,196.9 641.0,197.9 641.2,199.1 641.5,196.9 641.8,197.0 642.0,207.6 642.2,197.1 642.5,197.1 642.8,198.9 643.0,208.6 643.2,206.7 643.5,197.4 643.8,208.3 644.0,203.2 644.2,206.8 644.5,208.3 644.8,197.3 645.0,197.0 645.2,196.9 645.5,207.2 645.8,197.4 646.0,199.2 646.2,197.0 646.5,201.4 646.8,207.4 647.0,197.3 647.2,209.0 647.5,197.1 647.8,208.0 648.0,195.7 648.2,207.5 648.5,201.5 648.8,193.2 649.0,209.6 649.2,196.9 649.5,208.4 649.8,209.6 650.0,198.0 650.2,199.6 650.5,198.3 650.8,197.0 651.0,206.8 651.2,196.9 651.5,201.4 651.8,209.4 652.0,197.0 652.2,197.5 652.5,202.1 652.8,209.2 653.0,207.3 653.2,199.5 653.5,196.9 653.8,197.8 654.0,197.3 654.2,197.0 654.5,196.8 654.8,209.0 655.0,209.2 655.2,208.3 655.5,208.6 655.8,196.8 656.0,209.8 656.2,208.2 656.5,197.2 656.8,208.4 657.0,209.6 657.2,197.8 657.5,202.7 657.8,202.1 658.0,197.1 658.2,197.3 658.5,208.2 658.8,208.8 659.0,196.8 659.2,196.9 659.5,208.6 659.8,203.3 660.0,208.5 660.2,203.1 660.5,197.3 660.8,197.9 661.0,197.0 661.2,201.9 661.5,199.4 661.8,196.8 662.0,209.3 662.2,209.6 662.5,208.8 662.8,196.9 663.0,207.5 663.2,208.3 663.5,208.7 663.8,209.7 664.0,206.8 664.2,207.9 664.5,208.6 664.8,200.4 665.0,208.2 665.2,207.1 665.5,206.8 665.8,209.9 666.0,197.4 666.2,208.5 666.5,208.2 666.8,196.8 667.0,206.7 667.2,201.6 667.5,198.9 667.8,209.2 668.0,196.9 668.2,208.6 668.5,196.6 668.8,208.1 669.0,200.1 669.2,196.9 669.5,198.2 669.8,198.0 670.0,197.1 670.2,198.6 670.5,196.9 670.8,199.6 671.0,195.0 671.2,196.9 671.5,210.0 671.8,203.3 672.0,207.6 672.2,199.1 672.5,202.9 672.8,208.3 673.0,207.6 673.2,196.7 673.5,209.8 673.8,200.1 674.0,208.8 674.2,208.4 674.5,202.2 674.8,197.2 675.0,209.3 675.2,196.7 675.5,209.2 675.8,210.0 676.0,209.4 676.2,209.6 676.5,198.2 676.8,209.9 677.0,209.7 677.2,207.3 677.5,197.1 677.8,198.7 678.0,200.4" fill="none" stroke="#a8306e" stroke-width="1.0" stroke-linejoin="miter"/><polyline points="370.0,237.5 370.2,237.5 370.5,237.5 370.8,237.5 371.0,237.5 371.2,237.5 371.5,237.5 371.8,237.5 372.0,237.5 372.2,237.5 372.5,237.5 372.8,237.5 373.0,237.5 373.2,237.5 373.5,237.5 373.8,237.5 374.0,237.5 374.2,237.5 374.5,237.5 374.8,237.5 375.0,237.5 375.2,237.5 375.5,237.5 375.8,237.5 376.0,237.5 376.2,237.5 376.5,237.5 376.8,237.5 377.0,237.5 377.2,237.5 377.5,237.5 377.8,237.5 378.0,237.5 378.2,237.5 378.5,237.5 378.8,237.5 379.0,237.5 379.2,237.5 379.5,237.5 379.8,237.5 380.0,237.5 380.2,237.5 380.5,237.5 380.8,237.5 381.0,237.5 381.2,237.5 381.5,237.5 381.8,237.5 382.0,237.5 382.2,237.5 382.5,237.5 382.8,237.5 383.0,237.5 383.2,237.5 383.5,237.5 383.8,237.5 384.0,237.5 384.2,237.5 384.5,237.5 384.8,237.5 385.0,237.5 385.2,237.5 385.5,237.5 385.8,237.5 386.0,237.5 386.2,237.5 386.5,237.5 386.8,237.5 387.0,237.5 387.2,237.5 387.5,237.5 387.8,237.5 388.0,237.5 388.2,237.5 388.5,237.5 388.8,237.5 389.0,237.5 389.2,237.5 389.5,237.5 389.8,237.5 390.0,237.5 390.2,237.5 390.5,237.5 390.8,237.5 391.0,237.5 391.2,237.5 391.5,237.5 391.8,237.5 392.0,237.5 392.2,237.5 392.5,237.5 392.8,237.5 393.0,237.5 393.2,237.5 393.5,237.5 393.8,237.5 394.0,237.5 394.2,237.5 394.5,237.5 394.8,237.5 395.0,237.5 395.2,237.5 395.5,237.5 395.8,237.5 396.0,237.5 396.2,237.5 396.5,237.5 396.8,237.5 397.0,237.5 397.2,237.5 397.5,237.5 397.8,237.5 398.0,237.5 398.2,237.5 398.5,237.5 398.8,237.5 399.0,237.5 399.2,237.5 399.5,237.5 399.8,237.5 400.0,237.5 400.2,237.5 400.5,237.5 400.8,237.5 401.0,237.5 401.2,237.5 401.5,237.5 401.8,237.5 402.0,237.5 402.2,237.5 402.5,237.5 402.8,237.5 403.0,237.5 403.2,237.5 403.5,237.5 403.8,237.5 404.0,237.5 404.2,237.5 404.5,237.5 404.8,237.5 405.0,237.5 405.2,237.5 405.5,237.5 405.8,237.5 406.0,237.5 406.2,237.5 406.5,237.5 406.8,237.5 407.0,237.5 407.2,237.5 407.5,237.5 407.8,237.5 408.0,237.5 408.2,237.5 408.5,237.5 408.8,237.5 409.0,237.5 409.2,237.5 409.5,237.5 409.8,237.5 410.0,237.5 410.2,237.5 410.5,237.5 410.8,237.5 411.0,237.5 411.2,237.5 411.5,237.5 411.8,237.5 412.0,237.5 412.2,237.5 412.5,237.5 412.8,237.5 413.0,237.5 413.2,237.5 413.5,237.5 413.8,237.5 414.0,237.5 414.2,237.5 414.5,237.5 414.8,237.5 415.0,237.5 415.2,237.5 415.5,237.5 415.8,237.5 416.0,237.5 416.2,237.5 416.5,237.5 416.8,237.5 417.0,237.5 417.2,237.5 417.5,237.5 417.8,237.5 418.0,237.5 418.2,237.5 418.5,237.5 418.8,237.5 419.0,237.5 419.2,237.5 419.5,237.5 419.8,237.5 420.0,237.5 420.2,237.5 420.5,237.5 420.8,237.5 421.0,237.5 421.2,237.5 421.5,237.5 421.8,237.5 422.0,237.5 422.2,237.5 422.5,237.5 422.8,237.5 423.0,237.5 423.2,237.5 423.5,237.5 423.8,237.5 424.0,237.5 424.2,237.5 424.5,237.5 424.8,237.5 425.0,237.5 425.2,237.5 425.5,237.5 425.8,237.5 426.0,237.5 426.2,237.5 426.5,237.5 426.8,237.5 427.0,237.5 427.2,237.5 427.5,237.5 427.8,237.5 428.0,237.5 428.2,237.5 428.5,237.5 428.8,237.5 429.0,237.5 429.2,237.5 429.5,237.5 429.8,237.5 430.0,237.5 430.2,237.5 430.5,237.5 430.8,237.5 431.0,237.5 431.2,237.5 431.5,237.5 431.8,237.5 432.0,237.5 432.2,237.5 432.5,237.5 432.8,237.5 433.0,237.5 433.2,237.5 433.5,237.5 433.8,237.5 434.0,237.5 434.2,237.5 434.5,237.5 434.8,237.5 435.0,237.5 435.2,237.5 435.5,237.5 435.8,237.5 436.0,237.5 436.2,237.5 436.5,237.5 436.8,237.5 437.0,237.5 437.2,237.5 437.5,237.5 437.8,237.5 438.0,237.5 438.2,237.5 438.5,237.5 438.8,237.5 439.0,237.5 439.2,237.5 439.5,237.5 439.8,237.5 440.0,237.5 440.2,236.6 440.5,234.9 440.8,233.7 441.0,233.1 441.2,231.9 441.5,231.9 441.8,232.3 442.0,233.1 442.2,231.7 442.5,233.9 442.8,236.9 443.0,231.9 443.2,232.0 443.5,231.6 443.8,231.4 444.0,231.7 444.2,236.6 444.5,232.1 444.8,231.8 445.0,231.2 445.2,230.5 445.5,233.6 445.8,233.3 446.0,236.7 446.2,233.7 446.5,232.5 446.8,231.3 447.0,230.8 447.2,232.0 447.5,236.3 447.8,230.7 448.0,232.1 448.2,232.2 448.5,236.7 448.8,231.0 449.0,232.2 449.2,230.2 449.5,230.2 449.8,233.3 450.0,230.9 450.2,232.2 450.5,230.0 450.8,236.1 451.0,232.5 451.2,231.1 451.5,236.7 451.8,230.1 452.0,229.8 452.2,229.7 452.5,233.0 452.8,232.7 453.0,232.9 453.2,229.4 453.5,230.2 453.8,229.8 454.0,230.0 454.2,232.5 454.5,235.7 454.8,229.1 455.0,231.4 455.2,235.9 455.5,231.2 455.8,236.8 456.0,229.3 456.2,228.9 456.5,231.5 456.8,230.4 457.0,235.1 457.2,231.5 457.5,234.6 457.8,231.6 458.0,231.0 458.2,233.4 458.5,229.9 458.8,231.2 459.0,233.3 459.2,228.7 459.5,228.6 459.8,232.9 460.0,232.9 460.2,232.2 460.5,228.5 460.8,232.6 461.0,232.1 461.2,229.9 461.5,229.6 461.8,228.8 462.0,228.3 462.2,229.8 462.5,231.3 462.8,230.7 463.0,231.4 463.2,228.3 463.5,231.0 463.8,229.3 464.0,231.2 464.2,230.8 464.5,228.5 464.8,228.8 465.0,228.3 465.2,230.8 465.5,226.9 465.8,230.6 466.0,230.7 466.2,231.0 466.5,227.9 466.8,231.1 467.0,228.1 467.2,227.8 467.5,227.8 467.8,230.9 468.0,228.3 468.2,230.9 468.5,230.3 468.8,230.6 469.0,230.4 469.2,230.2 469.5,230.2 469.8,230.8 470.0,227.8 470.2,230.7 470.5,227.5 470.8,230.7 471.0,227.5 471.2,227.5 471.5,230.6 471.8,230.6 472.0,228.0 472.2,230.5 472.5,230.3 472.8,230.4 473.0,227.2 473.2,228.5 473.5,229.8 473.8,227.1 474.0,230.4 474.2,227.1 474.5,230.2 474.8,227.0 475.0,228.2 475.2,229.5 475.5,226.9 475.8,228.3 476.0,226.9 476.2,229.4 476.5,226.9 476.8,226.7 477.0,227.9 477.2,229.3 477.5,229.3 477.8,227.9 478.0,229.9 478.2,229.1 478.5,227.9 478.8,224.5 479.0,229.4 479.2,227.1 479.5,227.4 479.8,226.4 480.0,229.2 480.2,229.1 480.5,228.9 480.8,228.9 481.0,226.6 481.2,229.0 481.5,225.5 481.8,229.1 482.0,228.4 482.2,229.0 482.5,228.3 482.8,228.2 483.0,225.8 483.2,228.7 483.5,225.0 483.8,225.9 484.0,225.4 484.2,228.6 484.5,225.5 484.8,224.8 485.0,224.7 485.2,225.1 485.5,224.7 485.8,227.8 486.0,224.5 486.2,224.4 486.5,228.2 486.8,225.7 487.0,227.6 487.2,227.5 487.5,225.2 487.8,225.2 488.0,228.0 488.2,227.4 488.5,226.8 488.8,227.0 489.0,226.1 489.2,226.8 489.5,226.1 489.8,225.6 490.0,223.0 490.2,225.0 490.5,225.2 490.8,225.0 491.0,220.6 491.2,221.6 491.5,219.5 491.8,223.8 492.0,220.3 492.2,220.4 492.5,218.4 492.8,218.6 493.0,219.5 493.2,217.4 493.5,222.7 493.8,221.2 494.0,216.8 494.2,222.0 494.5,221.5 494.8,221.1 495.0,215.0 495.2,220.6 495.5,217.2 495.8,214.0 496.0,219.2 496.2,218.5 496.5,217.6 496.8,217.6 497.0,218.2 497.2,210.2 497.5,217.4 497.8,216.9 498.0,208.8 498.2,208.3 498.5,207.6 498.8,214.9 499.0,210.7 499.2,206.1 499.5,206.9 499.8,208.0 500.0,211.7 500.2,212.8 500.5,212.6 500.8,210.4 501.0,202.2 501.2,202.4 501.5,210.5 501.8,203.0 502.0,200.2 502.2,207.9 502.5,199.3 502.8,206.8 503.0,197.8 503.2,207.2 503.5,196.8 503.8,197.2 504.0,195.7 504.2,205.3 504.5,203.5 504.8,194.7 505.0,203.4 505.2,203.3 505.5,192.5 505.8,192.7 506.0,202.4 506.2,200.2 506.5,193.5 506.8,199.6 507.0,200.6 507.2,199.2 507.5,199.4 507.8,188.9 508.0,190.6 508.2,183.9 508.5,198.9 508.8,185.0 509.0,184.8 509.2,196.5 509.5,183.3 509.8,187.2 510.0,182.5 510.2,185.6 510.5,193.8 510.8,181.3 511.0,183.2 511.2,183.7 511.5,191.5 511.8,174.6 512.0,173.1 512.2,183.7 512.5,185.7 512.8,170.0 513.0,180.1 513.2,179.6 513.5,176.6 513.8,175.8 514.0,173.5 514.2,155.9 514.5,155.0 514.8,170.4 515.0,153.7 515.2,147.9 515.5,164.3 515.8,163.2 516.0,152.0 516.2,141.8 516.5,162.8 516.8,159.8 517.0,133.1 517.2,140.5 517.5,154.7 517.8,155.0 518.0,157.4 518.2,124.8 518.5,124.7 518.8,115.9 519.0,145.8 519.2,111.0 519.5,99.2 519.8,141.4 520.0,102.3 520.2,110.1 520.5,84.9 520.8,111.3 521.0,72.1 521.2,90.6 521.5,107.8 521.8,83.2 522.0,131.0 522.2,130.8 522.5,124.0 522.8,77.1 523.0,70.0 523.2,96.5 523.5,69.8 523.8,119.7 524.0,59.3 524.2,75.8 524.5,114.2 524.8,108.0 525.0,112.0 525.2,105.6 525.5,100.6 525.8,56.4 526.0,49.6 526.2,108.0 526.5,52.7 526.8,100.9 527.0,28.3 527.2,37.1 527.5,73.7 527.8,56.8 528.0,42.2 528.2,94.1 528.5,36.4 528.8,47.5 529.0,35.8 529.2,104.0 529.5,100.7 529.8,31.6 530.0,23.0 530.2,35.7 530.5,39.3 530.8,45.3 531.0,40.1 531.2,39.2 531.5,106.9 531.8,58.5 532.0,59.5 532.2,101.4 532.5,105.1 532.8,103.6 533.0,95.9 533.2,99.6 533.5,50.9 533.8,110.0 534.0,55.1 534.2,57.6 534.5,121.9 534.8,113.0 535.0,68.0 535.2,120.7 535.5,70.2 535.8,74.1 536.0,120.4 536.2,91.9 536.5,129.3 536.8,126.1 537.0,87.5 537.2,97.6 537.5,90.9 537.8,133.2 538.0,106.9 538.2,140.2 538.5,112.3 538.8,142.0 539.0,119.3 539.2,124.2 539.5,122.6 539.8,124.0 540.0,148.8 540.2,116.9 540.5,112.5 540.8,154.5 541.0,135.0 541.2,152.5 541.5,155.9 541.8,155.7 542.0,141.6 542.2,161.0 542.5,160.4 542.8,161.4 543.0,159.7 543.2,165.1 543.5,152.7 543.8,146.4 544.0,149.2 544.2,169.4 544.5,170.6 544.8,157.0 545.0,155.7 545.2,146.2 545.5,158.8 545.8,153.7 546.0,174.3 546.2,173.2 546.5,175.5 546.8,158.1 547.0,173.7 547.2,168.0 547.5,175.6 547.8,160.4 548.0,160.7 548.2,180.3 548.5,177.5 548.8,163.1 549.0,182.6 549.2,164.8 549.5,183.0 549.8,185.1 550.0,184.8 550.2,185.9 550.5,187.3 550.8,187.4 551.0,172.7 551.2,186.9 551.5,172.0 551.8,174.6 552.0,189.7 552.2,176.2 552.5,189.9 552.8,178.4 553.0,177.0 553.2,178.5 553.5,192.3 553.8,183.5 554.0,195.9 554.2,192.9 554.5,183.3 554.8,196.7 555.0,183.6 555.2,196.8 555.5,183.7 555.8,197.6 556.0,196.3 556.2,198.3 556.5,185.2 556.8,192.9 557.0,188.4 557.2,186.7 557.5,192.0 557.8,187.0 558.0,187.4 558.2,200.2 558.5,189.3 558.8,200.3 559.0,200.0 559.2,191.5 559.5,189.9 559.8,202.4 560.0,193.8 560.2,190.6 560.5,195.0 560.8,202.3 561.0,194.8 561.2,205.1 561.5,192.8 561.8,204.9 562.0,203.2 562.2,203.7 562.5,193.9 562.8,194.3 563.0,194.9 563.2,206.3 563.5,206.6 563.8,205.3 564.0,205.9 564.2,207.8 564.5,208.3 564.8,207.7 565.0,199.5 565.2,207.3 565.5,198.7 565.8,209.4 566.0,208.2 566.2,201.8 566.5,209.4 566.8,210.8 567.0,200.9 567.2,202.8 567.5,211.0 567.8,210.3 568.0,211.4 568.2,208.8 568.5,201.5 568.8,205.6 569.0,209.2 569.2,205.9 569.5,202.4 569.8,210.5 570.0,201.5 570.2,210.3 570.5,202.0 570.8,206.4 571.0,205.7 571.2,209.9 571.5,201.8 571.8,210.5 572.0,202.1 572.2,202.3 572.5,203.6 572.8,203.8 573.0,212.1 573.2,211.8 573.5,203.6 573.8,203.2 574.0,211.0 574.2,203.3 574.5,213.0 574.8,204.5 575.0,211.4 575.2,207.0 575.5,206.7 575.8,205.8 576.0,204.9 576.2,211.9 576.5,206.1 576.8,205.5 577.0,212.3 577.2,209.3 577.5,212.9 577.8,206.7 578.0,213.0 578.2,205.1 578.5,205.3 578.8,207.0 579.0,207.0 579.2,207.1 579.5,206.3 579.8,215.5 580.0,208.0 580.2,209.7 580.5,213.6 580.8,214.3 581.0,206.6 581.2,214.2 581.5,215.5 581.8,213.9 582.0,206.8 582.2,215.6 582.5,211.1 582.8,209.6 583.0,214.8 583.2,206.7 583.5,208.5 583.8,215.5 584.0,216.1 584.2,215.7 584.5,207.0 584.8,216.1 585.0,216.3 585.2,215.7 585.5,209.7 585.8,216.4 586.0,207.2 586.2,214.8 586.5,216.4 586.8,214.7 587.0,211.1 587.2,216.7 587.5,214.8 587.8,210.7 588.0,208.0 588.2,216.1 588.5,209.5 588.8,215.8 589.0,207.9 589.2,208.8 589.5,216.5 589.8,215.5 590.0,208.0 590.2,210.0 590.5,215.2 590.8,216.2 591.0,216.1 591.2,208.3 591.5,217.2 591.8,216.1 592.0,216.5 592.2,208.5 592.5,215.8 592.8,216.8 593.0,210.7 593.2,216.5 593.5,206.0 593.8,217.1 594.0,210.4 594.2,209.1 594.5,217.4 594.8,217.5 595.0,209.8 595.2,209.1 595.5,212.4 595.8,215.9 596.0,212.2 596.2,217.2 596.5,216.2 596.8,212.6 597.0,213.0 597.2,217.8 597.5,210.6 597.8,216.6 598.0,216.4 598.2,217.8 598.5,210.7 598.8,218.3 599.0,211.7 599.2,210.7 599.5,213.0 599.8,217.0 600.0,218.6 600.2,213.5 600.5,218.0 600.8,217.0 601.0,217.6 601.2,206.1 601.5,218.6 601.8,218.6 602.0,211.1 602.2,213.4 602.5,217.7 602.8,218.3 603.0,218.7 603.2,210.5 603.5,216.9 603.8,210.6 604.0,212.7 604.2,213.1 604.5,210.2 604.8,218.2 605.0,211.9 605.2,216.9 605.5,211.0 605.8,214.1 606.0,210.7 606.2,218.0 606.5,214.5 606.8,207.8 607.0,216.9 607.2,218.8 607.5,210.6 607.8,212.7 608.0,210.5 608.2,213.5 608.5,211.0 608.8,211.9 609.0,217.9 609.2,210.5 609.5,214.5 609.8,217.4 610.0,211.8 610.2,210.9 610.5,210.8 610.8,219.2 611.0,212.5 611.2,217.7 611.5,218.2 611.8,217.9 612.0,218.3 612.2,214.5 612.5,217.8 612.8,218.2 613.0,217.9 613.2,210.9 613.5,217.5 613.8,217.8 614.0,218.1 614.2,210.7 614.5,218.3 614.8,211.4 615.0,213.5 615.2,218.2 615.5,214.4 615.8,219.4 616.0,214.9 616.2,217.4 616.5,211.5 616.8,219.4 617.0,213.8 617.2,214.8 617.5,211.8 617.8,209.9 618.0,219.1 618.2,212.0 618.5,219.2 618.8,218.3 619.0,211.0 619.2,217.7 619.5,212.7 619.8,219.3 620.0,212.4 620.2,211.5 620.5,217.5 620.8,217.6 621.0,213.3 621.2,219.3 621.5,218.7 621.8,211.2 622.0,212.1 622.2,217.7 622.5,218.5 622.8,218.3 623.0,214.3 623.2,211.6 623.5,211.2 623.8,211.3 624.0,218.8 624.2,218.0 624.5,213.0 624.8,213.9 625.0,211.5 625.2,211.4 625.5,219.1 625.8,218.3 626.0,218.7 626.2,218.7 626.5,213.4 626.8,213.6 627.0,218.3 627.2,210.7 627.5,218.8 627.8,218.2 628.0,219.9 628.2,211.4 628.5,211.6 628.8,214.8 629.0,219.9 629.2,219.2 629.5,213.7 629.8,218.9 630.0,218.8 630.2,219.1 630.5,218.6 630.8,214.3 631.0,219.8 631.2,218.3 631.5,219.8 631.8,212.7 632.0,219.0 632.2,219.7 632.5,220.0 632.8,218.2 633.0,212.7 633.2,211.7 633.5,218.5 633.8,219.0 634.0,218.3 634.2,213.9 634.5,215.0 634.8,219.0 635.0,214.4 635.2,212.1 635.5,211.8 635.8,212.5 636.0,215.9 636.2,219.0 636.5,215.0 636.8,211.9 637.0,213.9 637.2,212.6 637.5,220.0 637.8,212.6 638.0,212.1 638.2,219.4 638.5,210.5 638.8,216.1 639.0,213.9 639.2,219.5 639.5,212.1 639.8,219.4 640.0,215.2 640.2,212.5 640.5,218.6 640.8,212.4 641.0,218.8 641.2,219.8 641.5,212.0 641.8,212.2 642.0,212.1 642.2,220.4 642.5,219.7 642.8,219.9 643.0,213.0 643.2,215.1 643.5,219.3 643.8,218.6 644.0,212.1 644.2,219.3 644.5,213.1 644.8,213.9 645.0,220.2 645.2,212.8 645.5,212.0 645.8,212.0 646.0,220.1 646.2,215.8 646.5,212.7 646.8,214.5 647.0,219.6 647.2,214.2 647.5,219.2 647.8,214.7 648.0,214.0 648.2,213.0 648.5,212.1 648.8,220.6 649.0,215.0 649.2,212.3 649.5,216.2 649.8,212.0 650.0,219.5 650.2,218.6 650.5,212.0 650.8,213.2 651.0,213.4 651.2,212.2 651.5,214.2 651.8,219.4 652.0,213.0 652.2,220.6 652.5,220.1 652.8,214.1 653.0,213.0 653.2,214.0 653.5,212.3 653.8,220.2 654.0,219.3 654.2,212.0 654.5,220.3 654.8,219.2 655.0,213.3 655.2,213.6 655.5,220.6 655.8,220.6 656.0,212.0 656.2,216.0 656.5,212.0 656.8,216.0 657.0,220.1 657.2,215.5 657.5,213.6 657.8,220.4 658.0,220.3 658.2,212.0 658.5,220.3 658.8,213.3 659.0,212.1 659.2,219.8 659.5,212.1 659.8,215.1 660.0,213.9 660.2,220.7 660.5,212.9 660.8,212.0 661.0,214.0 661.2,219.3 661.5,219.6 661.8,214.6 662.0,212.1 662.2,213.6 662.5,212.3 662.8,212.8 663.0,219.2 663.2,212.6 663.5,212.7 663.8,213.1 664.0,213.9 664.2,213.9 664.5,219.0 664.8,219.7 665.0,215.2 665.2,220.0 665.5,216.3 665.8,212.2 666.0,212.0 666.2,216.2 666.5,218.6 666.8,213.0 667.0,219.5 667.2,213.0 667.5,214.7 667.8,216.0 668.0,213.5 668.2,220.7 668.5,212.3 668.8,214.9 669.0,214.6 669.2,213.1 669.5,212.3 669.8,220.3 670.0,219.0 670.2,219.8 670.5,212.2 670.8,219.4 671.0,219.4 671.2,219.8 671.5,218.6 671.8,220.7 672.0,214.9 672.2,219.4 672.5,220.5 672.8,219.8 673.0,219.8 673.2,219.5 673.5,219.1 673.8,220.3 674.0,218.9 674.2,212.8 674.5,213.3 674.8,214.7 675.0,215.8 675.2,220.8 675.5,219.4 675.8,220.9 676.0,212.0 676.2,212.1 676.5,214.0 676.8,215.9 677.0,219.2 677.2,211.8 677.5,220.3 677.8,213.1 678.0,216.3" fill="none" stroke="#6e1c82" stroke-width="1.0" stroke-linejoin="miter"/><polyline points="370.0,237.5 370.2,237.5 370.5,237.5 370.8,237.5 371.0,237.5 371.2,237.5 371.5,237.5 371.8,237.5 372.0,237.5 372.2,237.5 372.5,237.5 372.8,237.5 373.0,237.5 373.2,237.5 373.5,237.5 373.8,237.5 374.0,237.5 374.2,237.5 374.5,237.5 374.8,237.5 375.0,237.5 375.2,237.5 375.5,237.5 375.8,237.5 376.0,237.5 376.2,237.5 376.5,237.5 376.8,237.5 377.0,237.5 377.2,237.5 377.5,237.5 377.8,237.5 378.0,237.5 378.2,237.5 378.5,237.5 378.8,237.5 379.0,237.5 379.2,237.5 379.5,237.5 379.8,237.5 380.0,237.5 380.2,237.5 380.5,237.5 380.8,237.5 381.0,237.5 381.2,237.5 381.5,237.5 381.8,237.5 382.0,237.5 382.2,237.5 382.5,237.5 382.8,237.5 383.0,237.5 383.2,237.5 383.5,237.5 383.8,237.5 384.0,237.5 384.2,237.5 384.5,237.5 384.8,237.5 385.0,237.5 385.2,237.5 385.5,237.5 385.8,237.5 386.0,237.5 386.2,237.5 386.5,237.5 386.8,237.5 387.0,237.5 387.2,237.5 387.5,237.5 387.8,237.5 388.0,237.5 388.2,237.5 388.5,237.5 388.8,237.5 389.0,237.5 389.2,237.5 389.5,237.5 389.8,237.5 390.0,237.5 390.2,237.5 390.5,237.5 390.8,237.5 391.0,237.5 391.2,237.5 391.5,237.5 391.8,237.5 392.0,237.5 392.2,237.5 392.5,237.5 392.8,237.5 393.0,237.5 393.2,237.5 393.5,237.5 393.8,237.5 394.0,237.5 394.2,237.5 394.5,237.5 394.8,237.5 395.0,237.5 395.2,237.5 395.5,237.5 395.8,237.5 396.0,237.5 396.2,237.5 396.5,237.5 396.8,237.5 397.0,237.5 397.2,237.5 397.5,237.5 397.8,237.5 398.0,237.5 398.2,237.5 398.5,237.5 398.8,237.5 399.0,237.5 399.2,237.5 399.5,237.5 399.8,237.5 400.0,237.5 400.2,237.5 400.5,237.5 400.8,237.5 401.0,237.5 401.2,237.5 401.5,237.5 401.8,237.5 402.0,237.5 402.2,237.5 402.5,237.5 402.8,237.5 403.0,237.5 403.2,237.5 403.5,237.5 403.8,237.5 404.0,237.5 404.2,237.5 404.5,237.5 404.8,237.5 405.0,237.5 405.2,237.5 405.5,237.5 405.8,237.5 406.0,237.5 406.2,237.5 406.5,237.5 406.8,237.5 407.0,237.5 407.2,237.5 407.5,237.5 407.8,237.5 408.0,237.5 408.2,237.5 408.5,237.5 408.8,237.5 409.0,237.5 409.2,237.5 409.5,237.5 409.8,237.5 410.0,237.5 410.2,237.5 410.5,237.5 410.8,237.5 411.0,237.5 411.2,237.5 411.5,237.5 411.8,237.5 412.0,237.5 412.2,237.5 412.5,237.5 412.8,237.5 413.0,237.5 413.2,237.5 413.5,237.5 413.8,237.5 414.0,237.5 414.2,237.5 414.5,237.5 414.8,237.5 415.0,237.5 415.2,237.5 415.5,237.5 415.8,237.5 416.0,237.5 416.2,237.5 416.5,237.5 416.8,237.5 417.0,237.5 417.2,237.5 417.5,237.5 417.8,237.5 418.0,237.5 418.2,237.5 418.5,237.5 418.8,237.5 419.0,237.5 419.2,237.5 419.5,237.5 419.8,237.5 420.0,237.5 420.2,237.5 420.5,237.5 420.8,237.5 421.0,237.5 421.2,237.5 421.5,237.5 421.8,237.5 422.0,237.5 422.2,237.5 422.5,237.5 422.8,237.5 423.0,237.5 423.2,237.5 423.5,237.5 423.8,237.5 424.0,237.5 424.2,237.5 424.5,237.5 424.8,237.5 425.0,237.5 425.2,237.5 425.5,237.5 425.8,237.5 426.0,237.5 426.2,237.5 426.5,237.5 426.8,237.5 427.0,237.5 427.2,237.5 427.5,237.5 427.8,237.5 428.0,237.5 428.2,237.5 428.5,237.5 428.8,237.5 429.0,237.5 429.2,237.5 429.5,237.5 429.8,237.5 430.0,237.5 430.2,237.5 430.5,237.5 430.8,237.5 431.0,237.5 431.2,237.5 431.5,237.5 431.8,237.5 432.0,237.5 432.2,237.5 432.5,237.5 432.8,237.5 433.0,237.5 433.2,237.5 433.5,237.5 433.8,237.5 434.0,237.5 434.2,237.5 434.5,237.5 434.8,237.5 435.0,237.5 435.2,237.5 435.5,237.5 435.8,237.5 436.0,237.5 436.2,237.5 436.5,237.5 436.8,237.5 437.0,237.5 437.2,236.4 437.5,234.8 437.8,233.4 438.0,232.4 438.2,233.4 438.5,232.1 438.8,233.0 439.0,234.1 439.2,231.7 439.5,233.6 439.8,232.0 440.0,231.7 440.2,233.2 440.5,231.7 440.8,231.5 441.0,231.3 441.2,237.4 441.5,234.2 441.8,231.4 442.0,232.6 442.2,233.1 442.5,235.9 442.8,231.0 443.0,230.8 443.2,233.1 443.5,233.1 443.8,232.7 444.0,230.5 444.2,231.1 444.5,232.7 444.8,232.9 445.0,230.7 445.2,231.3 445.5,230.3 445.8,231.1 446.0,230.1 446.2,229.3 446.5,229.9 446.8,230.3 447.0,230.1 447.2,229.8 447.5,231.2 447.8,232.5 448.0,232.0 448.2,228.9 448.5,231.3 448.8,229.3 449.0,232.5 449.2,236.4 449.5,230.4 449.8,229.1 450.0,233.1 450.2,229.1 450.5,229.6 450.8,232.4 451.0,231.0 451.2,229.0 451.5,231.1 451.8,229.4 452.0,228.9 452.2,229.0 452.5,229.6 452.8,229.7 453.0,229.2 453.2,235.8 453.5,235.0 453.8,231.1 454.0,228.8 454.2,229.6 454.5,235.7 454.8,235.2 455.0,235.1 455.2,227.7 455.5,235.0 455.8,233.8 456.0,230.0 456.2,230.6 456.5,228.7 456.8,230.4 457.0,233.1 457.2,233.5 457.5,230.1 457.8,229.3 458.0,228.9 458.2,229.7 458.5,232.8 458.8,228.7 459.0,229.1 459.2,229.6 459.5,229.7 459.8,231.4 460.0,228.7 460.2,231.2 460.5,231.1 460.8,230.9 461.0,228.6 461.2,228.8 461.5,228.7 461.8,228.6 462.0,231.3 462.2,229.5 462.5,229.1 462.8,231.4 463.0,231.0 463.2,231.1 463.5,228.5 463.8,231.0 464.0,228.6 464.2,230.8 464.5,228.6 464.8,228.9 465.0,231.4 465.2,231.0 465.5,228.5 465.8,230.8 466.0,228.7 466.2,229.2 466.5,231.3 466.8,231.3 467.0,231.1 467.2,227.6 467.5,228.4 467.8,230.6 468.0,230.7 468.2,231.0 468.5,231.2 468.8,229.6 469.0,228.9 469.2,228.3 469.5,228.2 469.8,228.3 470.0,228.8 470.2,230.4 470.5,230.9 470.8,230.5 471.0,231.0 471.2,230.8 471.5,230.4 471.8,228.2 472.0,230.8 472.2,228.1 472.5,228.4 472.8,230.7 473.0,230.5 473.2,229.2 473.5,228.9 473.8,230.8 474.0,230.8 474.2,229.0 474.5,228.0 474.8,229.1 475.0,228.0 475.2,228.0 475.5,230.6 475.8,230.1 476.0,230.0 476.2,230.2 476.5,230.5 476.8,230.5 477.0,227.9 477.2,230.1 477.5,228.5 477.8,229.8 478.0,229.8 478.2,227.3 478.5,226.9 478.8,227.2 479.0,229.9 479.2,227.0 479.5,229.6 479.8,229.2 480.0,226.9 480.2,229.2 480.5,226.9 480.8,229.4 481.0,227.3 481.2,229.1 481.5,227.2 481.8,229.0 482.0,228.7 482.2,226.4 482.5,226.3 482.8,228.6 483.0,227.6 483.2,228.5 483.5,228.8 483.8,227.3 484.0,226.6 484.2,226.9 484.5,228.2 484.8,226.0 485.0,228.7 485.2,228.2 485.5,225.6 485.8,227.9 486.0,227.9 486.2,228.1 486.5,228.5 486.8,225.3 487.0,228.0 487.2,225.1 487.5,227.8 487.8,227.9 488.0,227.7 488.2,227.5 488.5,227.2 488.8,227.0 489.0,221.3 489.2,224.1 489.5,223.0 489.8,223.6 490.0,225.3 490.2,221.0 490.5,220.7 490.8,224.0 491.0,219.7 491.2,223.0 491.5,222.3 491.8,219.1 492.0,219.8 492.2,220.9 492.5,216.7 492.8,220.5 493.0,220.6 493.2,215.8 493.5,220.0 493.8,219.5 494.0,213.9 494.2,215.4 494.5,213.2 494.8,212.6 495.0,217.3 495.2,217.5 495.5,211.8 495.8,215.7 496.0,210.1 496.2,214.3 496.5,208.8 496.8,214.5 497.0,213.3 497.2,213.3 497.5,207.3 497.8,209.0 498.0,211.5 498.2,199.2 498.5,210.6 498.8,203.0 499.0,202.4 499.2,201.8 499.5,202.4 499.8,206.9 500.0,206.8 500.2,202.1 500.5,204.8 500.8,205.3 501.0,198.3 501.2,202.9 501.5,197.3 501.8,196.0 502.0,193.7 502.2,200.0 502.5,192.5 502.8,190.0 503.0,189.8 503.2,188.5 503.5,190.7 503.8,196.0 504.0,185.9 504.2,186.6 504.5,192.2 504.8,191.1 505.0,183.4 505.2,175.5 505.5,190.6 505.8,187.2 506.0,176.7 506.2,179.2 506.5,184.6 506.8,169.9 507.0,169.0 507.2,172.6 507.5,168.3 507.8,174.6 508.0,172.4 508.2,160.9 508.5,169.6 508.8,151.1 509.0,168.2 509.2,155.1 509.5,155.4 509.8,164.6 510.0,147.6 510.2,139.5 510.5,133.5 510.8,154.0 511.0,153.7 511.2,148.6 511.5,146.8 511.8,129.4 512.0,142.2 512.2,122.7 512.5,135.2 512.8,139.6 513.0,102.4 513.2,117.0 513.5,95.2 513.8,128.7 514.0,125.7 514.2,129.9 514.5,119.8 514.8,128.3 515.0,99.8 515.2,80.3 515.5,114.5 515.8,72.5 516.0,90.7 516.2,67.9 516.5,67.3 516.8,67.4 517.0,113.0 517.2,65.9 517.5,108.8 517.8,55.5 518.0,103.7 518.2,59.1 518.5,104.9 518.8,99.8 519.0,49.2 519.2,50.1 519.5,33.3 519.8,96.6 520.0,39.6 520.2,92.7 520.5,37.6 520.8,50.7 521.0,33.6 521.2,32.5 521.5,31.1 521.8,23.0 522.0,80.0 522.2,86.0 522.5,84.7 522.8,42.4 523.0,89.3 523.2,46.7 523.5,98.1 523.8,63.2 524.0,98.3 524.2,90.8 524.5,35.8 524.8,52.6 525.0,101.4 525.2,107.6 525.5,63.1 525.8,105.2 526.0,114.0 526.2,111.4 526.5,70.0 526.8,118.5 527.0,77.8 527.2,79.1 527.5,88.6 527.8,119.9 528.0,102.3 528.2,95.8 528.5,130.0 528.8,97.3 529.0,106.4 529.2,103.5 529.5,135.4 529.8,119.2 530.0,137.1 530.2,142.5 530.5,119.2 530.8,121.9 531.0,126.9 531.2,128.5 531.5,141.3 531.8,142.6 532.0,138.2 532.2,150.2 532.5,162.3 532.8,153.8 533.0,154.5 533.2,158.5 533.5,152.4 533.8,153.0 534.0,154.1 534.2,161.0 534.5,172.1 534.8,158.0 535.0,161.4 535.2,159.6 535.5,160.1 535.8,161.9 536.0,162.6 536.2,176.3 536.5,171.3 536.8,177.2 537.0,178.1 537.2,182.0 537.5,180.8 537.8,169.3 538.0,184.7 538.2,171.3 538.5,184.3 538.8,184.6 539.0,174.8 539.2,175.5 539.5,188.7 539.8,189.7 540.0,178.3 540.2,182.5 540.5,191.8 540.8,192.1 541.0,187.2 541.2,188.7 541.5,184.8 541.8,194.4 542.0,184.8 542.2,185.7 542.5,195.5 542.8,189.8 543.0,192.2 543.2,187.5 543.5,190.5 543.8,189.1 544.0,189.2 544.2,200.6 544.5,200.9 544.8,200.4 545.0,191.4 545.2,191.9 545.5,194.5 545.8,203.5 546.0,193.7 546.2,204.1 546.5,195.2 546.8,198.9 547.0,204.8 547.2,206.7 547.5,201.3 547.8,205.9 548.0,207.9 548.2,206.4 548.5,207.9 548.8,206.9 549.0,204.1 549.2,200.1 549.5,199.7 549.8,208.2 550.0,200.8 550.2,200.7 550.5,208.5 550.8,208.6 551.0,202.5 551.2,201.7 551.5,211.1 551.8,209.5 552.0,204.5 552.2,211.4 552.5,203.2 552.8,205.7 553.0,211.2 553.2,205.1 553.5,213.3 553.8,205.1 554.0,212.3 554.2,207.8 554.5,205.9 554.8,213.5 555.0,213.2 555.2,213.9 555.5,206.6 555.8,215.2 556.0,208.0 556.2,208.8 556.5,207.7 556.8,208.8 557.0,208.2 557.2,216.8 557.5,217.0 557.8,215.7 558.0,210.0 558.2,211.9 558.5,216.9 558.8,209.6 559.0,217.5 559.2,218.0 559.5,217.4 559.8,210.2 560.0,210.2 560.2,218.0 560.5,218.1 560.8,218.5 561.0,217.0 561.2,214.6 561.5,211.7 561.8,213.6 562.0,217.8 562.2,218.3 562.5,211.5 562.8,218.7 563.0,215.3 563.2,219.5 563.5,214.7 563.8,212.7 564.0,218.6 564.2,218.3 564.5,213.3 564.8,218.6 565.0,219.4 565.2,219.2 565.5,218.7 565.8,219.6 566.0,220.1 566.2,220.5 566.5,213.5 566.8,220.0 567.0,214.6 567.2,214.3 567.5,214.0 567.8,220.0 568.0,221.0 568.2,215.9 568.5,220.3 568.8,221.3 569.0,216.2 569.2,221.0 569.5,216.6 569.8,221.8 570.0,220.4 570.2,218.2 570.5,216.7 570.8,221.8 571.0,217.0 571.2,221.6 571.5,221.4 571.8,218.3 572.0,221.9 572.2,221.4 572.5,216.5 572.8,216.2 573.0,216.9 573.2,219.1 573.5,221.1 573.8,221.3 574.0,216.5 574.2,222.7 574.5,221.8 574.8,216.8 575.0,221.4 575.2,222.0 575.5,216.6 575.8,222.7 576.0,219.4 576.2,221.8 576.5,222.5 576.8,221.5 577.0,220.0 577.2,218.2 577.5,222.4 577.8,217.0 578.0,217.9 578.2,222.5 578.5,219.4 578.8,222.8 579.0,217.2 579.2,217.8 579.5,223.3 579.8,223.0 580.0,222.9 580.2,218.3 580.5,222.7 580.8,222.4 581.0,214.5 581.2,222.1 581.5,222.2 581.8,218.7 582.0,217.7 582.2,222.8 582.5,223.4 582.8,220.5 583.0,223.7 583.2,223.7 583.5,218.3 583.8,222.4 584.0,222.6 584.2,220.4 584.5,218.8 584.8,218.1 585.0,219.5 585.2,218.2 585.5,222.8 585.8,222.9 586.0,223.0 586.2,224.0 586.5,223.2 586.8,220.2 587.0,220.4 587.2,223.8 587.5,224.0 587.8,218.6 588.0,221.0 588.2,223.0 588.5,218.8 588.8,223.2 589.0,218.8 589.2,218.8 589.5,223.1 589.8,223.4 590.0,220.0 590.2,219.0 590.5,223.5 590.8,223.3 591.0,219.4 591.2,223.9 591.5,223.5 591.8,219.8 592.0,224.7 592.2,223.8 592.5,219.5 592.8,224.3 593.0,221.4 593.2,219.4 593.5,220.5 593.8,221.0 594.0,223.8 594.2,224.3 594.5,220.6 594.8,220.2 595.0,224.1 595.2,224.8 595.5,220.0 595.8,224.5 596.0,222.0 596.2,222.5 596.5,220.1 596.8,225.2 597.0,222.4 597.2,222.5 597.5,225.1 597.8,222.2 598.0,225.1 598.2,220.2 598.5,220.3 598.8,224.3 599.0,224.5 599.2,220.5 599.5,222.5 599.8,220.5 600.0,225.5 600.2,224.8 600.5,220.5 600.8,224.8 601.0,220.5 601.2,224.4 601.5,222.7 601.8,220.5 602.0,224.8 602.2,221.3 602.5,225.0 602.8,220.5 603.0,224.5 603.2,225.4 603.5,221.6 603.8,220.5 604.0,225.6 604.2,225.3 604.5,220.6 604.8,224.8 605.0,222.3 605.2,224.5 605.5,224.4 605.8,222.2 606.0,225.1 606.2,220.6 606.5,220.6 606.8,224.6 607.0,222.4 607.2,224.6 607.5,225.3 607.8,221.0 608.0,220.7 608.2,221.5 608.5,224.9 608.8,222.4 609.0,225.0 609.2,224.6 609.5,222.6 609.8,220.5 610.0,220.6 610.2,222.0 610.5,220.6 610.8,224.9 611.0,225.2 611.2,224.9 611.5,222.3 611.8,220.6 612.0,225.1 612.2,225.1 612.5,225.3 612.8,220.5 613.0,224.6 613.2,222.7 613.5,220.7 613.8,224.9 614.0,224.4 614.2,224.6 614.5,224.9 614.8,222.7 615.0,225.0 615.2,220.6 615.5,224.8 615.8,220.6 616.0,225.2 616.2,220.6 616.5,221.1 616.8,224.6 617.0,225.0 617.2,224.8 617.5,225.4 617.8,225.0 618.0,225.2 618.2,225.6 618.5,224.4 618.8,225.3 619.0,224.7 619.2,225.4 619.5,221.2 619.8,220.6 620.0,225.0 620.2,225.1 620.5,221.1 620.8,220.6 621.0,224.9 621.2,222.3 621.5,222.7 621.8,224.6 622.0,223.0 622.2,222.2 622.5,225.2 622.8,220.7 623.0,225.0 623.2,224.8 623.5,224.8 623.8,220.7 624.0,225.3 624.2,225.0 624.5,220.8 624.8,222.6 625.0,221.9 625.2,224.8 625.5,225.4 625.8,224.5 626.0,221.5 626.2,225.2 626.5,225.1 626.8,220.6 627.0,225.4 627.2,221.0 627.5,220.7 627.8,220.6 628.0,221.1 628.2,221.3 628.5,224.6 628.8,225.4 629.0,220.7 629.2,224.6 629.5,224.7 629.8,220.7 630.0,222.5 630.2,221.4 630.5,221.4 630.8,225.0 631.0,225.1 631.2,224.5 631.5,222.7 631.8,221.1 632.0,221.0 632.2,222.7 632.5,221.0 632.8,225.0 633.0,225.3 633.2,220.7 633.5,221.6 633.8,224.8 634.0,225.1 634.2,222.5 634.5,221.3 634.8,225.3 635.0,225.2 635.2,225.1 635.5,220.8 635.8,221.0 636.0,222.2 636.2,225.6 636.5,221.4 636.8,224.6 637.0,225.1 637.2,220.7 637.5,221.2 637.8,222.7 638.0,222.2 638.2,222.9 638.5,220.7 638.8,221.5 639.0,225.5 639.2,220.8 639.5,225.5 639.8,221.2 640.0,225.6 640.2,221.4 640.5,220.7 640.8,221.8 641.0,223.1 641.2,225.3 641.5,225.0 641.8,220.7 642.0,222.9 642.2,220.7 642.5,225.6 642.8,225.5 643.0,222.0 643.2,220.7 643.5,225.1 643.8,221.1 644.0,225.2 644.2,221.5 644.5,220.7 644.8,220.9 645.0,221.1 645.2,221.0 645.5,221.2 645.8,220.9 646.0,225.2 646.2,225.3 646.5,220.7 646.8,225.3 647.0,221.2 647.2,225.5 647.5,224.5 647.8,224.8 648.0,225.1 648.2,221.8 648.5,224.9 648.8,225.3 649.0,221.3 649.2,221.5 649.5,225.7 649.8,222.9 650.0,225.0 650.2,224.7 650.5,220.7 650.8,220.9 651.0,224.5 651.2,219.0 651.5,224.6 651.8,220.7 652.0,225.0 652.2,225.6 652.5,225.1 652.8,225.5 653.0,225.7 653.2,225.4 653.5,225.0 653.8,224.6 654.0,222.8 654.2,224.5 654.5,220.7 654.8,225.5 655.0,225.6 655.2,221.4 655.5,224.8 655.8,222.5 656.0,225.7 656.2,220.7 656.5,221.3 656.8,222.2 657.0,225.3 657.2,222.6 657.5,222.7 657.8,224.7 658.0,224.7 658.2,221.7 658.5,225.7 658.8,221.3 659.0,220.7 659.2,222.3 659.5,225.5 659.8,222.9 660.0,223.0 660.2,221.0 660.5,220.9 660.8,225.5 661.0,225.4 661.2,225.3 661.5,220.8 661.8,225.0 662.0,224.9 662.2,220.7 662.5,224.9 662.8,220.7 663.0,222.0 663.2,225.1 663.5,224.5 663.8,225.0 664.0,220.8 664.2,225.3 664.5,225.3 664.8,224.6 665.0,224.9 665.2,225.1 665.5,221.3 665.8,222.5 666.0,225.0 666.2,222.5 666.5,225.5 666.8,221.4 667.0,222.2 667.2,220.8 667.5,223.0 667.8,222.2 668.0,225.3 668.2,222.3 668.5,220.2 668.8,223.2 669.0,225.0 669.2,222.2 669.5,225.2 669.8,225.5 670.0,225.4 670.2,224.7 670.5,219.6 670.8,221.7 671.0,225.0 671.2,221.9 671.5,224.7 671.8,225.0 672.0,222.8 672.2,225.3 672.5,225.7 672.8,222.0 673.0,223.3 673.2,225.0 673.5,221.6 673.8,221.4 674.0,220.9 674.2,221.7 674.5,221.3 674.8,221.2 675.0,220.8 675.2,225.8 675.5,225.4 675.8,225.5 676.0,225.4 676.2,220.8 676.5,225.5 676.8,225.7 677.0,224.7 677.2,221.3 677.5,224.9 677.8,220.8 678.0,224.9" fill="none" stroke="#3c1470" stroke-width="1.0" stroke-linejoin="miter"/><polyline points="370.0,237.5 370.2,237.5 370.5,237.5 370.8,237.5 371.0,237.5 371.2,237.5 371.5,237.5 371.8,237.5 372.0,237.5 372.2,237.5 372.5,237.5 372.8,237.5 373.0,237.5 373.2,237.5 373.5,237.5 373.8,237.5 374.0,237.5 374.2,237.5 374.5,237.5 374.8,237.5 375.0,237.5 375.2,237.5 375.5,237.5 375.8,237.5 376.0,237.5 376.2,237.5 376.5,237.5 376.8,237.5 377.0,237.5 377.2,237.5 377.5,237.5 377.8,237.5 378.0,237.5 378.2,237.5 378.5,237.5 378.8,237.5 379.0,237.5 379.2,237.5 379.5,237.5 379.8,237.5 380.0,237.5 380.2,237.5 380.5,237.5 380.8,237.5 381.0,237.5 381.2,237.5 381.5,237.5 381.8,237.5 382.0,237.5 382.2,237.5 382.5,237.5 382.8,237.5 383.0,237.5 383.2,237.5 383.5,237.5 383.8,237.5 384.0,237.5 384.2,237.5 384.5,237.5 384.8,237.5 385.0,237.5 385.2,237.5 385.5,237.5 385.8,237.5 386.0,237.5 386.2,237.5 386.5,237.5 386.8,237.5 387.0,237.5 387.2,237.5 387.5,237.5 387.8,237.5 388.0,237.5 388.2,237.5 388.5,237.5 388.8,237.5 389.0,237.5 389.2,237.5 389.5,237.5 389.8,237.5 390.0,237.5 390.2,237.5 390.5,237.5 390.8,237.5 391.0,237.5 391.2,237.5 391.5,237.5 391.8,237.5 392.0,237.5 392.2,237.5 392.5,237.5 392.8,237.5 393.0,237.5 393.2,237.5 393.5,237.5 393.8,237.5 394.0,237.5 394.2,237.5 394.5,237.5 394.8,237.5 395.0,237.5 395.2,237.5 395.5,237.5 395.8,237.5 396.0,237.5 396.2,237.5 396.5,237.5 396.8,237.5 397.0,237.5 397.2,237.5 397.5,237.5 397.8,237.5 398.0,237.5 398.2,237.5 398.5,237.5 398.8,237.5 399.0,237.5 399.2,237.5 399.5,237.5 399.8,237.5 400.0,237.5 400.2,237.5 400.5,237.5 400.8,237.5 401.0,237.5 401.2,237.5 401.5,237.5 401.8,237.5 402.0,237.5 402.2,237.5 402.5,237.5 402.8,237.5 403.0,237.5 403.2,237.5 403.5,237.5 403.8,237.5 404.0,237.5 404.2,237.5 404.5,237.5 404.8,237.5 405.0,237.5 405.2,237.5 405.5,237.5 405.8,237.5 406.0,237.5 406.2,237.5 406.5,237.5 406.8,237.5 407.0,237.5 407.2,237.5 407.5,237.5 407.8,237.5 408.0,237.5 408.2,237.5 408.5,237.5 408.8,237.5 409.0,237.5 409.2,237.5 409.5,237.5 409.8,237.5 410.0,237.5 410.2,237.5 410.5,237.5 410.8,237.5 411.0,237.5 411.2,237.5 411.5,237.5 411.8,237.5 412.0,237.5 412.2,237.5 412.5,237.5 412.8,237.5 413.0,237.5 413.2,237.5 413.5,237.5 413.8,237.5 414.0,237.5 414.2,237.5 414.5,237.5 414.8,237.5 415.0,237.5 415.2,237.5 415.5,237.5 415.8,237.5 416.0,237.5 416.2,237.5 416.5,237.5 416.8,237.5 417.0,237.5 417.2,237.5 417.5,237.5 417.8,237.5 418.0,237.5 418.2,237.5 418.5,237.5 418.8,237.5 419.0,237.5 419.2,237.5 419.5,237.5 419.8,237.5 420.0,237.5 420.2,237.5 420.5,237.5 420.8,237.5 421.0,234.4 421.2,234.4 421.5,237.1 421.8,234.7 422.0,233.4 422.2,234.7 422.5,234.2 422.8,233.6 423.0,234.0 423.2,234.6 423.5,235.1 423.8,237.5 424.0,237.5 424.2,235.9 424.5,236.3 424.8,236.1 425.0,237.5 425.2,237.5 425.5,237.2 425.8,236.2 426.0,236.4 426.2,236.7 426.5,233.4 426.8,234.5 427.0,236.4 427.2,230.5 427.5,236.5 427.8,235.7 428.0,233.5 428.2,231.6 428.5,231.8 428.8,232.9 429.0,232.5 429.2,235.3 429.5,234.7 429.8,234.6 430.0,232.3 430.2,230.6 430.5,234.6 430.8,231.2 431.0,232.0 431.2,234.6 431.5,230.4 431.8,230.2 432.0,229.8 432.2,233.2 432.5,226.8 432.8,233.0 433.0,232.7 433.2,229.1 433.5,233.4 433.8,229.6 434.0,232.3 434.2,232.5 434.5,228.5 434.8,231.6 435.0,231.6 435.2,228.6 435.5,231.9 435.8,231.5 436.0,229.2 436.2,231.2 436.5,227.7 436.8,227.6 437.0,227.4 437.2,226.9 437.5,226.9 437.8,224.4 438.0,229.9 438.2,230.5 438.5,230.6 438.8,223.5 439.0,229.8 439.2,226.4 439.5,229.4 439.8,226.0 440.0,229.9 440.2,229.8 440.5,230.0 440.8,226.1 441.0,225.7 441.2,229.6 441.5,229.8 441.8,227.0 442.0,225.5 442.2,225.7 442.5,225.8 442.8,225.1 443.0,229.5 443.2,225.3 443.5,228.9 443.8,229.0 444.0,225.7 444.2,229.4 444.5,225.3 444.8,226.8 445.0,228.7 445.2,225.9 445.5,225.2 445.8,220.3 446.0,226.1 446.2,225.4 446.5,225.2 446.8,224.5 447.0,225.3 447.2,225.8 447.5,228.8 447.8,225.1 448.0,228.7 448.2,228.9 448.5,225.1 448.8,229.4 449.0,228.9 449.2,227.3 449.5,228.6 449.8,229.2 450.0,228.5 450.2,228.9 450.5,228.9 450.8,228.8 451.0,227.0 451.2,229.0 451.5,228.5 451.8,228.9 452.0,226.0 452.2,225.2 452.5,225.3 452.8,228.8 453.0,225.1 453.2,225.6 453.5,228.7 453.8,228.9 454.0,229.4 454.2,229.4 454.5,225.4 454.8,226.4 455.0,229.4 455.2,226.5 455.5,225.1 455.8,228.8 456.0,225.4 456.2,225.6 456.5,223.5 456.8,229.1 457.0,227.1 457.2,225.9 457.5,228.4 457.8,228.7 458.0,226.9 458.2,228.8 458.5,225.1 458.8,228.9 459.0,228.7 459.2,228.4 459.5,225.0 459.8,228.6 460.0,225.3 460.2,228.9 460.5,223.8 460.8,228.7 461.0,228.7 461.2,224.0 461.5,229.2 461.8,226.9 462.0,224.9 462.2,228.7 462.5,225.8 462.8,224.9 463.0,225.6 463.2,221.4 463.5,224.8 463.8,226.7 464.0,225.8 464.2,223.5 464.5,226.6 464.8,226.4 465.0,226.7 465.2,224.3 465.5,228.8 465.8,228.2 466.0,220.1 466.2,224.7 466.5,224.7 466.8,228.5 467.0,225.2 467.2,228.8 467.5,228.5 467.8,220.4 468.0,228.8 468.2,226.5 468.5,228.8 468.8,228.5 469.0,226.7 469.2,228.1 469.5,228.9 469.8,225.3 470.0,228.0 470.2,228.6 470.5,228.7 470.8,227.9 471.0,224.7 471.2,225.1 471.5,223.8 471.8,225.6 472.0,227.5 472.2,228.0 472.5,225.4 472.8,227.4 473.0,223.6 473.2,223.5 473.5,227.4 473.8,227.0 474.0,222.2 474.2,227.3 474.5,227.5 474.8,227.2 475.0,227.4 475.2,227.4 475.5,226.6 475.8,227.3 476.0,222.9 476.2,222.8 476.5,222.5 476.8,222.4 477.0,227.1 477.2,222.2 477.5,222.2 477.8,226.4 478.0,222.4 478.2,222.4 478.5,222.2 478.8,226.6 479.0,222.9 479.2,226.3 479.5,220.6 479.8,221.0 480.0,220.3 480.2,225.2 480.5,221.1 480.8,225.0 481.0,224.2 481.2,216.5 481.5,224.8 481.8,220.5 482.0,218.2 482.2,223.5 482.5,217.5 482.8,218.6 483.0,218.5 483.2,223.4 483.5,216.5 483.8,222.8 484.0,217.1 484.2,217.4 484.5,217.0 484.8,222.4 485.0,221.3 485.2,221.9 485.5,220.5 485.8,215.9 486.0,219.7 486.2,215.9 486.5,212.0 486.8,220.1 487.0,210.9 487.2,219.1 487.5,212.4 487.8,217.0 488.0,216.9 488.2,209.8 488.5,216.4 488.8,211.3 489.0,208.9 489.2,215.7 489.5,210.2 489.8,204.4 490.0,203.7 490.2,203.0 490.5,202.4 490.8,200.2 491.0,205.4 491.2,200.1 491.5,198.9 491.8,197.8 492.0,199.0 492.2,195.7 492.5,205.8 492.8,198.8 493.0,192.9 493.2,182.3 493.5,204.0 493.8,204.9 494.0,201.3 494.2,191.9 494.5,192.8 494.8,190.7 495.0,200.0 495.2,189.9 495.5,167.6 495.8,179.2 496.0,177.8 496.2,176.0 496.5,174.9 496.8,190.2 497.0,189.8 497.2,188.8 497.5,157.4 497.8,187.2 498.0,185.1 498.2,159.7 498.5,159.2 498.8,153.3 499.0,174.1 499.2,171.5 499.5,170.0 499.8,149.2 500.0,166.5 500.2,141.1 500.5,157.3 500.8,156.9 501.0,155.8 501.2,106.7 501.5,147.5 501.8,121.2 502.0,146.0 502.2,106.2 502.5,119.6 502.8,107.4 503.0,80.4 503.2,122.3 503.5,86.4 503.8,117.9 504.0,112.2 504.2,118.0 504.5,107.3 504.8,107.5 505.0,83.0 505.2,103.7 505.5,97.6 505.8,96.0 506.0,52.7 506.2,102.3 506.5,98.2 506.8,89.8 507.0,86.6 507.2,85.9 507.5,38.9 507.8,43.5 508.0,47.0 508.2,81.5 508.5,82.8 508.8,23.0 509.0,94.6 509.2,35.9 509.5,96.9 509.8,34.2 510.0,86.6 510.2,99.7 510.5,100.2 510.8,48.1 511.0,101.6 511.2,73.7 511.5,106.2 511.8,61.5 512.0,106.3 512.2,85.3 512.5,86.0 512.8,106.3 513.0,110.1 513.2,85.6 513.5,85.1 513.8,124.9 514.0,83.3 514.2,126.4 514.5,102.2 514.8,112.1 515.0,128.0 515.2,103.9 515.5,135.4 515.8,136.9 516.0,132.4 516.2,140.1 516.5,111.5 516.8,113.3 517.0,116.0 517.2,145.4 517.5,121.0 517.8,123.0 518.0,153.0 518.2,128.1 518.5,129.6 518.8,155.6 519.0,143.8 519.2,156.6 519.5,162.8 519.8,144.3 520.0,166.3 520.2,163.4 520.5,147.5 520.8,150.8 521.0,151.4 521.2,169.5 521.5,174.3 521.8,175.0 522.0,160.2 522.2,178.0 522.5,162.5 522.8,180.3 523.0,183.0 523.2,182.7 523.5,181.8 523.8,169.3 524.0,185.0 524.2,187.7 524.5,185.4 524.8,188.8 525.0,188.1 525.2,177.7 525.5,177.6 525.8,193.0 526.0,184.2 526.2,191.6 526.5,175.0 526.8,184.5 527.0,187.4 527.2,188.8 527.5,188.0 527.8,195.9 528.0,196.6 528.2,197.5 528.5,194.6 528.8,199.4 529.0,190.5 529.2,191.4 529.5,201.9 529.8,193.4 530.0,195.3 530.2,194.4 530.5,195.0 530.8,204.3 531.0,205.0 531.2,205.2 531.5,204.6 531.8,196.9 532.0,197.4 532.2,207.3 532.5,205.6 532.8,198.6 533.0,207.0 533.2,207.8 533.5,207.9 533.8,201.2 534.0,208.8 534.2,200.7 534.5,209.9 534.8,202.3 535.0,209.2 535.2,210.1 535.5,202.9 535.8,209.7 536.0,210.8 536.2,203.7 536.5,206.1 536.8,212.0 537.0,207.4 537.2,211.1 537.5,211.7 537.8,205.0 538.0,206.1 538.2,212.5 538.5,206.8 538.8,205.8 539.0,213.8 539.2,207.4 539.5,214.0 539.8,199.4 540.0,207.7 540.2,207.7 540.5,198.9 540.8,213.8 541.0,208.6 541.2,208.9 541.5,209.5 541.8,214.9 542.0,215.9 542.2,210.4 542.5,215.4 542.8,205.1 543.0,210.4 543.2,210.9 543.5,210.7 543.8,210.8 544.0,210.7 544.2,216.2 544.5,211.1 544.8,211.1 545.0,216.5 545.2,211.6 545.5,213.8 545.8,218.0 546.0,217.6 546.2,215.0 546.5,218.0 546.8,217.5 547.0,213.1 547.2,213.8 547.5,218.0 547.8,219.0 548.0,214.2 548.2,213.7 548.5,219.2 548.8,219.4 549.0,214.4 549.2,219.2 549.5,219.7 549.8,220.2 550.0,217.7 550.2,220.5 550.5,220.5 550.8,220.2 551.0,220.1 551.2,221.3 551.5,214.0 551.8,220.5 552.0,218.4 552.2,221.6 552.5,221.9 552.8,221.3 553.0,221.6 553.2,222.3 553.5,218.3 553.8,221.9 554.0,220.2 554.2,218.4 554.5,223.2 554.8,220.7 555.0,223.3 555.2,218.9 555.5,223.0 555.8,222.5 556.0,216.3 556.2,223.1 556.5,219.1 556.8,223.9 557.0,223.9 557.2,219.5 557.5,219.3 557.8,219.0 558.0,221.8 558.2,219.5 558.5,224.2 558.8,223.7 559.0,223.5 559.2,224.5 559.5,220.7 559.8,224.3 560.0,217.7 560.2,224.8 560.5,220.4 560.8,220.4 561.0,224.8 561.2,224.2 561.5,222.2 561.8,221.7 562.0,221.3 562.2,220.7 562.5,221.1 562.8,221.3 563.0,221.0 563.2,218.4 563.5,224.7 563.8,224.6 564.0,221.8 564.2,225.6 564.5,222.5 564.8,221.9 565.0,225.7 565.2,221.9 565.5,225.3 565.8,225.5 566.0,223.3 566.2,222.0 566.5,223.9 566.8,225.5 567.0,225.4 567.2,225.6 567.5,223.3 567.8,223.9 568.0,225.7 568.2,222.8 568.5,223.6 568.8,222.6 569.0,218.9 569.2,225.8 569.5,226.0 569.8,224.2 570.0,226.5 570.2,219.4 570.5,226.2 570.8,223.0 571.0,226.8 571.2,226.7 571.5,224.1 571.8,219.5 572.0,223.6 572.2,226.6 572.5,226.7 572.8,221.9 573.0,223.0 573.2,223.0 573.5,224.4 573.8,226.1 574.0,226.6 574.2,226.6 574.5,226.3 574.8,223.5 575.0,223.2 575.2,226.8 575.5,225.0 575.8,224.8 576.0,220.6 576.2,226.5 576.5,226.5 576.8,221.3 577.0,226.9 577.2,223.4 577.5,226.7 577.8,223.5 578.0,227.1 578.2,223.5 578.5,224.8 578.8,223.5 579.0,225.2 579.2,227.1 579.5,226.6 579.8,227.5 580.0,227.2 580.2,224.9 580.5,227.3 580.8,224.1 581.0,225.6 581.2,223.9 581.5,227.0 581.8,225.3 582.0,225.0 582.2,224.3 582.5,227.1 582.8,226.8 583.0,227.8 583.2,227.1 583.5,224.1 583.8,225.3 584.0,227.7 584.2,224.2 584.5,227.7 584.8,227.4 585.0,227.8 585.2,225.7 585.5,224.8 585.8,224.4 586.0,224.8 586.2,227.4 586.5,227.4 586.8,227.3 587.0,224.5 587.2,224.3 587.5,228.0 587.8,224.8 588.0,224.6 588.2,226.1 588.5,228.1 588.8,227.6 589.0,227.4 589.2,224.8 589.5,227.5 589.8,224.8 590.0,224.6 590.2,224.7 590.5,228.1 590.8,227.6 591.0,228.2 591.2,227.8 591.5,228.2 591.8,224.7 592.0,228.1 592.2,226.0 592.5,224.8 592.8,221.7 593.0,225.2 593.2,227.9 593.5,228.3 593.8,224.1 594.0,225.4 594.2,228.2 594.5,225.1 594.8,228.4 595.0,226.4 595.2,228.5 595.5,227.9 595.8,228.4 596.0,228.3 596.2,225.2 596.5,225.2 596.8,228.0 597.0,228.1 597.2,228.2 597.5,225.7 597.8,228.0 598.0,228.1 598.2,228.1 598.5,226.8 598.8,228.3 599.0,225.8 599.2,228.9 599.5,225.9 599.8,229.0 600.0,228.2 600.2,227.3 600.5,228.4 600.8,228.3 601.0,222.6 601.2,228.7 601.5,225.5 601.8,228.6 602.0,228.4 602.2,228.5 602.5,228.9 602.8,228.8 603.0,228.4 603.2,228.3 603.5,226.6 603.8,228.7 604.0,226.8 604.2,225.8 604.5,225.6 604.8,228.5 605.0,229.1 605.2,226.6 605.5,228.6 605.8,226.2 606.0,226.2 606.2,228.4 606.5,228.8 606.8,225.8 607.0,229.2 607.2,228.4 607.5,226.1 607.8,229.0 608.0,229.0 608.2,228.6 608.5,228.8 608.8,225.9 609.0,226.4 609.2,229.1 609.5,228.6 609.8,228.6 610.0,226.2 610.2,226.7 610.5,226.0 610.8,225.3 611.0,226.3 611.2,226.8 611.5,224.2 611.8,229.1 612.0,227.2 612.2,226.4 612.5,226.1 612.8,227.0 613.0,226.4 613.2,226.7 613.5,229.2 613.8,225.9 614.0,226.0 614.2,229.3 614.5,229.2 614.8,226.0 615.0,225.9 615.2,225.7 615.5,225.9 615.8,226.8 616.0,229.0 616.2,226.3 616.5,226.8 616.8,225.9 617.0,226.5 617.2,226.7 617.5,229.4 617.8,228.9 618.0,229.2 618.2,229.1 618.5,226.5 618.8,226.0 619.0,229.5 619.2,226.0 619.5,226.0 619.8,226.0 620.0,229.4 620.2,225.6 620.5,229.2 620.8,228.8 621.0,226.0 621.2,229.1 621.5,226.1 621.8,227.4 622.0,227.7 622.2,227.3 622.5,228.8 622.8,226.1 623.0,229.2 623.2,229.4 623.5,226.6 623.8,226.2 624.0,226.1 624.2,226.9 624.5,226.1 624.8,227.3 625.0,227.7 625.2,229.0 625.5,229.1 625.8,226.2 626.0,226.2 626.2,227.9 626.5,229.5 626.8,226.2 627.0,229.0 627.2,226.4 627.5,229.7 627.8,226.8 628.0,226.5 628.2,229.4 628.5,229.3 628.8,226.3 629.0,229.8 629.2,224.0 629.5,229.2 629.8,229.5 630.0,229.5 630.2,226.3 630.5,224.1 630.8,226.3 631.0,229.1 631.2,228.0 631.5,226.6 631.8,229.8 632.0,226.9 632.2,225.9 632.5,226.3 632.8,226.3 633.0,226.3 633.2,229.6 633.5,227.2 633.8,225.7 634.0,226.9 634.2,229.2 634.5,229.5 634.8,229.2 635.0,229.2 635.2,229.7 635.5,229.7 635.8,227.4 636.0,226.5 636.2,228.0 636.5,229.3 636.8,227.6 637.0,226.7 637.2,226.6 637.5,229.3 637.8,229.4 638.0,229.4 638.2,226.9 638.5,226.6 638.8,229.7 639.0,226.5 639.2,226.5 639.5,229.3 639.8,229.7 640.0,226.5 640.2,226.5 640.5,227.3 640.8,226.9 641.0,226.8 641.2,227.4 641.5,227.0 641.8,230.0 642.0,229.4 642.2,227.0 642.5,226.6 642.8,226.8 643.0,226.8 643.2,227.1 643.5,227.3 643.8,229.6 644.0,229.7 644.2,227.4 644.5,229.7 644.8,229.5 645.0,227.1 645.2,226.7 645.5,229.8 645.8,229.7 646.0,229.8 646.2,226.7 646.5,227.1 646.8,227.2 647.0,229.9 647.2,227.4 647.5,224.5 647.8,229.7 648.0,229.9 648.2,226.7 648.5,227.2 648.8,228.1 649.0,226.8 649.2,229.5 649.5,228.5 649.8,226.8 650.0,227.0 650.2,230.1 650.5,227.1 650.8,227.3 651.0,228.4 651.2,230.2 651.5,228.2 651.8,229.9 652.0,230.1 652.2,226.9 652.5,226.9 652.8,230.3 653.0,227.2 653.2,226.9 653.5,226.9 653.8,227.5 654.0,230.3 654.2,225.6 654.5,230.1 654.8,230.4 655.0,230.1 655.2,229.9 655.5,227.1 655.8,226.9 656.0,229.8 656.2,228.3 656.5,229.9 656.8,229.6 657.0,227.0 657.2,227.1 657.5,227.1 657.8,229.9 658.0,230.1 658.2,227.1 658.5,227.1 658.8,230.5 659.0,227.8 659.2,230.2 659.5,224.2 659.8,227.2 660.0,226.5 660.2,226.8 660.5,227.2 660.8,228.8 661.0,227.1 661.2,230.6 661.5,230.0 661.8,229.8 662.0,230.0 662.2,230.5 662.5,227.1 662.8,227.1 663.0,227.3 663.2,230.0 663.5,229.8 663.8,228.8 664.0,230.4 664.2,230.0 664.5,228.6 664.8,226.9 665.0,227.2 665.2,230.1 665.5,230.6 665.8,227.7 666.0,227.8 666.2,228.4 666.5,230.0 666.8,224.4 667.0,230.5 667.2,230.3 667.5,230.1 667.8,228.8 668.0,227.4 668.2,227.3 668.5,230.7 668.8,227.3 669.0,225.1 669.2,227.4 669.5,230.3 669.8,230.1 670.0,227.5 670.2,227.3 670.5,228.9 670.8,230.1 671.0,227.4 671.2,228.2 671.5,228.2 671.8,230.3 672.0,230.3 672.2,230.8 672.5,227.9 672.8,230.4 673.0,228.6 673.2,225.3 673.5,227.4 673.8,228.0 674.0,230.2 674.2,227.4 674.5,230.3 674.8,230.4 675.0,230.5 675.2,227.4 675.5,227.4 675.8,227.6 676.0,228.2 676.2,230.7 676.5,224.8 676.8,227.4 677.0,230.9 677.2,227.5 677.5,228.0 677.8,227.7 678.0,230.7" fill="none" stroke="#121212" stroke-width="1.0" stroke-linejoin="miter"/></g>
<rect x="31" y="2" width="303" height="243" fill="none" stroke="#1a1a1a" stroke-width="1.4"/>
<rect x="370" y="2" width="308" height="246" fill="none" stroke="#1a1a1a" stroke-width="1.4"/>
<line x1="46.70" y1="245" x2="46.70" y2="250.5" stroke="#1a1a1a" stroke-width="1.3"/><line x1="66.69" y1="245" x2="66.69" y2="248" stroke="#1a1a1a" stroke-width="1.1"/><line x1="86.67" y1="245" x2="86.67" y2="250.5" stroke="#1a1a1a" stroke-width="1.3"/><line x1="106.66" y1="245" x2="106.66" y2="248" stroke="#1a1a1a" stroke-width="1.1"/><line x1="126.64" y1="245" x2="126.64" y2="250.5" stroke="#1a1a1a" stroke-width="1.3"/><line x1="146.62" y1="245" x2="146.62" y2="248" stroke="#1a1a1a" stroke-width="1.1"/><line x1="166.61" y1="245" x2="166.61" y2="250.5" stroke="#1a1a1a" stroke-width="1.3"/><line x1="186.60" y1="245" x2="186.60" y2="248" stroke="#1a1a1a" stroke-width="1.1"/><line x1="206.58" y1="245" x2="206.58" y2="250.5" stroke="#1a1a1a" stroke-width="1.3"/><line x1="226.56" y1="245" x2="226.56" y2="248" stroke="#1a1a1a" stroke-width="1.1"/><line x1="246.55" y1="245" x2="246.55" y2="250.5" stroke="#1a1a1a" stroke-width="1.3"/><line x1="266.54" y1="245" x2="266.54" y2="248" stroke="#1a1a1a" stroke-width="1.1"/><line x1="286.52" y1="245" x2="286.52" y2="250.5" stroke="#1a1a1a" stroke-width="1.3"/><line x1="306.50" y1="245" x2="306.50" y2="248" stroke="#1a1a1a" stroke-width="1.1"/><line x1="326.49" y1="245" x2="326.49" y2="250.5" stroke="#1a1a1a" stroke-width="1.3"/>
<line x1="377.90" y1="248" x2="377.90" y2="253.5" stroke="#1a1a1a" stroke-width="1.3"/><line x1="398.83" y1="248" x2="398.83" y2="251" stroke="#1a1a1a" stroke-width="1.1"/><line x1="419.77" y1="248" x2="419.77" y2="253.5" stroke="#1a1a1a" stroke-width="1.3"/><line x1="440.70" y1="248" x2="440.70" y2="251" stroke="#1a1a1a" stroke-width="1.1"/><line x1="461.64" y1="248" x2="461.64" y2="253.5" stroke="#1a1a1a" stroke-width="1.3"/><line x1="482.57" y1="248" x2="482.57" y2="251" stroke="#1a1a1a" stroke-width="1.1"/><line x1="503.51" y1="248" x2="503.51" y2="253.5" stroke="#1a1a1a" stroke-width="1.3"/><line x1="524.44" y1="248" x2="524.44" y2="251" stroke="#1a1a1a" stroke-width="1.1"/><line x1="545.38" y1="248" x2="545.38" y2="253.5" stroke="#1a1a1a" stroke-width="1.3"/><line x1="566.31" y1="248" x2="566.31" y2="251" stroke="#1a1a1a" stroke-width="1.1"/><line x1="587.25" y1="248" x2="587.25" y2="253.5" stroke="#1a1a1a" stroke-width="1.3"/><line x1="608.18" y1="248" x2="608.18" y2="251" stroke="#1a1a1a" stroke-width="1.1"/><line x1="629.12" y1="248" x2="629.12" y2="253.5" stroke="#1a1a1a" stroke-width="1.3"/><line x1="650.05" y1="248" x2="650.05" y2="251" stroke="#1a1a1a" stroke-width="1.1"/><line x1="670.99" y1="248" x2="670.99" y2="253.5" stroke="#1a1a1a" stroke-width="1.3"/>
<text x="46.70" y="265.7" text-anchor="middle" class="tk">15.0</text><text x="86.67" y="265.7" text-anchor="middle" class="tk">17.5</text><text x="126.64" y="265.7" text-anchor="middle" class="tk">20.0</text><text x="166.61" y="265.7" text-anchor="middle" class="tk">22.5</text><text x="206.58" y="265.7" text-anchor="middle" class="tk">25.0</text><text x="246.55" y="265.7" text-anchor="middle" class="tk">27.5</text><text x="286.52" y="265.7" text-anchor="middle" class="tk">30.0</text><text x="326.49" y="265.7" text-anchor="middle" class="tk">32.5</text>
<text x="377.90" y="267.6" text-anchor="middle" class="tk">15.0</text><text x="419.77" y="267.6" text-anchor="middle" class="tk">17.5</text><text x="461.64" y="267.6" text-anchor="middle" class="tk">20.0</text><text x="503.51" y="267.6" text-anchor="middle" class="tk">22.5</text><text x="545.38" y="267.6" text-anchor="middle" class="tk">25.0</text><text x="587.25" y="267.6" text-anchor="middle" class="tk">27.5</text><text x="629.12" y="267.6" text-anchor="middle" class="tk">30.0</text><text x="670.99" y="267.6" text-anchor="middle" class="tk">32.5</text>
<text x="112.9" y="286.8" class="ax" textLength="138" lengthAdjust="spacingAndGlyphs">Retention Time (min)</text>
<text x="453.6" y="288.6" class="ax" textLength="140" lengthAdjust="spacingAndGlyphs">Retention Time (min)</text>
<text transform="translate(16.8,203.7) rotate(-90)" class="yl" textLength="171" lengthAdjust="spacingAndGlyphs">Normalized Intensity (a.u.)</text>
<text transform="translate(356.5,204.3) rotate(-90)" class="yl" textLength="172" lengthAdjust="spacingAndGlyphs">Normalized Intensity (a.u.)</text>
<text transform="translate(-0.3,20.6) scale(1,1.12)" class="pl" textLength="27.2" lengthAdjust="spacingAndGlyphs">(a)</text>
<text transform="translate(336.3,20.6) scale(1,1.12)" class="pl" textLength="28.2" lengthAdjust="spacingAndGlyphs">(b)</text>
<line x1="33.7" y1="10.40" x2="57.4" y2="10.40" stroke="#e2ee70" stroke-width="1.1"/><text transform="translate(59.4,13.80) scale(1,1.12)" class="lg" style="font-size:10.5px">m/z=278</text><line x1="33.7" y1="23.55" x2="57.4" y2="23.55" stroke="#f0c060" stroke-width="1.1"/><text transform="translate(59.4,26.95) scale(1,1.12)" class="lg" style="font-size:10.5px">m/z=264</text><line x1="33.7" y1="36.70" x2="57.4" y2="36.70" stroke="#f0a070" stroke-width="1.1"/><text transform="translate(59.4,40.10) scale(1,1.12)" class="lg" style="font-size:10.5px">m/z=250</text><line x1="33.7" y1="49.85" x2="57.4" y2="49.85" stroke="#e87068" stroke-width="1.1"/><text transform="translate(59.4,53.25) scale(1,1.12)" class="lg" style="font-size:10.5px">m/z=236</text><line x1="33.7" y1="63.00" x2="57.4" y2="63.00" stroke="#c84870" stroke-width="1.1"/><text transform="translate(59.4,66.40) scale(1,1.12)" class="lg" style="font-size:10.5px">m/z=222</text><line x1="33.7" y1="76.15" x2="57.4" y2="76.15" stroke="#9a3a90" stroke-width="1.1"/><text transform="translate(59.4,79.55) scale(1,1.12)" class="lg" style="font-size:10.5px">m/z=208</text><line x1="33.7" y1="89.30" x2="57.4" y2="89.30" stroke="#6a3090" stroke-width="1.1"/><text transform="translate(59.4,92.70) scale(1,1.12)" class="lg" style="font-size:10.5px">m/z=194</text>
<line x1="605.3" y1="16.20" x2="628.4" y2="16.20" stroke="#d84444" stroke-width="1.1"/><text transform="translate(631.7,19.60) scale(1,1.12)" class="lg" style="font-size:10.7px">m/z=287</text><line x1="605.3" y1="29.40" x2="628.4" y2="29.40" stroke="#a8306e" stroke-width="1.1"/><text transform="translate(631.7,32.80) scale(1,1.12)" class="lg" style="font-size:10.7px">m/z=273</text><line x1="605.3" y1="42.60" x2="628.4" y2="42.60" stroke="#762490" stroke-width="1.1"/><text transform="translate(631.7,46.00) scale(1,1.12)" class="lg" style="font-size:10.7px">m/z=259</text><line x1="605.3" y1="55.80" x2="628.4" y2="55.80" stroke="#442086" stroke-width="1.1"/><text transform="translate(631.7,59.20) scale(1,1.12)" class="lg" style="font-size:10.7px">m/z=245</text><line x1="605.3" y1="69.00" x2="628.4" y2="69.00" stroke="#1c1c1c" stroke-width="1.1"/><text transform="translate(631.7,72.40) scale(1,1.12)" class="lg" style="font-size:10.7px">m/z=231</text>
<polygon points="234.40,40.05 259.70,54.30 259.70,83.60 234.40,97.85 209.10,83.60 209.10,54.30" fill="none" stroke="#2a2a2a" stroke-width="1.2"/><line x1="215.56" y1="55.02" x2="231.75" y2="45.90" stroke="#2a2a2a" stroke-width="1.2"/><line x1="255.90" y1="59.57" x2="255.90" y2="78.33" stroke="#2a2a2a" stroke-width="1.2"/><line x1="231.75" y1="92.00" x2="215.56" y2="82.88" stroke="#2a2a2a" stroke-width="1.2"/>
<line x1="234.40" y1="40.05" x2="234.40" y2="17" stroke="#2a2a2a" stroke-width="1.2"/>
<line x1="259.70" y1="54.30" x2="278.9" y2="42.9" stroke="#2a2a2a" stroke-width="1.2"/>
<line x1="259.70" y1="83.60" x2="280.1" y2="96.7" stroke="#2a2a2a" stroke-width="1.2"/>
<text x="229.3" y="14.6" class="mo" style="font-size:11.3px" textLength="17.2" lengthAdjust="spacingAndGlyphs">OH</text>
<text x="279.6" y="43.7" class="mo" style="font-size:11.3px" textLength="18" lengthAdjust="spacingAndGlyphs">OH</text>
<text x="280.1" y="101.8" class="mo" textLength="39" lengthAdjust="spacingAndGlyphs">C(6~12)</text>
<polygon points="404.30,14.60 433.70,30.50 433.70,62.70 404.30,78.60 374.90,62.70 374.90,30.50" fill="none" stroke="#2a2a2a" stroke-width="1.2"/><line x1="407.61" y1="20.70" x2="426.43" y2="30.88" stroke="#2a2a2a" stroke-width="1.2"/><line x1="378.70" y1="56.90" x2="378.70" y2="36.30" stroke="#2a2a2a" stroke-width="1.2"/><line x1="426.43" y1="62.32" x2="407.61" y2="72.50" stroke="#2a2a2a" stroke-width="1.2"/>
<line x1="433.70" y1="30.50" x2="455.9" y2="17.6" stroke="#2a2a2a" stroke-width="1.2"/>
<text x="456.6" y="18" class="mo" textLength="51.5" lengthAdjust="spacingAndGlyphs">C(11~15)</text>
</svg>
</body></html>
